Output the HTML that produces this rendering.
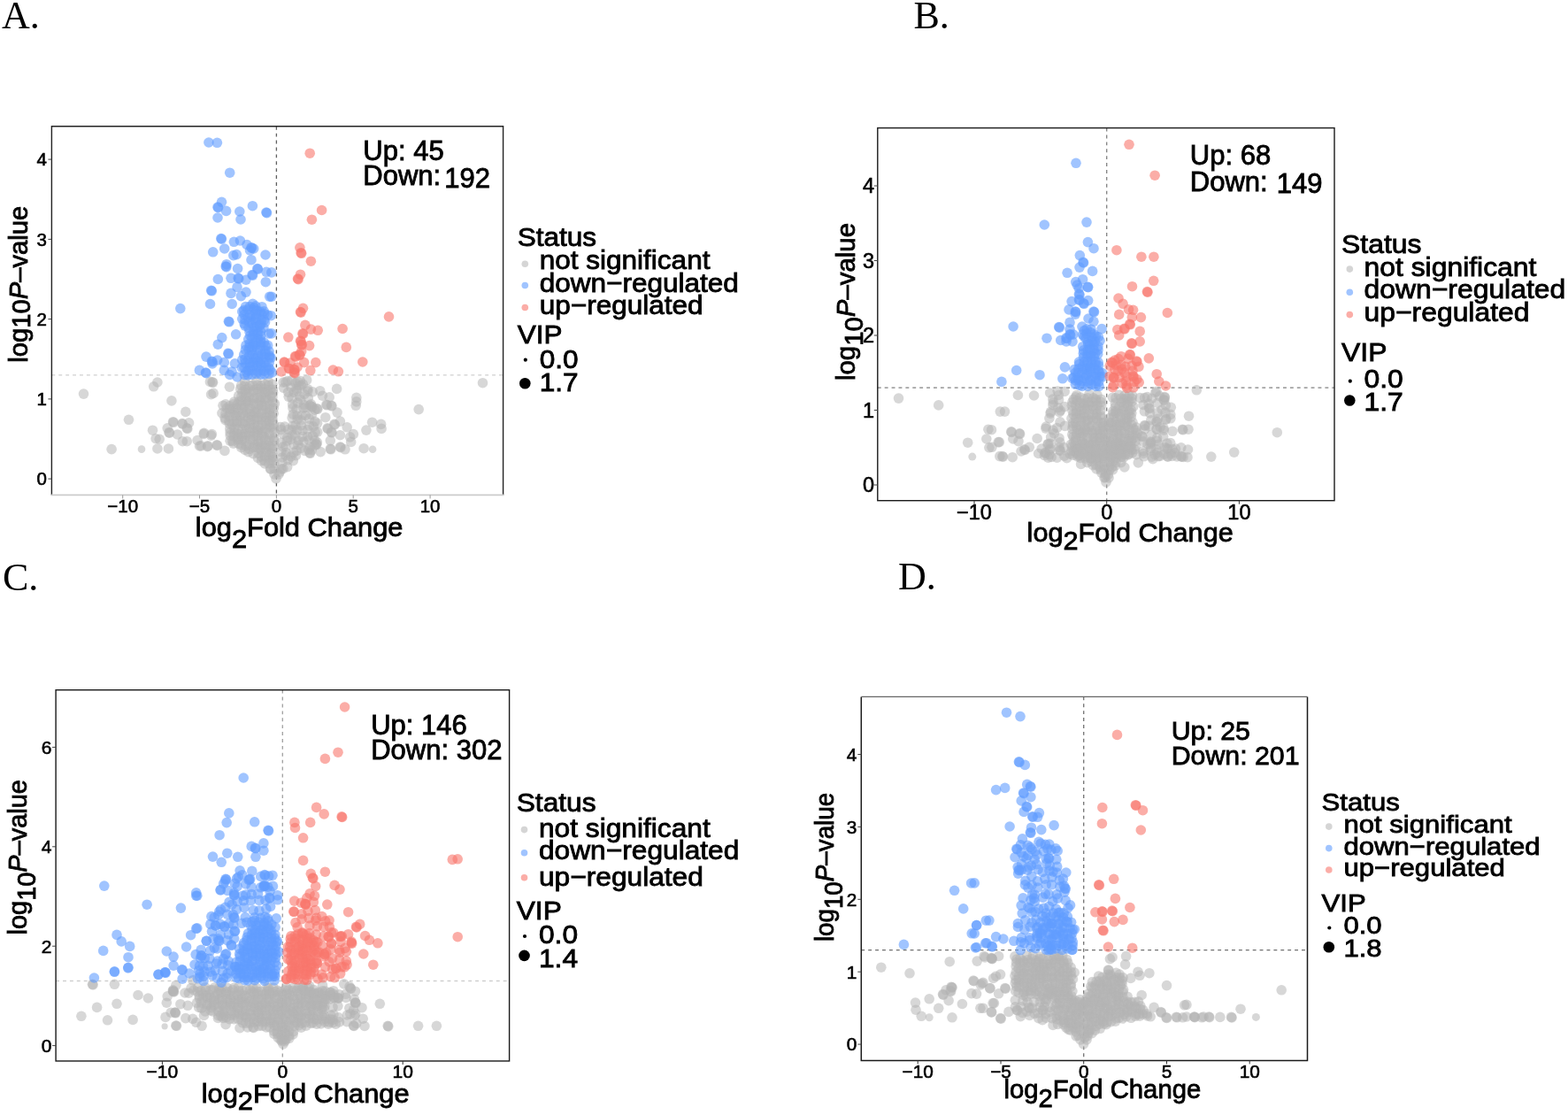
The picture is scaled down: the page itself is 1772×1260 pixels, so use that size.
<!DOCTYPE html>
<html><head><meta charset="utf-8"><title>Volcano plots</title>
<style>
html,body{margin:0;padding:0;background:#fff;}
body{width:1772px;height:1260px;overflow:hidden;}
svg{display:block;}
text{fill:#000;}
.t{stroke:#000;stroke-width:0.85px;}
.tk{stroke:#000;stroke-width:0.6px;}
.lab{stroke:none;}
</style></head>
<body>
<svg width="1772" height="1260" viewBox="0 0 1772 1260">
<rect width="1772" height="1260" fill="#fff"/>
<line x1="58.4" y1="423.8" x2="568.6" y2="423.8" stroke="#cfcfcf" stroke-width="1.3" stroke-dasharray="3.9,4"/>
<line x1="312.4" y1="142.8" x2="312.4" y2="559.4" stroke="#606060" stroke-width="1.3" stroke-dasharray="3.9,4"/>
<line x1="991.8" y1="438.1" x2="1508.0" y2="438.1" stroke="#808080" stroke-width="1.3" stroke-dasharray="3.9,4"/>
<line x1="1250.7" y1="144.6" x2="1250.7" y2="565.7" stroke="#808080" stroke-width="1.3" stroke-dasharray="3.9,4"/>
<line x1="63.1" y1="1108.5" x2="575.6" y2="1108.5" stroke="#cfcfcf" stroke-width="1.3" stroke-dasharray="3.9,4"/>
<line x1="319.3" y1="779.7" x2="319.3" y2="1199.0" stroke="#a0a0a0" stroke-width="1.3" stroke-dasharray="3.9,4"/>
<line x1="973.3" y1="1073.6" x2="1477.5" y2="1073.6" stroke="#707070" stroke-width="1.3" stroke-dasharray="3.9,4"/>
<line x1="1224.7" y1="787.4" x2="1224.7" y2="1198.4" stroke="#707070" stroke-width="1.3" stroke-dasharray="3.9,4"/>
<g fill="#b3b3b3" fill-opacity="0.53">
<circle cx="94.5" cy="445.1" r="5.8"/>
<circle cx="177.9" cy="432.0" r="5.8"/>
<circle cx="173.7" cy="436.8" r="5.8"/>
<circle cx="193.9" cy="452.9" r="5.8"/>
<circle cx="209.8" cy="465.4" r="5.8"/>
<circle cx="145.5" cy="474.3" r="5.8"/>
<circle cx="195.5" cy="476.7" r="5.8"/>
<circle cx="196.1" cy="477.3" r="5.8"/>
<circle cx="205.8" cy="478.5" r="5.8"/>
<circle cx="206.4" cy="479.1" r="5.8"/>
<circle cx="213.6" cy="477.9" r="5.8"/>
<circle cx="211.2" cy="483.8" r="5.8"/>
<circle cx="211.8" cy="484.4" r="5.8"/>
<circle cx="189.2" cy="483.8" r="5.8"/>
<circle cx="191.0" cy="488.6" r="5.8"/>
<circle cx="191.6" cy="489.2" r="5.8"/>
<circle cx="172.5" cy="486.2" r="5.8"/>
<circle cx="200.5" cy="491.0" r="5.8"/>
<circle cx="176.1" cy="495.7" r="5.8"/>
<circle cx="180.2" cy="496.3" r="5.8"/>
<circle cx="206.4" cy="498.7" r="5.8"/>
<circle cx="211.2" cy="498.7" r="5.8"/>
<circle cx="230.2" cy="490.4" r="5.8"/>
<circle cx="238.6" cy="492.1" r="5.8"/>
<circle cx="223.1" cy="497.5" r="5.8"/>
<circle cx="225.5" cy="504.0" r="5.8"/>
<circle cx="234.4" cy="504.6" r="5.8"/>
<circle cx="126.1" cy="507.6" r="5.8"/>
<circle cx="177.9" cy="507.0" r="5.8"/>
<circle cx="190.4" cy="507.0" r="5.8"/>
<circle cx="237.4" cy="431.4" r="5.8"/>
<circle cx="238.6" cy="445.7" r="5.8"/>
<circle cx="240.0" cy="431.7" r="5.8"/>
<circle cx="240.6" cy="432.3" r="5.8"/>
<circle cx="241.1" cy="444.4" r="5.8"/>
<circle cx="259.4" cy="437.2" r="5.8"/>
<circle cx="230.6" cy="489.4" r="5.8"/>
<circle cx="239.4" cy="490.6" r="5.8"/>
<circle cx="235.0" cy="503.9" r="5.8"/>
<circle cx="245.0" cy="502.8" r="5.8"/>
<circle cx="245.6" cy="503.4" r="5.8"/>
<circle cx="253.9" cy="509.4" r="5.8"/>
<circle cx="227.2" cy="503.9" r="5.8"/>
<circle cx="320.6" cy="438.3" r="5.8"/>
<circle cx="325.0" cy="430.6" r="5.8"/>
<circle cx="333.9" cy="432.8" r="5.8"/>
<circle cx="335.0" cy="439.4" r="5.8"/>
<circle cx="339.4" cy="430.6" r="5.8"/>
<circle cx="346.7" cy="429.4" r="5.8"/>
<circle cx="380.6" cy="439.4" r="5.8"/>
<circle cx="353.3" cy="442.8" r="5.8"/>
<circle cx="361.7" cy="441.7" r="5.8"/>
<circle cx="364.4" cy="447.2" r="5.8"/>
<circle cx="372.2" cy="448.9" r="5.8"/>
<circle cx="402.8" cy="449.4" r="5.8"/>
<circle cx="402.8" cy="453.9" r="5.8"/>
<circle cx="402.2" cy="458.3" r="5.8"/>
<circle cx="352.2" cy="459.4" r="5.8"/>
<circle cx="352.8" cy="460.0" r="5.8"/>
<circle cx="358.3" cy="461.7" r="5.8"/>
<circle cx="358.9" cy="462.3" r="5.8"/>
<circle cx="368.9" cy="457.2" r="5.8"/>
<circle cx="369.5" cy="457.8" r="5.8"/>
<circle cx="374.4" cy="458.3" r="5.8"/>
<circle cx="375.0" cy="458.9" r="5.8"/>
<circle cx="381.1" cy="466.1" r="5.8"/>
<circle cx="367.8" cy="471.7" r="5.8"/>
<circle cx="377.8" cy="479.4" r="5.8"/>
<circle cx="378.4" cy="480.0" r="5.8"/>
<circle cx="384.4" cy="476.1" r="5.8"/>
<circle cx="392.2" cy="482.8" r="5.8"/>
<circle cx="370.0" cy="483.9" r="5.8"/>
<circle cx="370.6" cy="484.5" r="5.8"/>
<circle cx="374.4" cy="488.3" r="5.8"/>
<circle cx="375.0" cy="488.9" r="5.8"/>
<circle cx="384.4" cy="491.7" r="5.8"/>
<circle cx="399.4" cy="490.6" r="5.8"/>
<circle cx="395.6" cy="493.9" r="5.8"/>
<circle cx="396.7" cy="499.4" r="5.8"/>
<circle cx="420.6" cy="477.2" r="5.8"/>
<circle cx="430.6" cy="479.4" r="5.8"/>
<circle cx="431.1" cy="484.4" r="5.8"/>
<circle cx="413.9" cy="486.1" r="5.8"/>
<circle cx="373.3" cy="497.8" r="5.8"/>
<circle cx="357.2" cy="501.7" r="5.8"/>
<circle cx="357.8" cy="502.3" r="5.8"/>
<circle cx="373.3" cy="507.2" r="5.8"/>
<circle cx="373.9" cy="507.8" r="5.8"/>
<circle cx="384.4" cy="505.0" r="5.8"/>
<circle cx="385.0" cy="505.6" r="5.8"/>
<circle cx="390.0" cy="507.8" r="5.8"/>
<circle cx="411.1" cy="506.7" r="5.8"/>
<circle cx="362.2" cy="510.6" r="5.8"/>
<circle cx="350.0" cy="511.7" r="5.8"/>
<circle cx="350.6" cy="512.3" r="5.8"/>
<circle cx="545.5" cy="432.7" r="5.8"/>
<circle cx="473.2" cy="462.6" r="5.8"/>
<circle cx="276.6" cy="430.6" r="5.8"/>
<circle cx="289.9" cy="430.5" r="5.8"/>
<circle cx="303.2" cy="431.0" r="5.8"/>
<circle cx="272.6" cy="435.6" r="5.8"/>
<circle cx="276.4" cy="436.4" r="5.8"/>
<circle cx="282.3" cy="435.7" r="5.8"/>
<circle cx="285.6" cy="435.4" r="5.8"/>
<circle cx="291.2" cy="435.3" r="5.8"/>
<circle cx="295.1" cy="435.7" r="5.8"/>
<circle cx="299.5" cy="434.4" r="5.8"/>
<circle cx="303.5" cy="435.6" r="5.8"/>
<circle cx="307.8" cy="434.2" r="5.8"/>
<circle cx="271.7" cy="439.4" r="5.8"/>
<circle cx="277.1" cy="440.5" r="5.8"/>
<circle cx="280.5" cy="439.0" r="5.8"/>
<circle cx="286.5" cy="440.9" r="5.8"/>
<circle cx="291.1" cy="439.4" r="5.8"/>
<circle cx="296.0" cy="438.9" r="5.8"/>
<circle cx="298.6" cy="439.5" r="5.8"/>
<circle cx="305.7" cy="440.2" r="5.8"/>
<circle cx="308.3" cy="440.1" r="5.8"/>
<circle cx="273.8" cy="443.1" r="5.8"/>
<circle cx="277.4" cy="444.2" r="5.8"/>
<circle cx="281.5" cy="443.4" r="5.8"/>
<circle cx="286.3" cy="442.9" r="5.8"/>
<circle cx="292.1" cy="442.8" r="5.8"/>
<circle cx="296.5" cy="443.2" r="5.8"/>
<circle cx="299.4" cy="443.7" r="5.8"/>
<circle cx="303.1" cy="442.9" r="5.8"/>
<circle cx="308.6" cy="443.8" r="5.8"/>
<circle cx="269.6" cy="447.4" r="5.8"/>
<circle cx="272.9" cy="448.1" r="5.8"/>
<circle cx="277.0" cy="449.4" r="5.8"/>
<circle cx="281.1" cy="449.2" r="5.8"/>
<circle cx="287.0" cy="449.8" r="5.8"/>
<circle cx="291.1" cy="449.8" r="5.8"/>
<circle cx="295.3" cy="448.7" r="5.8"/>
<circle cx="300.4" cy="449.5" r="5.8"/>
<circle cx="305.7" cy="447.3" r="5.8"/>
<circle cx="307.9" cy="448.6" r="5.8"/>
<circle cx="264.6" cy="454.1" r="5.8"/>
<circle cx="270.0" cy="453.9" r="5.8"/>
<circle cx="272.8" cy="453.4" r="5.8"/>
<circle cx="278.5" cy="453.6" r="5.8"/>
<circle cx="281.4" cy="453.8" r="5.8"/>
<circle cx="285.3" cy="452.4" r="5.8"/>
<circle cx="292.5" cy="452.9" r="5.8"/>
<circle cx="294.8" cy="453.9" r="5.8"/>
<circle cx="299.9" cy="451.5" r="5.8"/>
<circle cx="303.1" cy="452.3" r="5.8"/>
<circle cx="308.5" cy="454.3" r="5.8"/>
<circle cx="252.0" cy="458.3" r="5.8"/>
<circle cx="255.0" cy="456.8" r="5.8"/>
<circle cx="259.4" cy="458.7" r="5.8"/>
<circle cx="264.1" cy="456.6" r="5.8"/>
<circle cx="268.1" cy="457.4" r="5.8"/>
<circle cx="272.1" cy="457.7" r="5.8"/>
<circle cx="276.1" cy="458.5" r="5.8"/>
<circle cx="281.0" cy="456.3" r="5.8"/>
<circle cx="286.8" cy="456.9" r="5.8"/>
<circle cx="292.2" cy="457.5" r="5.8"/>
<circle cx="295.6" cy="458.5" r="5.8"/>
<circle cx="299.1" cy="458.2" r="5.8"/>
<circle cx="304.9" cy="457.3" r="5.8"/>
<circle cx="310.4" cy="456.1" r="5.8"/>
<circle cx="256.3" cy="461.3" r="5.8"/>
<circle cx="259.5" cy="462.3" r="5.8"/>
<circle cx="263.2" cy="462.1" r="5.8"/>
<circle cx="267.0" cy="461.8" r="5.8"/>
<circle cx="273.8" cy="461.5" r="5.8"/>
<circle cx="276.7" cy="460.7" r="5.8"/>
<circle cx="282.6" cy="461.8" r="5.8"/>
<circle cx="287.7" cy="462.7" r="5.8"/>
<circle cx="289.8" cy="463.2" r="5.8"/>
<circle cx="296.8" cy="463.0" r="5.8"/>
<circle cx="301.0" cy="462.5" r="5.8"/>
<circle cx="305.2" cy="462.5" r="5.8"/>
<circle cx="309.3" cy="461.3" r="5.8"/>
<circle cx="250.9" cy="466.8" r="5.8"/>
<circle cx="255.0" cy="467.3" r="5.8"/>
<circle cx="260.6" cy="466.1" r="5.8"/>
<circle cx="264.9" cy="466.5" r="5.8"/>
<circle cx="268.7" cy="466.2" r="5.8"/>
<circle cx="274.3" cy="466.3" r="5.8"/>
<circle cx="278.9" cy="466.0" r="5.8"/>
<circle cx="282.5" cy="467.7" r="5.8"/>
<circle cx="287.1" cy="466.1" r="5.8"/>
<circle cx="289.7" cy="466.4" r="5.8"/>
<circle cx="295.2" cy="467.4" r="5.8"/>
<circle cx="300.9" cy="468.0" r="5.8"/>
<circle cx="304.3" cy="466.2" r="5.8"/>
<circle cx="309.2" cy="467.2" r="5.8"/>
<circle cx="254.1" cy="472.3" r="5.8"/>
<circle cx="258.9" cy="470.1" r="5.8"/>
<circle cx="265.4" cy="469.8" r="5.8"/>
<circle cx="267.3" cy="469.9" r="5.8"/>
<circle cx="271.7" cy="470.7" r="5.8"/>
<circle cx="276.6" cy="470.0" r="5.8"/>
<circle cx="280.5" cy="471.6" r="5.8"/>
<circle cx="285.1" cy="470.2" r="5.8"/>
<circle cx="291.2" cy="472.2" r="5.8"/>
<circle cx="296.0" cy="471.6" r="5.8"/>
<circle cx="300.6" cy="471.9" r="5.8"/>
<circle cx="305.6" cy="470.0" r="5.8"/>
<circle cx="307.7" cy="471.4" r="5.8"/>
<circle cx="254.8" cy="474.7" r="5.8"/>
<circle cx="258.8" cy="475.7" r="5.8"/>
<circle cx="264.2" cy="476.7" r="5.8"/>
<circle cx="267.8" cy="476.1" r="5.8"/>
<circle cx="271.8" cy="476.0" r="5.8"/>
<circle cx="276.5" cy="476.6" r="5.8"/>
<circle cx="283.4" cy="474.8" r="5.8"/>
<circle cx="287.4" cy="474.7" r="5.8"/>
<circle cx="290.4" cy="474.3" r="5.8"/>
<circle cx="295.3" cy="474.3" r="5.8"/>
<circle cx="300.6" cy="475.7" r="5.8"/>
<circle cx="304.3" cy="476.1" r="5.8"/>
<circle cx="308.2" cy="475.0" r="5.8"/>
<circle cx="259.3" cy="478.9" r="5.8"/>
<circle cx="262.5" cy="480.1" r="5.8"/>
<circle cx="267.7" cy="479.0" r="5.8"/>
<circle cx="274.2" cy="478.6" r="5.8"/>
<circle cx="277.1" cy="480.8" r="5.8"/>
<circle cx="282.7" cy="478.8" r="5.8"/>
<circle cx="287.2" cy="480.2" r="5.8"/>
<circle cx="291.4" cy="481.3" r="5.8"/>
<circle cx="296.4" cy="480.3" r="5.8"/>
<circle cx="300.8" cy="480.0" r="5.8"/>
<circle cx="304.7" cy="481.0" r="5.8"/>
<circle cx="309.4" cy="479.6" r="5.8"/>
<circle cx="259.8" cy="484.7" r="5.8"/>
<circle cx="264.8" cy="484.3" r="5.8"/>
<circle cx="268.6" cy="485.3" r="5.8"/>
<circle cx="273.7" cy="485.2" r="5.8"/>
<circle cx="278.7" cy="484.7" r="5.8"/>
<circle cx="282.2" cy="483.6" r="5.8"/>
<circle cx="285.7" cy="484.3" r="5.8"/>
<circle cx="291.0" cy="485.7" r="5.8"/>
<circle cx="294.1" cy="484.0" r="5.8"/>
<circle cx="300.7" cy="484.4" r="5.8"/>
<circle cx="305.5" cy="483.5" r="5.8"/>
<circle cx="309.8" cy="484.3" r="5.8"/>
<circle cx="260.1" cy="488.8" r="5.8"/>
<circle cx="264.7" cy="489.3" r="5.8"/>
<circle cx="268.2" cy="490.1" r="5.8"/>
<circle cx="271.9" cy="490.4" r="5.8"/>
<circle cx="276.3" cy="490.4" r="5.8"/>
<circle cx="282.3" cy="488.8" r="5.8"/>
<circle cx="287.8" cy="489.0" r="5.8"/>
<circle cx="291.0" cy="487.7" r="5.8"/>
<circle cx="296.4" cy="489.4" r="5.8"/>
<circle cx="299.2" cy="487.8" r="5.8"/>
<circle cx="304.3" cy="490.3" r="5.8"/>
<circle cx="310.1" cy="488.9" r="5.8"/>
<circle cx="260.2" cy="492.1" r="5.8"/>
<circle cx="264.2" cy="492.9" r="5.8"/>
<circle cx="269.1" cy="494.9" r="5.8"/>
<circle cx="273.5" cy="493.5" r="5.8"/>
<circle cx="277.8" cy="492.7" r="5.8"/>
<circle cx="281.9" cy="492.3" r="5.8"/>
<circle cx="287.2" cy="492.2" r="5.8"/>
<circle cx="291.1" cy="492.5" r="5.8"/>
<circle cx="295.7" cy="492.2" r="5.8"/>
<circle cx="298.6" cy="493.9" r="5.8"/>
<circle cx="305.2" cy="494.7" r="5.8"/>
<circle cx="309.5" cy="495.0" r="5.8"/>
<circle cx="260.1" cy="498.2" r="5.8"/>
<circle cx="262.7" cy="498.7" r="5.8"/>
<circle cx="268.5" cy="497.0" r="5.8"/>
<circle cx="273.4" cy="497.2" r="5.8"/>
<circle cx="276.9" cy="497.9" r="5.8"/>
<circle cx="282.8" cy="496.8" r="5.8"/>
<circle cx="286.3" cy="497.2" r="5.8"/>
<circle cx="291.5" cy="498.9" r="5.8"/>
<circle cx="294.8" cy="498.7" r="5.8"/>
<circle cx="299.9" cy="497.2" r="5.8"/>
<circle cx="303.8" cy="498.1" r="5.8"/>
<circle cx="309.9" cy="498.3" r="5.8"/>
<circle cx="263.8" cy="501.2" r="5.8"/>
<circle cx="269.7" cy="501.3" r="5.8"/>
<circle cx="272.6" cy="502.9" r="5.8"/>
<circle cx="278.0" cy="503.7" r="5.8"/>
<circle cx="281.0" cy="502.7" r="5.8"/>
<circle cx="287.6" cy="502.4" r="5.8"/>
<circle cx="291.6" cy="502.4" r="5.8"/>
<circle cx="296.1" cy="503.9" r="5.8"/>
<circle cx="299.5" cy="503.2" r="5.8"/>
<circle cx="304.0" cy="503.7" r="5.8"/>
<circle cx="309.8" cy="503.6" r="5.8"/>
<circle cx="272.7" cy="505.6" r="5.8"/>
<circle cx="276.9" cy="508.4" r="5.8"/>
<circle cx="281.9" cy="507.5" r="5.8"/>
<circle cx="286.3" cy="505.7" r="5.8"/>
<circle cx="291.3" cy="506.1" r="5.8"/>
<circle cx="294.4" cy="507.4" r="5.8"/>
<circle cx="300.5" cy="505.5" r="5.8"/>
<circle cx="305.8" cy="505.6" r="5.8"/>
<circle cx="308.0" cy="506.5" r="5.8"/>
<circle cx="280.7" cy="510.7" r="5.8"/>
<circle cx="286.1" cy="512.7" r="5.8"/>
<circle cx="292.0" cy="512.5" r="5.8"/>
<circle cx="295.9" cy="510.0" r="5.8"/>
<circle cx="300.7" cy="510.6" r="5.8"/>
<circle cx="305.8" cy="512.9" r="5.8"/>
<circle cx="307.7" cy="512.2" r="5.8"/>
<circle cx="291.5" cy="517.4" r="5.8"/>
<circle cx="295.4" cy="515.8" r="5.8"/>
<circle cx="299.7" cy="515.6" r="5.8"/>
<circle cx="304.2" cy="515.0" r="5.8"/>
<circle cx="308.4" cy="516.6" r="5.8"/>
<circle cx="295.5" cy="520.6" r="5.8"/>
<circle cx="299.1" cy="520.7" r="5.8"/>
<circle cx="305.6" cy="520.3" r="5.8"/>
<circle cx="308.8" cy="520.1" r="5.8"/>
<circle cx="299.3" cy="524.0" r="5.8"/>
<circle cx="303.7" cy="523.7" r="5.8"/>
<circle cx="309.9" cy="523.5" r="5.8"/>
<circle cx="305.5" cy="529.8" r="5.8"/>
<circle cx="310.1" cy="529.6" r="5.8"/>
<circle cx="320.1" cy="432.1" r="5.8"/>
<circle cx="322.7" cy="431.8" r="5.8"/>
<circle cx="329.6" cy="429.9" r="5.8"/>
<circle cx="336.3" cy="431.3" r="5.8"/>
<circle cx="342.3" cy="434.2" r="5.8"/>
<circle cx="328.9" cy="438.0" r="5.8"/>
<circle cx="337.9" cy="436.0" r="5.8"/>
<circle cx="340.1" cy="435.7" r="5.8"/>
<circle cx="347.8" cy="439.7" r="5.8"/>
<circle cx="325.6" cy="443.1" r="5.8"/>
<circle cx="332.0" cy="443.2" r="5.8"/>
<circle cx="335.7" cy="441.9" r="5.8"/>
<circle cx="344.0" cy="445.5" r="5.8"/>
<circle cx="347.9" cy="442.1" r="5.8"/>
<circle cx="326.2" cy="448.3" r="5.8"/>
<circle cx="330.0" cy="449.9" r="5.8"/>
<circle cx="338.4" cy="447.7" r="5.8"/>
<circle cx="339.8" cy="451.7" r="5.8"/>
<circle cx="348.3" cy="449.8" r="5.8"/>
<circle cx="330.6" cy="457.0" r="5.8"/>
<circle cx="336.5" cy="455.1" r="5.8"/>
<circle cx="343.6" cy="457.5" r="5.8"/>
<circle cx="350.0" cy="458.0" r="5.8"/>
<circle cx="351.6" cy="456.8" r="5.8"/>
<circle cx="330.9" cy="461.1" r="5.8"/>
<circle cx="335.1" cy="462.5" r="5.8"/>
<circle cx="343.0" cy="461.2" r="5.8"/>
<circle cx="345.8" cy="460.4" r="5.8"/>
<circle cx="355.8" cy="463.1" r="5.8"/>
<circle cx="331.2" cy="468.2" r="5.8"/>
<circle cx="335.9" cy="470.0" r="5.8"/>
<circle cx="341.5" cy="469.4" r="5.8"/>
<circle cx="345.5" cy="469.4" r="5.8"/>
<circle cx="352.3" cy="468.8" r="5.8"/>
<circle cx="330.1" cy="472.1" r="5.8"/>
<circle cx="336.2" cy="473.8" r="5.8"/>
<circle cx="340.3" cy="475.0" r="5.8"/>
<circle cx="349.4" cy="473.2" r="5.8"/>
<circle cx="355.8" cy="476.4" r="5.8"/>
<circle cx="316.9" cy="482.5" r="5.8"/>
<circle cx="321.8" cy="482.1" r="5.8"/>
<circle cx="331.0" cy="481.4" r="5.8"/>
<circle cx="334.0" cy="480.7" r="5.8"/>
<circle cx="340.5" cy="480.9" r="5.8"/>
<circle cx="349.5" cy="481.1" r="5.8"/>
<circle cx="354.2" cy="481.9" r="5.8"/>
<circle cx="358.6" cy="478.3" r="5.8"/>
<circle cx="317.6" cy="485.6" r="5.8"/>
<circle cx="325.9" cy="485.4" r="5.8"/>
<circle cx="330.3" cy="486.0" r="5.8"/>
<circle cx="335.9" cy="485.9" r="5.8"/>
<circle cx="341.8" cy="486.5" r="5.8"/>
<circle cx="347.7" cy="485.6" r="5.8"/>
<circle cx="356.1" cy="488.4" r="5.8"/>
<circle cx="358.7" cy="488.2" r="5.8"/>
<circle cx="320.0" cy="490.3" r="5.8"/>
<circle cx="324.8" cy="494.5" r="5.8"/>
<circle cx="330.6" cy="491.8" r="5.8"/>
<circle cx="333.7" cy="491.8" r="5.8"/>
<circle cx="341.8" cy="493.4" r="5.8"/>
<circle cx="347.5" cy="493.5" r="5.8"/>
<circle cx="353.5" cy="492.7" r="5.8"/>
<circle cx="317.9" cy="500.4" r="5.8"/>
<circle cx="324.4" cy="498.1" r="5.8"/>
<circle cx="328.6" cy="496.6" r="5.8"/>
<circle cx="337.3" cy="498.0" r="5.8"/>
<circle cx="342.8" cy="499.0" r="5.8"/>
<circle cx="348.9" cy="497.1" r="5.8"/>
<circle cx="355.8" cy="497.7" r="5.8"/>
<circle cx="358.4" cy="499.8" r="5.8"/>
<circle cx="319.9" cy="504.9" r="5.8"/>
<circle cx="322.8" cy="504.4" r="5.8"/>
<circle cx="332.1" cy="502.3" r="5.8"/>
<circle cx="336.8" cy="502.7" r="5.8"/>
<circle cx="340.2" cy="506.3" r="5.8"/>
<circle cx="350.5" cy="504.8" r="5.8"/>
<circle cx="355.5" cy="503.5" r="5.8"/>
<circle cx="317.8" cy="510.6" r="5.8"/>
<circle cx="323.5" cy="511.6" r="5.8"/>
<circle cx="331.8" cy="511.4" r="5.8"/>
<circle cx="335.1" cy="509.4" r="5.8"/>
<circle cx="344.4" cy="509.4" r="5.8"/>
<circle cx="348.8" cy="508.0" r="5.8"/>
<circle cx="352.2" cy="508.6" r="5.8"/>
<circle cx="319.0" cy="517.0" r="5.8"/>
<circle cx="322.8" cy="514.7" r="5.8"/>
<circle cx="328.8" cy="516.0" r="5.8"/>
<circle cx="334.4" cy="514.7" r="5.8"/>
<circle cx="319.1" cy="522.6" r="5.8"/>
<circle cx="325.6" cy="519.7" r="5.8"/>
<circle cx="331.3" cy="520.6" r="5.8"/>
<circle cx="319.9" cy="529.7" r="5.8"/>
<circle cx="324.7" cy="527.6" r="5.8"/>
<circle cx="316.2" cy="533.2" r="5.8"/>
<circle cx="312.0" cy="541.0" r="5.8"/>
<circle cx="310.0" cy="536.0" r="5.8"/>
<circle cx="315.0" cy="536.0" r="5.8"/>
<circle cx="306.0" cy="530.0" r="5.8"/>
<circle cx="318.0" cy="530.0" r="5.8"/>
<circle cx="160.0" cy="507.6" r="4.3"/>
<circle cx="421.1" cy="507.8" r="4.3"/>
</g>
<g fill="#619cff" fill-opacity="0.6">
<circle cx="235.9" cy="161.0" r="5.8"/>
<circle cx="245.4" cy="161.3" r="5.8"/>
<circle cx="259.7" cy="195.2" r="5.8"/>
<circle cx="250.5" cy="228.3" r="5.8"/>
<circle cx="246.0" cy="234.0" r="5.8"/>
<circle cx="246.6" cy="234.6" r="5.8"/>
<circle cx="255.6" cy="238.4" r="5.8"/>
<circle cx="246.0" cy="246.0" r="5.8"/>
<circle cx="270.8" cy="239.0" r="5.8"/>
<circle cx="272.0" cy="248.0" r="5.8"/>
<circle cx="285.4" cy="232.7" r="5.8"/>
<circle cx="300.9" cy="240.0" r="5.8"/>
<circle cx="301.5" cy="240.6" r="5.8"/>
<circle cx="249.8" cy="269.5" r="5.8"/>
<circle cx="250.4" cy="270.1" r="5.8"/>
<circle cx="253.7" cy="281.0" r="5.8"/>
<circle cx="240.7" cy="284.8" r="5.8"/>
<circle cx="264.4" cy="273.3" r="5.8"/>
<circle cx="271.4" cy="272.0" r="5.8"/>
<circle cx="279.0" cy="276.5" r="5.8"/>
<circle cx="284.0" cy="279.7" r="5.8"/>
<circle cx="284.6" cy="280.3" r="5.8"/>
<circle cx="286.7" cy="281.0" r="5.8"/>
<circle cx="263.8" cy="288.6" r="5.8"/>
<circle cx="300.0" cy="288.0" r="5.8"/>
<circle cx="284.0" cy="293.7" r="5.8"/>
<circle cx="256.0" cy="298.7" r="5.8"/>
<circle cx="267.3" cy="287.6" r="5.8"/>
<circle cx="282.5" cy="283.0" r="5.8"/>
<circle cx="255.2" cy="301.0" r="5.8"/>
<circle cx="255.8" cy="301.6" r="5.8"/>
<circle cx="268.6" cy="303.5" r="5.8"/>
<circle cx="290.8" cy="303.5" r="5.8"/>
<circle cx="291.4" cy="304.1" r="5.8"/>
<circle cx="285.0" cy="310.5" r="5.8"/>
<circle cx="285.6" cy="311.1" r="5.8"/>
<circle cx="301.0" cy="307.3" r="5.8"/>
<circle cx="300.3" cy="318.7" r="5.8"/>
<circle cx="246.3" cy="315.5" r="5.8"/>
<circle cx="261.0" cy="314.3" r="5.8"/>
<circle cx="269.2" cy="314.3" r="5.8"/>
<circle cx="269.8" cy="314.9" r="5.8"/>
<circle cx="278.0" cy="316.2" r="5.8"/>
<circle cx="238.7" cy="328.2" r="5.8"/>
<circle cx="239.3" cy="328.8" r="5.8"/>
<circle cx="268.0" cy="324.4" r="5.8"/>
<circle cx="261.0" cy="331.4" r="5.8"/>
<circle cx="278.0" cy="330.1" r="5.8"/>
<circle cx="272.4" cy="334.6" r="5.8"/>
<circle cx="304.7" cy="335.2" r="5.8"/>
<circle cx="237.5" cy="343.5" r="5.8"/>
<circle cx="203.8" cy="348.6" r="5.8"/>
<circle cx="262.2" cy="343.5" r="5.8"/>
<circle cx="258.4" cy="363.2" r="5.8"/>
<circle cx="259.0" cy="363.8" r="5.8"/>
<circle cx="266.6" cy="377.8" r="5.8"/>
<circle cx="304.0" cy="377.0" r="5.8"/>
<circle cx="250.8" cy="381.6" r="5.8"/>
<circle cx="246.3" cy="389.2" r="5.8"/>
<circle cx="257.8" cy="399.3" r="5.8"/>
<circle cx="258.4" cy="399.9" r="5.8"/>
<circle cx="233.0" cy="403.1" r="5.8"/>
<circle cx="239.4" cy="408.2" r="5.8"/>
<circle cx="240.0" cy="408.8" r="5.8"/>
<circle cx="245.7" cy="407.0" r="5.8"/>
<circle cx="253.3" cy="409.5" r="5.8"/>
<circle cx="265.4" cy="410.8" r="5.8"/>
<circle cx="225.4" cy="418.4" r="5.8"/>
<circle cx="232.4" cy="421.0" r="5.8"/>
<circle cx="233.0" cy="421.6" r="5.8"/>
<circle cx="253.3" cy="418.4" r="5.8"/>
<circle cx="259.7" cy="423.5" r="5.8"/>
<circle cx="306.8" cy="307.9" r="5.8"/>
<circle cx="306.8" cy="335.2" r="5.8"/>
<circle cx="306.2" cy="356.7" r="5.8"/>
<circle cx="306.8" cy="376.9" r="5.8"/>
<circle cx="306.2" cy="404.3" r="5.8"/>
<circle cx="307.4" cy="421.0" r="5.8"/>
<circle cx="240.0" cy="411.0" r="5.8"/>
<circle cx="262.0" cy="420.0" r="5.8"/>
<circle cx="268.0" cy="426.0" r="5.8"/>
<circle cx="285.6" cy="343.3" r="5.8"/>
<circle cx="277.6" cy="346.5" r="5.8"/>
<circle cx="282.3" cy="346.5" r="5.8"/>
<circle cx="287.2" cy="347.8" r="5.8"/>
<circle cx="288.8" cy="345.9" r="5.8"/>
<circle cx="296.0" cy="346.7" r="5.8"/>
<circle cx="273.7" cy="352.1" r="5.8"/>
<circle cx="275.7" cy="350.5" r="5.8"/>
<circle cx="280.1" cy="350.0" r="5.8"/>
<circle cx="286.7" cy="350.3" r="5.8"/>
<circle cx="290.5" cy="351.1" r="5.8"/>
<circle cx="293.9" cy="352.0" r="5.8"/>
<circle cx="298.2" cy="351.7" r="5.8"/>
<circle cx="275.9" cy="355.5" r="5.8"/>
<circle cx="282.4" cy="356.2" r="5.8"/>
<circle cx="284.6" cy="357.3" r="5.8"/>
<circle cx="289.4" cy="355.1" r="5.8"/>
<circle cx="295.6" cy="355.3" r="5.8"/>
<circle cx="298.7" cy="354.5" r="5.8"/>
<circle cx="302.6" cy="356.0" r="5.8"/>
<circle cx="273.7" cy="360.3" r="5.8"/>
<circle cx="277.0" cy="361.4" r="5.8"/>
<circle cx="280.3" cy="359.3" r="5.8"/>
<circle cx="287.0" cy="361.3" r="5.8"/>
<circle cx="289.5" cy="359.4" r="5.8"/>
<circle cx="295.5" cy="361.6" r="5.8"/>
<circle cx="298.4" cy="361.7" r="5.8"/>
<circle cx="276.1" cy="365.8" r="5.8"/>
<circle cx="281.6" cy="364.2" r="5.8"/>
<circle cx="284.8" cy="365.5" r="5.8"/>
<circle cx="289.0" cy="364.0" r="5.8"/>
<circle cx="295.0" cy="365.9" r="5.8"/>
<circle cx="299.6" cy="364.1" r="5.8"/>
<circle cx="277.0" cy="368.2" r="5.8"/>
<circle cx="280.9" cy="370.5" r="5.8"/>
<circle cx="287.2" cy="369.8" r="5.8"/>
<circle cx="290.9" cy="369.6" r="5.8"/>
<circle cx="293.7" cy="367.9" r="5.8"/>
<circle cx="297.9" cy="370.5" r="5.8"/>
<circle cx="282.0" cy="375.0" r="5.8"/>
<circle cx="286.5" cy="374.4" r="5.8"/>
<circle cx="291.2" cy="375.0" r="5.8"/>
<circle cx="294.4" cy="374.4" r="5.8"/>
<circle cx="282.8" cy="379.4" r="5.8"/>
<circle cx="286.5" cy="378.0" r="5.8"/>
<circle cx="291.0" cy="378.5" r="5.8"/>
<circle cx="294.6" cy="379.3" r="5.8"/>
<circle cx="280.7" cy="383.3" r="5.8"/>
<circle cx="284.9" cy="381.8" r="5.8"/>
<circle cx="291.5" cy="383.3" r="5.8"/>
<circle cx="294.6" cy="384.0" r="5.8"/>
<circle cx="282.3" cy="388.3" r="5.8"/>
<circle cx="286.4" cy="388.7" r="5.8"/>
<circle cx="289.6" cy="386.3" r="5.8"/>
<circle cx="294.7" cy="386.6" r="5.8"/>
<circle cx="298.4" cy="387.0" r="5.8"/>
<circle cx="277.9" cy="390.4" r="5.8"/>
<circle cx="281.9" cy="392.0" r="5.8"/>
<circle cx="285.2" cy="392.7" r="5.8"/>
<circle cx="288.9" cy="390.7" r="5.8"/>
<circle cx="294.7" cy="390.4" r="5.8"/>
<circle cx="300.3" cy="391.0" r="5.8"/>
<circle cx="302.7" cy="390.4" r="5.8"/>
<circle cx="277.4" cy="395.4" r="5.8"/>
<circle cx="281.2" cy="395.3" r="5.8"/>
<circle cx="284.3" cy="396.2" r="5.8"/>
<circle cx="290.9" cy="395.3" r="5.8"/>
<circle cx="294.1" cy="395.8" r="5.8"/>
<circle cx="299.9" cy="396.4" r="5.8"/>
<circle cx="304.1" cy="397.1" r="5.8"/>
<circle cx="275.7" cy="400.7" r="5.8"/>
<circle cx="281.7" cy="402.0" r="5.8"/>
<circle cx="285.4" cy="401.0" r="5.8"/>
<circle cx="291.4" cy="401.7" r="5.8"/>
<circle cx="296.1" cy="400.7" r="5.8"/>
<circle cx="299.8" cy="399.9" r="5.8"/>
<circle cx="304.5" cy="401.8" r="5.8"/>
<circle cx="273.7" cy="406.7" r="5.8"/>
<circle cx="276.9" cy="406.2" r="5.8"/>
<circle cx="280.8" cy="406.5" r="5.8"/>
<circle cx="286.9" cy="404.8" r="5.8"/>
<circle cx="289.0" cy="405.1" r="5.8"/>
<circle cx="295.0" cy="406.1" r="5.8"/>
<circle cx="299.3" cy="403.9" r="5.8"/>
<circle cx="304.7" cy="404.0" r="5.8"/>
<circle cx="276.8" cy="410.5" r="5.8"/>
<circle cx="282.3" cy="410.4" r="5.8"/>
<circle cx="287.1" cy="409.8" r="5.8"/>
<circle cx="291.6" cy="408.6" r="5.8"/>
<circle cx="294.0" cy="409.9" r="5.8"/>
<circle cx="298.7" cy="410.5" r="5.8"/>
<circle cx="304.2" cy="409.9" r="5.8"/>
<circle cx="273.3" cy="415.5" r="5.8"/>
<circle cx="275.9" cy="415.4" r="5.8"/>
<circle cx="282.7" cy="414.4" r="5.8"/>
<circle cx="286.0" cy="413.4" r="5.8"/>
<circle cx="290.4" cy="414.3" r="5.8"/>
<circle cx="295.1" cy="412.9" r="5.8"/>
<circle cx="300.7" cy="414.3" r="5.8"/>
<circle cx="303.5" cy="415.2" r="5.8"/>
<circle cx="278.2" cy="420.1" r="5.8"/>
<circle cx="280.6" cy="418.7" r="5.8"/>
<circle cx="284.7" cy="418.6" r="5.8"/>
<circle cx="291.2" cy="420.0" r="5.8"/>
<circle cx="294.7" cy="418.3" r="5.8"/>
<circle cx="298.4" cy="419.2" r="5.8"/>
<circle cx="305.1" cy="417.7" r="5.8"/>
<circle cx="276.4" cy="423.7" r="5.8"/>
<circle cx="280.1" cy="424.0" r="5.8"/>
<circle cx="284.7" cy="423.3" r="5.8"/>
<circle cx="289.6" cy="422.4" r="5.8"/>
<circle cx="294.9" cy="423.1" r="5.8"/>
<circle cx="298.9" cy="423.0" r="5.8"/>
<circle cx="303.9" cy="422.3" r="5.8"/>
</g>
<g fill="#f8766d" fill-opacity="0.6">
<circle cx="350.2" cy="173.2" r="5.8"/>
<circle cx="363.6" cy="237.5" r="5.8"/>
<circle cx="352.4" cy="248.2" r="5.8"/>
<circle cx="338.9" cy="279.8" r="5.8"/>
<circle cx="340.1" cy="285.7" r="5.8"/>
<circle cx="340.7" cy="286.3" r="5.8"/>
<circle cx="351.4" cy="295.2" r="5.8"/>
<circle cx="339.5" cy="310.2" r="5.8"/>
<circle cx="336.5" cy="315.0" r="5.8"/>
<circle cx="337.1" cy="315.6" r="5.8"/>
<circle cx="342.5" cy="348.3" r="5.8"/>
<circle cx="339.5" cy="352.5" r="5.8"/>
<circle cx="340.1" cy="353.1" r="5.8"/>
<circle cx="439.5" cy="357.9" r="5.8"/>
<circle cx="344.9" cy="367.4" r="5.8"/>
<circle cx="351.4" cy="372.1" r="5.8"/>
<circle cx="359.2" cy="373.3" r="5.8"/>
<circle cx="387.1" cy="371.5" r="5.8"/>
<circle cx="341.9" cy="376.9" r="5.8"/>
<circle cx="342.5" cy="377.5" r="5.8"/>
<circle cx="325.8" cy="381.1" r="5.8"/>
<circle cx="339.5" cy="385.2" r="5.8"/>
<circle cx="340.1" cy="385.8" r="5.8"/>
<circle cx="340.7" cy="389.4" r="5.8"/>
<circle cx="341.3" cy="390.0" r="5.8"/>
<circle cx="349.6" cy="390.6" r="5.8"/>
<circle cx="391.3" cy="392.4" r="5.8"/>
<circle cx="340.7" cy="397.1" r="5.8"/>
<circle cx="333.6" cy="402.5" r="5.8"/>
<circle cx="334.2" cy="403.1" r="5.8"/>
<circle cx="338.3" cy="400.7" r="5.8"/>
<circle cx="338.9" cy="401.3" r="5.8"/>
<circle cx="321.1" cy="409.0" r="5.8"/>
<circle cx="321.7" cy="409.6" r="5.8"/>
<circle cx="343.7" cy="409.6" r="5.8"/>
<circle cx="356.8" cy="409.6" r="5.8"/>
<circle cx="409.8" cy="409.0" r="5.8"/>
<circle cx="332.4" cy="417.4" r="5.8"/>
<circle cx="333.0" cy="418.0" r="5.8"/>
<circle cx="332.4" cy="421.0" r="5.8"/>
<circle cx="333.0" cy="421.6" r="5.8"/>
<circle cx="326.4" cy="416.2" r="5.8"/>
<circle cx="327.0" cy="416.8" r="5.8"/>
<circle cx="350.8" cy="418.6" r="5.8"/>
<circle cx="376.4" cy="418.0" r="5.8"/>
<circle cx="382.4" cy="419.8" r="5.8"/>
<circle cx="336.0" cy="415.0" r="5.8"/>
<circle cx="328.0" cy="410.0" r="5.8"/>
<circle cx="318.0" cy="420.0" r="5.8"/>
</g>
<g fill="#b3b3b3" fill-opacity="0.53">
<circle cx="1015.5" cy="450.1" r="5.8"/>
<circle cx="1060.7" cy="457.9" r="5.8"/>
<circle cx="1116.9" cy="485.2" r="5.8"/>
<circle cx="1114.8" cy="496.0" r="5.8"/>
<circle cx="1117.9" cy="505.8" r="5.8"/>
<circle cx="1093.7" cy="500.2" r="5.8"/>
<circle cx="1128.2" cy="499.6" r="5.8"/>
<circle cx="1129.8" cy="515.6" r="5.8"/>
<circle cx="1130.3" cy="465.1" r="5.8"/>
<circle cx="1150.4" cy="446.5" r="5.8"/>
<circle cx="1168.5" cy="447.0" r="5.8"/>
<circle cx="1135.5" cy="465.1" r="5.8"/>
<circle cx="1120.5" cy="485.7" r="5.8"/>
<circle cx="1142.7" cy="487.8" r="5.8"/>
<circle cx="1143.3" cy="488.4" r="5.8"/>
<circle cx="1152.0" cy="489.8" r="5.8"/>
<circle cx="1152.6" cy="490.4" r="5.8"/>
<circle cx="1144.8" cy="496.0" r="5.8"/>
<circle cx="1151.0" cy="498.6" r="5.8"/>
<circle cx="1129.3" cy="499.6" r="5.8"/>
<circle cx="1172.1" cy="495.5" r="5.8"/>
<circle cx="1181.9" cy="484.2" r="5.8"/>
<circle cx="1187.6" cy="494.0" r="5.8"/>
<circle cx="1184.0" cy="502.2" r="5.8"/>
<circle cx="1163.3" cy="505.3" r="5.8"/>
<circle cx="1157.7" cy="507.9" r="5.8"/>
<circle cx="1158.3" cy="508.5" r="5.8"/>
<circle cx="1154.0" cy="510.0" r="5.8"/>
<circle cx="1132.9" cy="515.6" r="5.8"/>
<circle cx="1133.5" cy="516.2" r="5.8"/>
<circle cx="1144.2" cy="516.7" r="5.8"/>
<circle cx="1173.6" cy="512.5" r="5.8"/>
<circle cx="1180.9" cy="511.5" r="5.8"/>
<circle cx="1181.5" cy="512.1" r="5.8"/>
<circle cx="1186.0" cy="513.6" r="5.8"/>
<circle cx="1121.0" cy="505.3" r="5.8"/>
<circle cx="1198.4" cy="509.4" r="5.8"/>
<circle cx="1205.6" cy="517.7" r="5.8"/>
<circle cx="1221.6" cy="524.4" r="5.8"/>
<circle cx="1196.3" cy="446.5" r="5.8"/>
<circle cx="1190.2" cy="454.8" r="5.8"/>
<circle cx="1187.1" cy="467.1" r="5.8"/>
<circle cx="1198.4" cy="464.0" r="5.8"/>
<circle cx="1352.3" cy="440.8" r="5.8"/>
<circle cx="1343.5" cy="470.2" r="5.8"/>
<circle cx="1336.3" cy="485.2" r="5.8"/>
<circle cx="1336.9" cy="485.8" r="5.8"/>
<circle cx="1343.0" cy="485.2" r="5.8"/>
<circle cx="1325.0" cy="487.3" r="5.8"/>
<circle cx="1315.2" cy="486.2" r="5.8"/>
<circle cx="1368.8" cy="516.1" r="5.8"/>
<circle cx="1342.0" cy="516.7" r="5.8"/>
<circle cx="1334.8" cy="515.6" r="5.8"/>
<circle cx="1335.4" cy="516.2" r="5.8"/>
<circle cx="1327.5" cy="511.5" r="5.8"/>
<circle cx="1319.3" cy="515.6" r="5.8"/>
<circle cx="1319.9" cy="516.2" r="5.8"/>
<circle cx="1309.0" cy="515.6" r="5.8"/>
<circle cx="1302.8" cy="518.7" r="5.8"/>
<circle cx="1309.0" cy="502.2" r="5.8"/>
<circle cx="1300.2" cy="499.1" r="5.8"/>
<circle cx="1300.8" cy="499.7" r="5.8"/>
<circle cx="1306.9" cy="476.4" r="5.8"/>
<circle cx="1307.5" cy="477.0" r="5.8"/>
<circle cx="1317.7" cy="473.3" r="5.8"/>
<circle cx="1306.9" cy="484.7" r="5.8"/>
<circle cx="1307.5" cy="485.3" r="5.8"/>
<circle cx="1315.2" cy="451.7" r="5.8"/>
<circle cx="1315.8" cy="452.3" r="5.8"/>
<circle cx="1316.2" cy="448.6" r="5.8"/>
<circle cx="1306.9" cy="442.4" r="5.8"/>
<circle cx="1313.1" cy="463.0" r="5.8"/>
<circle cx="1298.6" cy="461.0" r="5.8"/>
<circle cx="1299.2" cy="461.6" r="5.8"/>
<circle cx="1288.3" cy="449.6" r="5.8"/>
<circle cx="1296.6" cy="448.6" r="5.8"/>
<circle cx="1293.5" cy="480.6" r="5.8"/>
<circle cx="1294.1" cy="481.2" r="5.8"/>
<circle cx="1290.4" cy="492.9" r="5.8"/>
<circle cx="1291.0" cy="493.5" r="5.8"/>
<circle cx="1286.3" cy="522.9" r="5.8"/>
<circle cx="1270.8" cy="528.0" r="5.8"/>
<circle cx="1443.3" cy="488.7" r="5.8"/>
<circle cx="1394.7" cy="511.1" r="5.8"/>
<circle cx="1250.0" cy="545.0" r="5.8"/>
<circle cx="1248.0" cy="540.0" r="5.8"/>
<circle cx="1253.0" cy="540.0" r="5.8"/>
<circle cx="1216.7" cy="446.5" r="5.8"/>
<circle cx="1230.8" cy="445.6" r="5.8"/>
<circle cx="1239.9" cy="446.1" r="5.8"/>
<circle cx="1264.6" cy="446.4" r="5.8"/>
<circle cx="1271.1" cy="446.9" r="5.8"/>
<circle cx="1275.9" cy="446.8" r="5.8"/>
<circle cx="1279.6" cy="447.0" r="5.8"/>
<circle cx="1213.3" cy="451.4" r="5.8"/>
<circle cx="1215.6" cy="448.8" r="5.8"/>
<circle cx="1221.1" cy="449.0" r="5.8"/>
<circle cx="1225.6" cy="450.9" r="5.8"/>
<circle cx="1229.3" cy="449.8" r="5.8"/>
<circle cx="1235.7" cy="449.8" r="5.8"/>
<circle cx="1238.5" cy="451.2" r="5.8"/>
<circle cx="1244.4" cy="451.2" r="5.8"/>
<circle cx="1257.4" cy="449.2" r="5.8"/>
<circle cx="1260.9" cy="449.7" r="5.8"/>
<circle cx="1266.8" cy="450.2" r="5.8"/>
<circle cx="1270.6" cy="451.0" r="5.8"/>
<circle cx="1273.8" cy="450.4" r="5.8"/>
<circle cx="1279.0" cy="450.2" r="5.8"/>
<circle cx="1211.9" cy="454.3" r="5.8"/>
<circle cx="1217.2" cy="453.0" r="5.8"/>
<circle cx="1220.6" cy="455.4" r="5.8"/>
<circle cx="1224.4" cy="455.6" r="5.8"/>
<circle cx="1229.1" cy="455.0" r="5.8"/>
<circle cx="1233.5" cy="454.3" r="5.8"/>
<circle cx="1238.8" cy="453.2" r="5.8"/>
<circle cx="1244.1" cy="454.4" r="5.8"/>
<circle cx="1260.3" cy="455.6" r="5.8"/>
<circle cx="1267.1" cy="454.5" r="5.8"/>
<circle cx="1271.3" cy="455.0" r="5.8"/>
<circle cx="1275.3" cy="453.9" r="5.8"/>
<circle cx="1279.0" cy="454.0" r="5.8"/>
<circle cx="1211.3" cy="458.3" r="5.8"/>
<circle cx="1215.3" cy="458.2" r="5.8"/>
<circle cx="1220.3" cy="460.1" r="5.8"/>
<circle cx="1225.5" cy="457.8" r="5.8"/>
<circle cx="1229.9" cy="457.9" r="5.8"/>
<circle cx="1234.7" cy="458.8" r="5.8"/>
<circle cx="1240.1" cy="458.3" r="5.8"/>
<circle cx="1244.6" cy="458.2" r="5.8"/>
<circle cx="1260.4" cy="460.0" r="5.8"/>
<circle cx="1264.8" cy="459.7" r="5.8"/>
<circle cx="1270.2" cy="459.5" r="5.8"/>
<circle cx="1274.4" cy="457.7" r="5.8"/>
<circle cx="1280.7" cy="459.5" r="5.8"/>
<circle cx="1211.9" cy="464.1" r="5.8"/>
<circle cx="1216.7" cy="464.3" r="5.8"/>
<circle cx="1222.0" cy="463.8" r="5.8"/>
<circle cx="1225.8" cy="463.0" r="5.8"/>
<circle cx="1228.9" cy="462.3" r="5.8"/>
<circle cx="1235.6" cy="462.6" r="5.8"/>
<circle cx="1238.8" cy="463.0" r="5.8"/>
<circle cx="1243.9" cy="463.6" r="5.8"/>
<circle cx="1257.7" cy="464.8" r="5.8"/>
<circle cx="1260.9" cy="464.7" r="5.8"/>
<circle cx="1267.4" cy="464.9" r="5.8"/>
<circle cx="1269.4" cy="463.1" r="5.8"/>
<circle cx="1275.8" cy="464.5" r="5.8"/>
<circle cx="1278.1" cy="463.2" r="5.8"/>
<circle cx="1213.0" cy="468.3" r="5.8"/>
<circle cx="1216.2" cy="467.2" r="5.8"/>
<circle cx="1220.4" cy="468.5" r="5.8"/>
<circle cx="1225.3" cy="467.0" r="5.8"/>
<circle cx="1231.0" cy="468.2" r="5.8"/>
<circle cx="1235.9" cy="468.1" r="5.8"/>
<circle cx="1239.4" cy="467.8" r="5.8"/>
<circle cx="1243.8" cy="469.3" r="5.8"/>
<circle cx="1258.0" cy="467.7" r="5.8"/>
<circle cx="1261.1" cy="466.7" r="5.8"/>
<circle cx="1264.6" cy="467.7" r="5.8"/>
<circle cx="1271.9" cy="468.7" r="5.8"/>
<circle cx="1275.6" cy="468.5" r="5.8"/>
<circle cx="1278.8" cy="467.0" r="5.8"/>
<circle cx="1210.9" cy="472.9" r="5.8"/>
<circle cx="1215.9" cy="472.9" r="5.8"/>
<circle cx="1221.8" cy="472.8" r="5.8"/>
<circle cx="1225.6" cy="471.6" r="5.8"/>
<circle cx="1229.5" cy="473.9" r="5.8"/>
<circle cx="1233.8" cy="471.9" r="5.8"/>
<circle cx="1239.0" cy="472.6" r="5.8"/>
<circle cx="1244.4" cy="471.9" r="5.8"/>
<circle cx="1253.4" cy="472.7" r="5.8"/>
<circle cx="1258.2" cy="471.5" r="5.8"/>
<circle cx="1262.1" cy="473.8" r="5.8"/>
<circle cx="1266.5" cy="471.3" r="5.8"/>
<circle cx="1271.8" cy="473.9" r="5.8"/>
<circle cx="1273.8" cy="473.5" r="5.8"/>
<circle cx="1278.2" cy="471.2" r="5.8"/>
<circle cx="1212.4" cy="478.1" r="5.8"/>
<circle cx="1215.6" cy="477.7" r="5.8"/>
<circle cx="1221.7" cy="475.7" r="5.8"/>
<circle cx="1226.5" cy="476.0" r="5.8"/>
<circle cx="1229.2" cy="475.7" r="5.8"/>
<circle cx="1235.0" cy="475.9" r="5.8"/>
<circle cx="1240.4" cy="475.5" r="5.8"/>
<circle cx="1244.4" cy="477.8" r="5.8"/>
<circle cx="1248.2" cy="477.2" r="5.8"/>
<circle cx="1253.4" cy="477.4" r="5.8"/>
<circle cx="1255.9" cy="477.9" r="5.8"/>
<circle cx="1261.1" cy="477.3" r="5.8"/>
<circle cx="1266.0" cy="478.2" r="5.8"/>
<circle cx="1270.2" cy="478.1" r="5.8"/>
<circle cx="1273.7" cy="476.5" r="5.8"/>
<circle cx="1280.0" cy="477.3" r="5.8"/>
<circle cx="1212.3" cy="481.3" r="5.8"/>
<circle cx="1216.5" cy="482.4" r="5.8"/>
<circle cx="1221.1" cy="481.6" r="5.8"/>
<circle cx="1225.8" cy="482.8" r="5.8"/>
<circle cx="1230.9" cy="482.5" r="5.8"/>
<circle cx="1233.8" cy="481.8" r="5.8"/>
<circle cx="1240.0" cy="482.2" r="5.8"/>
<circle cx="1244.9" cy="482.7" r="5.8"/>
<circle cx="1246.9" cy="481.5" r="5.8"/>
<circle cx="1252.1" cy="480.6" r="5.8"/>
<circle cx="1257.0" cy="483.0" r="5.8"/>
<circle cx="1262.3" cy="480.3" r="5.8"/>
<circle cx="1265.2" cy="481.1" r="5.8"/>
<circle cx="1271.7" cy="481.4" r="5.8"/>
<circle cx="1274.0" cy="481.7" r="5.8"/>
<circle cx="1278.7" cy="480.1" r="5.8"/>
<circle cx="1284.3" cy="483.0" r="5.8"/>
<circle cx="1211.8" cy="484.7" r="5.8"/>
<circle cx="1217.8" cy="485.3" r="5.8"/>
<circle cx="1221.7" cy="485.9" r="5.8"/>
<circle cx="1226.3" cy="485.5" r="5.8"/>
<circle cx="1228.8" cy="485.8" r="5.8"/>
<circle cx="1234.4" cy="486.9" r="5.8"/>
<circle cx="1238.7" cy="486.5" r="5.8"/>
<circle cx="1243.1" cy="486.7" r="5.8"/>
<circle cx="1247.0" cy="487.1" r="5.8"/>
<circle cx="1253.8" cy="484.6" r="5.8"/>
<circle cx="1258.1" cy="486.8" r="5.8"/>
<circle cx="1262.1" cy="484.8" r="5.8"/>
<circle cx="1266.7" cy="486.8" r="5.8"/>
<circle cx="1270.9" cy="487.4" r="5.8"/>
<circle cx="1276.3" cy="486.4" r="5.8"/>
<circle cx="1280.8" cy="484.9" r="5.8"/>
<circle cx="1283.4" cy="486.1" r="5.8"/>
<circle cx="1211.7" cy="491.2" r="5.8"/>
<circle cx="1216.8" cy="490.2" r="5.8"/>
<circle cx="1220.5" cy="489.5" r="5.8"/>
<circle cx="1224.0" cy="490.0" r="5.8"/>
<circle cx="1229.4" cy="489.2" r="5.8"/>
<circle cx="1234.5" cy="490.1" r="5.8"/>
<circle cx="1240.3" cy="491.3" r="5.8"/>
<circle cx="1244.0" cy="491.5" r="5.8"/>
<circle cx="1247.3" cy="489.3" r="5.8"/>
<circle cx="1252.8" cy="489.7" r="5.8"/>
<circle cx="1258.5" cy="490.3" r="5.8"/>
<circle cx="1262.7" cy="489.7" r="5.8"/>
<circle cx="1264.8" cy="490.9" r="5.8"/>
<circle cx="1271.1" cy="489.8" r="5.8"/>
<circle cx="1276.3" cy="491.9" r="5.8"/>
<circle cx="1280.1" cy="491.9" r="5.8"/>
<circle cx="1285.4" cy="489.4" r="5.8"/>
<circle cx="1213.0" cy="493.7" r="5.8"/>
<circle cx="1216.1" cy="494.4" r="5.8"/>
<circle cx="1221.9" cy="493.8" r="5.8"/>
<circle cx="1224.2" cy="493.8" r="5.8"/>
<circle cx="1228.8" cy="494.8" r="5.8"/>
<circle cx="1235.6" cy="494.6" r="5.8"/>
<circle cx="1237.8" cy="495.5" r="5.8"/>
<circle cx="1243.0" cy="495.2" r="5.8"/>
<circle cx="1248.7" cy="494.9" r="5.8"/>
<circle cx="1253.2" cy="495.4" r="5.8"/>
<circle cx="1258.1" cy="495.8" r="5.8"/>
<circle cx="1262.7" cy="495.7" r="5.8"/>
<circle cx="1265.3" cy="495.0" r="5.8"/>
<circle cx="1271.3" cy="495.9" r="5.8"/>
<circle cx="1275.7" cy="496.0" r="5.8"/>
<circle cx="1280.5" cy="495.1" r="5.8"/>
<circle cx="1284.4" cy="493.6" r="5.8"/>
<circle cx="1213.2" cy="500.0" r="5.8"/>
<circle cx="1215.6" cy="498.1" r="5.8"/>
<circle cx="1222.1" cy="499.7" r="5.8"/>
<circle cx="1224.3" cy="501.0" r="5.8"/>
<circle cx="1230.3" cy="500.3" r="5.8"/>
<circle cx="1235.4" cy="498.8" r="5.8"/>
<circle cx="1239.1" cy="498.5" r="5.8"/>
<circle cx="1243.8" cy="499.3" r="5.8"/>
<circle cx="1248.9" cy="498.3" r="5.8"/>
<circle cx="1251.6" cy="499.2" r="5.8"/>
<circle cx="1255.5" cy="499.2" r="5.8"/>
<circle cx="1262.9" cy="500.6" r="5.8"/>
<circle cx="1265.0" cy="500.5" r="5.8"/>
<circle cx="1269.7" cy="498.7" r="5.8"/>
<circle cx="1275.4" cy="498.9" r="5.8"/>
<circle cx="1278.6" cy="498.3" r="5.8"/>
<circle cx="1283.0" cy="498.6" r="5.8"/>
<circle cx="1211.6" cy="504.7" r="5.8"/>
<circle cx="1215.1" cy="503.7" r="5.8"/>
<circle cx="1220.5" cy="504.0" r="5.8"/>
<circle cx="1225.9" cy="502.7" r="5.8"/>
<circle cx="1231.1" cy="503.3" r="5.8"/>
<circle cx="1235.3" cy="502.9" r="5.8"/>
<circle cx="1237.8" cy="503.1" r="5.8"/>
<circle cx="1242.3" cy="503.2" r="5.8"/>
<circle cx="1246.9" cy="502.8" r="5.8"/>
<circle cx="1253.6" cy="504.1" r="5.8"/>
<circle cx="1257.0" cy="504.0" r="5.8"/>
<circle cx="1262.4" cy="502.6" r="5.8"/>
<circle cx="1264.6" cy="504.5" r="5.8"/>
<circle cx="1269.0" cy="504.0" r="5.8"/>
<circle cx="1275.4" cy="505.0" r="5.8"/>
<circle cx="1278.0" cy="503.7" r="5.8"/>
<circle cx="1283.4" cy="504.2" r="5.8"/>
<circle cx="1213.0" cy="509.5" r="5.8"/>
<circle cx="1216.5" cy="507.3" r="5.8"/>
<circle cx="1221.9" cy="509.5" r="5.8"/>
<circle cx="1226.1" cy="507.9" r="5.8"/>
<circle cx="1231.4" cy="508.9" r="5.8"/>
<circle cx="1233.9" cy="509.4" r="5.8"/>
<circle cx="1238.2" cy="507.7" r="5.8"/>
<circle cx="1244.7" cy="507.2" r="5.8"/>
<circle cx="1249.1" cy="508.2" r="5.8"/>
<circle cx="1252.7" cy="509.1" r="5.8"/>
<circle cx="1258.2" cy="507.7" r="5.8"/>
<circle cx="1260.3" cy="508.5" r="5.8"/>
<circle cx="1265.2" cy="508.3" r="5.8"/>
<circle cx="1269.3" cy="507.3" r="5.8"/>
<circle cx="1275.2" cy="507.2" r="5.8"/>
<circle cx="1278.8" cy="508.2" r="5.8"/>
<circle cx="1212.7" cy="514.3" r="5.8"/>
<circle cx="1215.8" cy="512.0" r="5.8"/>
<circle cx="1220.5" cy="514.1" r="5.8"/>
<circle cx="1226.3" cy="512.0" r="5.8"/>
<circle cx="1231.2" cy="513.7" r="5.8"/>
<circle cx="1235.9" cy="514.4" r="5.8"/>
<circle cx="1238.0" cy="513.7" r="5.8"/>
<circle cx="1242.1" cy="512.1" r="5.8"/>
<circle cx="1248.1" cy="512.2" r="5.8"/>
<circle cx="1251.7" cy="512.6" r="5.8"/>
<circle cx="1256.9" cy="514.3" r="5.8"/>
<circle cx="1261.7" cy="513.2" r="5.8"/>
<circle cx="1266.7" cy="512.1" r="5.8"/>
<circle cx="1271.4" cy="513.8" r="5.8"/>
<circle cx="1275.9" cy="512.9" r="5.8"/>
<circle cx="1279.6" cy="511.7" r="5.8"/>
<circle cx="1217.6" cy="516.0" r="5.8"/>
<circle cx="1221.2" cy="517.4" r="5.8"/>
<circle cx="1226.6" cy="517.9" r="5.8"/>
<circle cx="1229.1" cy="516.5" r="5.8"/>
<circle cx="1233.1" cy="518.3" r="5.8"/>
<circle cx="1239.8" cy="517.1" r="5.8"/>
<circle cx="1242.7" cy="517.7" r="5.8"/>
<circle cx="1247.1" cy="517.6" r="5.8"/>
<circle cx="1252.0" cy="517.0" r="5.8"/>
<circle cx="1257.6" cy="516.7" r="5.8"/>
<circle cx="1261.0" cy="517.7" r="5.8"/>
<circle cx="1267.3" cy="516.5" r="5.8"/>
<circle cx="1269.9" cy="516.8" r="5.8"/>
<circle cx="1228.8" cy="522.7" r="5.8"/>
<circle cx="1233.3" cy="521.4" r="5.8"/>
<circle cx="1239.4" cy="520.6" r="5.8"/>
<circle cx="1243.3" cy="523.5" r="5.8"/>
<circle cx="1248.7" cy="521.7" r="5.8"/>
<circle cx="1253.7" cy="522.2" r="5.8"/>
<circle cx="1257.9" cy="521.5" r="5.8"/>
<circle cx="1261.1" cy="522.6" r="5.8"/>
<circle cx="1266.8" cy="522.6" r="5.8"/>
<circle cx="1235.2" cy="525.7" r="5.8"/>
<circle cx="1238.3" cy="525.3" r="5.8"/>
<circle cx="1242.7" cy="527.6" r="5.8"/>
<circle cx="1248.0" cy="527.2" r="5.8"/>
<circle cx="1253.6" cy="527.0" r="5.8"/>
<circle cx="1256.6" cy="527.9" r="5.8"/>
<circle cx="1260.2" cy="526.2" r="5.8"/>
<circle cx="1239.0" cy="530.0" r="5.8"/>
<circle cx="1243.9" cy="531.0" r="5.8"/>
<circle cx="1248.1" cy="530.8" r="5.8"/>
<circle cx="1253.6" cy="531.5" r="5.8"/>
<circle cx="1257.5" cy="531.0" r="5.8"/>
<circle cx="1244.7" cy="534.2" r="5.8"/>
<circle cx="1249.3" cy="535.9" r="5.8"/>
<circle cx="1252.2" cy="536.5" r="5.8"/>
<circle cx="1249.1" cy="539.5" r="5.8"/>
<circle cx="1184.8" cy="501.4" r="5.8"/>
<circle cx="1210.2" cy="502.3" r="5.8"/>
<circle cx="1226.2" cy="501.4" r="5.8"/>
<circle cx="1256.2" cy="502.3" r="5.8"/>
<circle cx="1261.3" cy="501.6" r="5.8"/>
<circle cx="1267.2" cy="502.3" r="5.8"/>
<circle cx="1299.8" cy="501.6" r="5.8"/>
<circle cx="1177.2" cy="507.0" r="5.8"/>
<circle cx="1186.3" cy="508.9" r="5.8"/>
<circle cx="1197.0" cy="505.5" r="5.8"/>
<circle cx="1202.2" cy="505.5" r="5.8"/>
<circle cx="1210.9" cy="509.7" r="5.8"/>
<circle cx="1218.0" cy="507.9" r="5.8"/>
<circle cx="1222.2" cy="505.5" r="5.8"/>
<circle cx="1230.7" cy="505.4" r="5.8"/>
<circle cx="1237.7" cy="509.8" r="5.8"/>
<circle cx="1246.2" cy="509.5" r="5.8"/>
<circle cx="1255.8" cy="508.9" r="5.8"/>
<circle cx="1264.1" cy="508.5" r="5.8"/>
<circle cx="1268.7" cy="507.3" r="5.8"/>
<circle cx="1276.5" cy="505.2" r="5.8"/>
<circle cx="1282.2" cy="507.8" r="5.8"/>
<circle cx="1292.1" cy="509.9" r="5.8"/>
<circle cx="1300.1" cy="509.1" r="5.8"/>
<circle cx="1306.9" cy="507.9" r="5.8"/>
<circle cx="1316.1" cy="505.2" r="5.8"/>
<circle cx="1319.6" cy="507.1" r="5.8"/>
<circle cx="1328.5" cy="507.1" r="5.8"/>
<circle cx="1334.8" cy="505.8" r="5.8"/>
<circle cx="1342.5" cy="508.0" r="5.8"/>
<circle cx="1180.4" cy="514.6" r="5.8"/>
<circle cx="1184.6" cy="517.2" r="5.8"/>
<circle cx="1194.5" cy="517.2" r="5.8"/>
<circle cx="1202.7" cy="515.2" r="5.8"/>
<circle cx="1209.0" cy="513.0" r="5.8"/>
<circle cx="1219.3" cy="514.7" r="5.8"/>
<circle cx="1223.5" cy="513.2" r="5.8"/>
<circle cx="1232.5" cy="517.4" r="5.8"/>
<circle cx="1239.0" cy="516.5" r="5.8"/>
<circle cx="1248.0" cy="515.1" r="5.8"/>
<circle cx="1255.3" cy="516.2" r="5.8"/>
<circle cx="1264.1" cy="512.7" r="5.8"/>
<circle cx="1267.7" cy="513.7" r="5.8"/>
<circle cx="1274.8" cy="513.9" r="5.8"/>
<circle cx="1284.2" cy="513.6" r="5.8"/>
<circle cx="1292.0" cy="512.5" r="5.8"/>
<circle cx="1301.6" cy="516.1" r="5.8"/>
<circle cx="1305.0" cy="513.6" r="5.8"/>
<circle cx="1315.8" cy="513.2" r="5.8"/>
<circle cx="1323.2" cy="512.7" r="5.8"/>
<circle cx="1330.1" cy="515.9" r="5.8"/>
<circle cx="1337.2" cy="516.5" r="5.8"/>
<circle cx="1186.6" cy="444.0" r="5.8"/>
<circle cx="1195.2" cy="442.0" r="5.8"/>
<circle cx="1203.1" cy="442.5" r="5.8"/>
<circle cx="1189.8" cy="451.1" r="5.8"/>
<circle cx="1196.6" cy="451.7" r="5.8"/>
<circle cx="1189.9" cy="457.7" r="5.8"/>
<circle cx="1195.8" cy="460.7" r="5.8"/>
<circle cx="1203.0" cy="459.6" r="5.8"/>
<circle cx="1187.5" cy="465.3" r="5.8"/>
<circle cx="1197.3" cy="465.7" r="5.8"/>
<circle cx="1185.9" cy="472.6" r="5.8"/>
<circle cx="1198.0" cy="476.8" r="5.8"/>
<circle cx="1182.2" cy="482.1" r="5.8"/>
<circle cx="1190.0" cy="486.0" r="5.8"/>
<circle cx="1194.6" cy="483.5" r="5.8"/>
<circle cx="1203.4" cy="481.4" r="5.8"/>
<circle cx="1191.3" cy="489.8" r="5.8"/>
<circle cx="1197.0" cy="495.0" r="5.8"/>
<circle cx="1187.1" cy="501.4" r="5.8"/>
<circle cx="1197.9" cy="499.8" r="5.8"/>
<circle cx="1187.0" cy="507.1" r="5.8"/>
<circle cx="1197.4" cy="508.6" r="5.8"/>
<circle cx="1188.2" cy="516.4" r="5.8"/>
<circle cx="1305.8" cy="443.7" r="5.8"/>
<circle cx="1293.5" cy="449.6" r="5.8"/>
<circle cx="1301.8" cy="450.2" r="5.8"/>
<circle cx="1310.4" cy="447.6" r="5.8"/>
<circle cx="1316.2" cy="449.3" r="5.8"/>
<circle cx="1292.0" cy="457.5" r="5.8"/>
<circle cx="1298.1" cy="456.0" r="5.8"/>
<circle cx="1308.3" cy="455.4" r="5.8"/>
<circle cx="1317.4" cy="458.1" r="5.8"/>
<circle cx="1323.3" cy="460.3" r="5.8"/>
<circle cx="1293.4" cy="464.8" r="5.8"/>
<circle cx="1299.5" cy="466.9" r="5.8"/>
<circle cx="1308.1" cy="466.5" r="5.8"/>
<circle cx="1317.0" cy="466.4" r="5.8"/>
<circle cx="1322.8" cy="468.4" r="5.8"/>
<circle cx="1300.8" cy="474.7" r="5.8"/>
<circle cx="1308.4" cy="473.3" r="5.8"/>
<circle cx="1317.7" cy="474.1" r="5.8"/>
<circle cx="1322.9" cy="472.8" r="5.8"/>
<circle cx="1293.8" cy="485.0" r="5.8"/>
<circle cx="1298.3" cy="481.4" r="5.8"/>
<circle cx="1311.2" cy="482.7" r="5.8"/>
<circle cx="1315.0" cy="483.9" r="5.8"/>
<circle cx="1301.1" cy="491.7" r="5.8"/>
<circle cx="1307.6" cy="494.9" r="5.8"/>
<circle cx="1314.7" cy="493.5" r="5.8"/>
<circle cx="1292.2" cy="498.9" r="5.8"/>
<circle cx="1297.1" cy="502.0" r="5.8"/>
<circle cx="1307.1" cy="498.2" r="5.8"/>
<circle cx="1318.9" cy="501.0" r="5.8"/>
<circle cx="1322.7" cy="500.6" r="5.8"/>
<circle cx="1300.7" cy="506.5" r="5.8"/>
<circle cx="1308.0" cy="511.8" r="5.8"/>
<circle cx="1318.2" cy="506.9" r="5.8"/>
<circle cx="1324.7" cy="507.6" r="5.8"/>
<circle cx="1292.7" cy="515.8" r="5.8"/>
<circle cx="1310.9" cy="515.5" r="5.8"/>
<circle cx="1324.5" cy="515.5" r="5.8"/>
<circle cx="1098.8" cy="516.1" r="4.5"/>
</g>
<g fill="#619cff" fill-opacity="0.6">
<circle cx="1216.0" cy="184.3" r="5.8"/>
<circle cx="1180.3" cy="254.0" r="5.8"/>
<circle cx="1228.0" cy="251.1" r="5.8"/>
<circle cx="1229.4" cy="273.6" r="5.8"/>
<circle cx="1236.0" cy="280.7" r="5.8"/>
<circle cx="1220.3" cy="288.6" r="5.8"/>
<circle cx="1224.0" cy="296.4" r="5.8"/>
<circle cx="1224.6" cy="297.0" r="5.8"/>
<circle cx="1220.0" cy="302.1" r="5.8"/>
<circle cx="1206.1" cy="308.3" r="5.8"/>
<circle cx="1234.6" cy="306.4" r="5.8"/>
<circle cx="1215.7" cy="318.6" r="5.8"/>
<circle cx="1223.6" cy="315.7" r="5.8"/>
<circle cx="1229.3" cy="324.3" r="5.8"/>
<circle cx="1219.3" cy="325.7" r="5.8"/>
<circle cx="1217.3" cy="322.1" r="5.8"/>
<circle cx="1229.7" cy="324.6" r="5.8"/>
<circle cx="1219.4" cy="332.4" r="5.8"/>
<circle cx="1220.0" cy="333.0" r="5.8"/>
<circle cx="1211.1" cy="340.6" r="5.8"/>
<circle cx="1219.4" cy="338.6" r="5.8"/>
<circle cx="1220.0" cy="339.2" r="5.8"/>
<circle cx="1229.7" cy="339.6" r="5.8"/>
<circle cx="1224.5" cy="342.7" r="5.8"/>
<circle cx="1225.1" cy="343.3" r="5.8"/>
<circle cx="1208.0" cy="349.9" r="5.8"/>
<circle cx="1215.2" cy="352.0" r="5.8"/>
<circle cx="1215.8" cy="352.6" r="5.8"/>
<circle cx="1235.9" cy="352.0" r="5.8"/>
<circle cx="1236.5" cy="352.6" r="5.8"/>
<circle cx="1230.0" cy="360.0" r="5.8"/>
<circle cx="1215.2" cy="355.1" r="5.8"/>
<circle cx="1145.1" cy="369.0" r="5.8"/>
<circle cx="1196.7" cy="369.5" r="5.8"/>
<circle cx="1197.3" cy="370.1" r="5.8"/>
<circle cx="1209.0" cy="364.4" r="5.8"/>
<circle cx="1245.1" cy="371.6" r="5.8"/>
<circle cx="1235.9" cy="363.3" r="5.8"/>
<circle cx="1183.0" cy="382.2" r="5.8"/>
<circle cx="1198.7" cy="384.5" r="5.8"/>
<circle cx="1209.0" cy="377.8" r="5.8"/>
<circle cx="1209.6" cy="378.4" r="5.8"/>
<circle cx="1204.9" cy="381.9" r="5.8"/>
<circle cx="1205.5" cy="382.5" r="5.8"/>
<circle cx="1148.7" cy="418.5" r="5.8"/>
<circle cx="1175.0" cy="423.7" r="5.8"/>
<circle cx="1131.9" cy="431.4" r="5.8"/>
<circle cx="1203.4" cy="414.9" r="5.8"/>
<circle cx="1200.8" cy="427.8" r="5.8"/>
<circle cx="1209.0" cy="372.0" r="5.8"/>
<circle cx="1213.0" cy="378.0" r="5.8"/>
<circle cx="1205.0" cy="386.0" r="5.8"/>
<circle cx="1212.0" cy="386.0" r="5.8"/>
<circle cx="1222.9" cy="369.1" r="5.8"/>
<circle cx="1225.3" cy="373.5" r="5.8"/>
<circle cx="1228.2" cy="371.9" r="5.8"/>
<circle cx="1232.9" cy="372.0" r="5.8"/>
<circle cx="1223.5" cy="378.1" r="5.8"/>
<circle cx="1228.0" cy="377.1" r="5.8"/>
<circle cx="1232.4" cy="375.6" r="5.8"/>
<circle cx="1236.2" cy="377.7" r="5.8"/>
<circle cx="1225.1" cy="380.3" r="5.8"/>
<circle cx="1227.2" cy="382.2" r="5.8"/>
<circle cx="1233.8" cy="381.2" r="5.8"/>
<circle cx="1238.5" cy="380.0" r="5.8"/>
<circle cx="1241.3" cy="380.7" r="5.8"/>
<circle cx="1229.5" cy="386.7" r="5.8"/>
<circle cx="1234.1" cy="386.1" r="5.8"/>
<circle cx="1237.3" cy="386.0" r="5.8"/>
<circle cx="1243.0" cy="385.2" r="5.8"/>
<circle cx="1223.7" cy="391.7" r="5.8"/>
<circle cx="1229.7" cy="389.2" r="5.8"/>
<circle cx="1231.8" cy="389.1" r="5.8"/>
<circle cx="1236.1" cy="390.1" r="5.8"/>
<circle cx="1240.9" cy="391.4" r="5.8"/>
<circle cx="1224.6" cy="395.9" r="5.8"/>
<circle cx="1229.3" cy="395.7" r="5.8"/>
<circle cx="1231.5" cy="394.7" r="5.8"/>
<circle cx="1236.2" cy="395.6" r="5.8"/>
<circle cx="1241.0" cy="395.4" r="5.8"/>
<circle cx="1224.3" cy="399.3" r="5.8"/>
<circle cx="1229.2" cy="400.7" r="5.8"/>
<circle cx="1232.4" cy="399.9" r="5.8"/>
<circle cx="1237.6" cy="399.5" r="5.8"/>
<circle cx="1240.7" cy="400.2" r="5.8"/>
<circle cx="1224.4" cy="403.6" r="5.8"/>
<circle cx="1228.6" cy="403.5" r="5.8"/>
<circle cx="1232.7" cy="403.0" r="5.8"/>
<circle cx="1236.1" cy="403.6" r="5.8"/>
<circle cx="1219.5" cy="409.0" r="5.8"/>
<circle cx="1225.2" cy="409.1" r="5.8"/>
<circle cx="1228.9" cy="409.1" r="5.8"/>
<circle cx="1233.5" cy="409.4" r="5.8"/>
<circle cx="1238.1" cy="408.8" r="5.8"/>
<circle cx="1241.2" cy="409.6" r="5.8"/>
<circle cx="1219.7" cy="411.5" r="5.8"/>
<circle cx="1223.4" cy="414.1" r="5.8"/>
<circle cx="1229.2" cy="412.7" r="5.8"/>
<circle cx="1231.8" cy="414.2" r="5.8"/>
<circle cx="1238.1" cy="411.9" r="5.8"/>
<circle cx="1241.5" cy="413.2" r="5.8"/>
<circle cx="1214.1" cy="417.6" r="5.8"/>
<circle cx="1218.8" cy="416.9" r="5.8"/>
<circle cx="1225.3" cy="417.2" r="5.8"/>
<circle cx="1228.3" cy="417.7" r="5.8"/>
<circle cx="1232.3" cy="416.3" r="5.8"/>
<circle cx="1237.2" cy="416.6" r="5.8"/>
<circle cx="1241.1" cy="418.7" r="5.8"/>
<circle cx="1215.6" cy="421.0" r="5.8"/>
<circle cx="1218.0" cy="421.9" r="5.8"/>
<circle cx="1222.8" cy="421.2" r="5.8"/>
<circle cx="1228.4" cy="423.0" r="5.8"/>
<circle cx="1232.6" cy="420.7" r="5.8"/>
<circle cx="1238.4" cy="422.8" r="5.8"/>
<circle cx="1242.1" cy="420.4" r="5.8"/>
<circle cx="1245.6" cy="421.5" r="5.8"/>
<circle cx="1211.8" cy="427.5" r="5.8"/>
<circle cx="1213.6" cy="426.5" r="5.8"/>
<circle cx="1218.2" cy="427.5" r="5.8"/>
<circle cx="1224.7" cy="427.1" r="5.8"/>
<circle cx="1227.6" cy="425.0" r="5.8"/>
<circle cx="1233.9" cy="426.6" r="5.8"/>
<circle cx="1237.9" cy="426.2" r="5.8"/>
<circle cx="1242.9" cy="425.8" r="5.8"/>
<circle cx="1245.8" cy="425.9" r="5.8"/>
<circle cx="1215.5" cy="429.9" r="5.8"/>
<circle cx="1218.8" cy="429.5" r="5.8"/>
<circle cx="1222.6" cy="430.8" r="5.8"/>
<circle cx="1229.0" cy="431.3" r="5.8"/>
<circle cx="1232.0" cy="429.6" r="5.8"/>
<circle cx="1238.8" cy="430.9" r="5.8"/>
<circle cx="1241.7" cy="431.4" r="5.8"/>
<circle cx="1215.4" cy="434.3" r="5.8"/>
<circle cx="1220.1" cy="435.3" r="5.8"/>
<circle cx="1223.0" cy="436.4" r="5.8"/>
<circle cx="1229.4" cy="436.5" r="5.8"/>
<circle cx="1233.5" cy="434.5" r="5.8"/>
<circle cx="1238.3" cy="436.5" r="5.8"/>
<circle cx="1242.1" cy="436.5" r="5.8"/>
</g>
<g fill="#f8766d" fill-opacity="0.6">
<circle cx="1276.0" cy="163.3" r="5.8"/>
<circle cx="1305.1" cy="198.2" r="5.8"/>
<circle cx="1261.9" cy="282.7" r="5.8"/>
<circle cx="1289.9" cy="290.2" r="5.8"/>
<circle cx="1303.9" cy="290.2" r="5.8"/>
<circle cx="1303.7" cy="317.3" r="5.8"/>
<circle cx="1279.5" cy="323.7" r="5.8"/>
<circle cx="1296.4" cy="329.6" r="5.8"/>
<circle cx="1297.0" cy="330.2" r="5.8"/>
<circle cx="1264.0" cy="337.0" r="5.8"/>
<circle cx="1269.1" cy="343.3" r="5.8"/>
<circle cx="1280.6" cy="350.3" r="5.8"/>
<circle cx="1275.5" cy="349.7" r="5.8"/>
<circle cx="1264.7" cy="355.4" r="5.8"/>
<circle cx="1289.4" cy="358.6" r="5.8"/>
<circle cx="1279.3" cy="358.6" r="5.8"/>
<circle cx="1319.3" cy="353.5" r="5.8"/>
<circle cx="1276.7" cy="366.2" r="5.8"/>
<circle cx="1277.3" cy="366.8" r="5.8"/>
<circle cx="1270.4" cy="371.3" r="5.8"/>
<circle cx="1271.0" cy="371.9" r="5.8"/>
<circle cx="1262.8" cy="372.5" r="5.8"/>
<circle cx="1264.7" cy="378.9" r="5.8"/>
<circle cx="1288.2" cy="374.4" r="5.8"/>
<circle cx="1288.2" cy="385.9" r="5.8"/>
<circle cx="1278.7" cy="387.8" r="5.8"/>
<circle cx="1279.3" cy="388.4" r="5.8"/>
<circle cx="1298.3" cy="404.9" r="5.8"/>
<circle cx="1276.7" cy="400.5" r="5.8"/>
<circle cx="1277.3" cy="401.1" r="5.8"/>
<circle cx="1284.4" cy="408.1" r="5.8"/>
<circle cx="1285.0" cy="408.7" r="5.8"/>
<circle cx="1256.4" cy="409.4" r="5.8"/>
<circle cx="1257.0" cy="410.0" r="5.8"/>
<circle cx="1264.0" cy="405.6" r="5.8"/>
<circle cx="1286.9" cy="414.4" r="5.8"/>
<circle cx="1307.2" cy="422.7" r="5.8"/>
<circle cx="1309.8" cy="431.0" r="5.8"/>
<circle cx="1317.4" cy="436.0" r="5.8"/>
<circle cx="1280.6" cy="424.6" r="5.8"/>
<circle cx="1267.9" cy="417.0" r="5.8"/>
<circle cx="1259.0" cy="427.1" r="5.8"/>
<circle cx="1272.9" cy="436.0" r="5.8"/>
<circle cx="1259.9" cy="407.1" r="5.8"/>
<circle cx="1267.0" cy="402.7" r="5.8"/>
<circle cx="1274.9" cy="405.4" r="5.8"/>
<circle cx="1254.2" cy="413.4" r="5.8"/>
<circle cx="1261.3" cy="412.3" r="5.8"/>
<circle cx="1267.0" cy="412.6" r="5.8"/>
<circle cx="1271.8" cy="414.3" r="5.8"/>
<circle cx="1279.1" cy="413.4" r="5.8"/>
<circle cx="1259.8" cy="417.4" r="5.8"/>
<circle cx="1263.7" cy="419.2" r="5.8"/>
<circle cx="1270.7" cy="421.1" r="5.8"/>
<circle cx="1280.0" cy="419.1" r="5.8"/>
<circle cx="1254.1" cy="425.0" r="5.8"/>
<circle cx="1258.4" cy="426.4" r="5.8"/>
<circle cx="1265.0" cy="426.5" r="5.8"/>
<circle cx="1273.2" cy="425.7" r="5.8"/>
<circle cx="1280.9" cy="426.1" r="5.8"/>
<circle cx="1284.9" cy="428.5" r="5.8"/>
<circle cx="1258.5" cy="435.1" r="5.8"/>
<circle cx="1268.3" cy="433.1" r="5.8"/>
<circle cx="1272.5" cy="431.0" r="5.8"/>
<circle cx="1282.0" cy="431.4" r="5.8"/>
<circle cx="1287.2" cy="432.2" r="5.8"/>
<circle cx="1257.5" cy="437.7" r="5.8"/>
<circle cx="1273.7" cy="438.5" r="5.8"/>
<circle cx="1281.0" cy="437.8" r="5.8"/>
</g>
<g fill="#b3b3b3" fill-opacity="0.53">
<circle cx="104.5" cy="1112.3" r="5.8"/>
<circle cx="105.1" cy="1112.9" r="5.8"/>
<circle cx="129.4" cy="1112.3" r="5.8"/>
<circle cx="156.0" cy="1124.5" r="5.8"/>
<circle cx="167.4" cy="1128.0" r="5.8"/>
<circle cx="132.0" cy="1134.3" r="5.8"/>
<circle cx="109.6" cy="1138.4" r="5.8"/>
<circle cx="91.9" cy="1148.3" r="5.8"/>
<circle cx="121.5" cy="1152.8" r="5.8"/>
<circle cx="150.1" cy="1152.4" r="5.8"/>
<circle cx="188.3" cy="1133.2" r="5.8"/>
<circle cx="189.2" cy="1125.8" r="5.8"/>
<circle cx="195.3" cy="1119.7" r="5.8"/>
<circle cx="195.9" cy="1120.3" r="5.8"/>
<circle cx="187.0" cy="1149.4" r="5.8"/>
<circle cx="197.9" cy="1144.1" r="5.8"/>
<circle cx="198.8" cy="1159.0" r="5.8"/>
<circle cx="195.6" cy="1118.9" r="5.8"/>
<circle cx="198.9" cy="1113.3" r="5.8"/>
<circle cx="213.3" cy="1122.2" r="5.8"/>
<circle cx="217.8" cy="1107.8" r="5.8"/>
<circle cx="196.0" cy="1120.4" r="5.8"/>
<circle cx="196.6" cy="1121.0" r="5.8"/>
<circle cx="209.0" cy="1122.0" r="5.8"/>
<circle cx="203.9" cy="1134.7" r="5.8"/>
<circle cx="212.2" cy="1136.3" r="5.8"/>
<circle cx="197.9" cy="1144.2" r="5.8"/>
<circle cx="198.5" cy="1144.8" r="5.8"/>
<circle cx="193.2" cy="1144.2" r="5.8"/>
<circle cx="209.8" cy="1150.6" r="5.8"/>
<circle cx="217.8" cy="1151.3" r="5.8"/>
<circle cx="221.7" cy="1155.3" r="5.8"/>
<circle cx="228.1" cy="1159.3" r="5.8"/>
<circle cx="199.5" cy="1159.3" r="5.8"/>
<circle cx="230.5" cy="1147.4" r="5.8"/>
<circle cx="286.0" cy="1160.9" r="5.8"/>
<circle cx="286.6" cy="1161.5" r="5.8"/>
<circle cx="279.7" cy="1160.9" r="5.8"/>
<circle cx="271.0" cy="1161.7" r="5.8"/>
<circle cx="255.1" cy="1157.7" r="5.8"/>
<circle cx="396.0" cy="1116.7" r="5.8"/>
<circle cx="396.6" cy="1117.3" r="5.8"/>
<circle cx="388.8" cy="1111.9" r="5.8"/>
<circle cx="381.7" cy="1127.4" r="5.8"/>
<circle cx="382.3" cy="1128.0" r="5.8"/>
<circle cx="401.5" cy="1133.0" r="5.8"/>
<circle cx="402.1" cy="1133.6" r="5.8"/>
<circle cx="401.5" cy="1133.0" r="5.8"/>
<circle cx="409.0" cy="1138.7" r="5.8"/>
<circle cx="429.3" cy="1134.3" r="5.8"/>
<circle cx="392.4" cy="1147.0" r="5.8"/>
<circle cx="400.7" cy="1147.6" r="5.8"/>
<circle cx="410.2" cy="1151.2" r="5.8"/>
<circle cx="399.5" cy="1158.9" r="5.8"/>
<circle cx="400.1" cy="1159.5" r="5.8"/>
<circle cx="412.0" cy="1159.5" r="5.8"/>
<circle cx="438.2" cy="1159.3" r="5.8"/>
<circle cx="438.8" cy="1159.9" r="5.8"/>
<circle cx="376.9" cy="1146.4" r="5.8"/>
<circle cx="379.3" cy="1157.1" r="5.8"/>
<circle cx="371.0" cy="1157.1" r="5.8"/>
<circle cx="472.6" cy="1159.3" r="5.8"/>
<circle cx="493.4" cy="1159.3" r="5.8"/>
<circle cx="320.0" cy="1180.0" r="5.8"/>
<circle cx="317.0" cy="1175.0" r="5.8"/>
<circle cx="323.0" cy="1175.0" r="5.8"/>
<circle cx="216.0" cy="1116.6" r="5.8"/>
<circle cx="223.6" cy="1116.1" r="5.8"/>
<circle cx="232.0" cy="1115.8" r="5.8"/>
<circle cx="242.3" cy="1116.0" r="5.8"/>
<circle cx="247.8" cy="1116.2" r="5.8"/>
<circle cx="250.7" cy="1116.1" r="5.8"/>
<circle cx="256.7" cy="1116.3" r="5.8"/>
<circle cx="264.4" cy="1116.3" r="5.8"/>
<circle cx="269.3" cy="1115.9" r="5.8"/>
<circle cx="286.0" cy="1116.6" r="5.8"/>
<circle cx="290.1" cy="1116.5" r="5.8"/>
<circle cx="301.9" cy="1115.7" r="5.8"/>
<circle cx="303.4" cy="1116.5" r="5.8"/>
<circle cx="309.1" cy="1116.4" r="5.8"/>
<circle cx="323.7" cy="1116.1" r="5.8"/>
<circle cx="331.5" cy="1116.1" r="5.8"/>
<circle cx="337.1" cy="1116.3" r="5.8"/>
<circle cx="342.3" cy="1116.0" r="5.8"/>
<circle cx="348.4" cy="1116.3" r="5.8"/>
<circle cx="219.0" cy="1119.0" r="5.8"/>
<circle cx="223.3" cy="1120.7" r="5.8"/>
<circle cx="226.9" cy="1119.5" r="5.8"/>
<circle cx="232.5" cy="1119.0" r="5.8"/>
<circle cx="238.1" cy="1118.9" r="5.8"/>
<circle cx="240.5" cy="1118.7" r="5.8"/>
<circle cx="247.8" cy="1119.2" r="5.8"/>
<circle cx="249.8" cy="1121.1" r="5.8"/>
<circle cx="255.8" cy="1121.1" r="5.8"/>
<circle cx="259.4" cy="1120.6" r="5.8"/>
<circle cx="263.0" cy="1118.9" r="5.8"/>
<circle cx="269.8" cy="1119.7" r="5.8"/>
<circle cx="274.3" cy="1119.4" r="5.8"/>
<circle cx="279.0" cy="1118.4" r="5.8"/>
<circle cx="282.8" cy="1118.8" r="5.8"/>
<circle cx="286.0" cy="1120.8" r="5.8"/>
<circle cx="291.2" cy="1120.6" r="5.8"/>
<circle cx="295.3" cy="1120.4" r="5.8"/>
<circle cx="301.6" cy="1120.1" r="5.8"/>
<circle cx="304.1" cy="1120.2" r="5.8"/>
<circle cx="310.8" cy="1120.6" r="5.8"/>
<circle cx="313.7" cy="1119.4" r="5.8"/>
<circle cx="317.2" cy="1120.5" r="5.8"/>
<circle cx="321.9" cy="1118.9" r="5.8"/>
<circle cx="326.0" cy="1118.7" r="5.8"/>
<circle cx="331.6" cy="1119.6" r="5.8"/>
<circle cx="335.4" cy="1119.5" r="5.8"/>
<circle cx="341.7" cy="1118.5" r="5.8"/>
<circle cx="344.3" cy="1119.8" r="5.8"/>
<circle cx="351.1" cy="1121.0" r="5.8"/>
<circle cx="354.6" cy="1118.5" r="5.8"/>
<circle cx="360.0" cy="1121.2" r="5.8"/>
<circle cx="364.6" cy="1119.8" r="5.8"/>
<circle cx="367.5" cy="1120.0" r="5.8"/>
<circle cx="373.3" cy="1121.2" r="5.8"/>
<circle cx="376.9" cy="1119.7" r="5.8"/>
<circle cx="225.2" cy="1125.3" r="5.8"/>
<circle cx="229.3" cy="1123.3" r="5.8"/>
<circle cx="232.8" cy="1125.2" r="5.8"/>
<circle cx="236.6" cy="1124.5" r="5.8"/>
<circle cx="243.0" cy="1125.5" r="5.8"/>
<circle cx="246.0" cy="1123.1" r="5.8"/>
<circle cx="249.5" cy="1123.6" r="5.8"/>
<circle cx="255.5" cy="1123.5" r="5.8"/>
<circle cx="260.9" cy="1124.7" r="5.8"/>
<circle cx="264.8" cy="1125.2" r="5.8"/>
<circle cx="268.4" cy="1124.6" r="5.8"/>
<circle cx="273.0" cy="1123.6" r="5.8"/>
<circle cx="276.7" cy="1125.1" r="5.8"/>
<circle cx="283.6" cy="1122.8" r="5.8"/>
<circle cx="287.5" cy="1122.9" r="5.8"/>
<circle cx="291.2" cy="1123.6" r="5.8"/>
<circle cx="297.1" cy="1124.0" r="5.8"/>
<circle cx="300.4" cy="1123.8" r="5.8"/>
<circle cx="304.2" cy="1123.4" r="5.8"/>
<circle cx="308.1" cy="1122.7" r="5.8"/>
<circle cx="314.1" cy="1124.9" r="5.8"/>
<circle cx="318.9" cy="1123.5" r="5.8"/>
<circle cx="324.4" cy="1122.9" r="5.8"/>
<circle cx="327.2" cy="1123.7" r="5.8"/>
<circle cx="330.9" cy="1125.6" r="5.8"/>
<circle cx="337.0" cy="1123.1" r="5.8"/>
<circle cx="339.9" cy="1125.1" r="5.8"/>
<circle cx="345.0" cy="1123.6" r="5.8"/>
<circle cx="349.3" cy="1123.7" r="5.8"/>
<circle cx="354.7" cy="1123.6" r="5.8"/>
<circle cx="359.2" cy="1122.9" r="5.8"/>
<circle cx="363.5" cy="1124.5" r="5.8"/>
<circle cx="367.4" cy="1125.3" r="5.8"/>
<circle cx="373.7" cy="1124.7" r="5.8"/>
<circle cx="376.6" cy="1123.2" r="5.8"/>
<circle cx="225.3" cy="1128.1" r="5.8"/>
<circle cx="229.2" cy="1128.2" r="5.8"/>
<circle cx="234.2" cy="1127.7" r="5.8"/>
<circle cx="237.9" cy="1127.4" r="5.8"/>
<circle cx="242.1" cy="1129.4" r="5.8"/>
<circle cx="247.6" cy="1129.5" r="5.8"/>
<circle cx="251.0" cy="1128.4" r="5.8"/>
<circle cx="255.8" cy="1129.1" r="5.8"/>
<circle cx="260.2" cy="1129.3" r="5.8"/>
<circle cx="265.1" cy="1130.0" r="5.8"/>
<circle cx="269.3" cy="1129.8" r="5.8"/>
<circle cx="274.1" cy="1128.3" r="5.8"/>
<circle cx="278.8" cy="1128.3" r="5.8"/>
<circle cx="283.4" cy="1129.8" r="5.8"/>
<circle cx="288.1" cy="1129.9" r="5.8"/>
<circle cx="292.0" cy="1128.7" r="5.8"/>
<circle cx="295.3" cy="1129.1" r="5.8"/>
<circle cx="301.6" cy="1128.3" r="5.8"/>
<circle cx="304.0" cy="1129.5" r="5.8"/>
<circle cx="310.6" cy="1127.8" r="5.8"/>
<circle cx="312.8" cy="1127.5" r="5.8"/>
<circle cx="318.6" cy="1129.7" r="5.8"/>
<circle cx="322.1" cy="1129.6" r="5.8"/>
<circle cx="326.0" cy="1127.8" r="5.8"/>
<circle cx="332.0" cy="1129.5" r="5.8"/>
<circle cx="336.4" cy="1129.3" r="5.8"/>
<circle cx="340.5" cy="1128.3" r="5.8"/>
<circle cx="345.5" cy="1127.2" r="5.8"/>
<circle cx="349.0" cy="1128.3" r="5.8"/>
<circle cx="354.9" cy="1127.8" r="5.8"/>
<circle cx="358.1" cy="1130.2" r="5.8"/>
<circle cx="363.9" cy="1128.4" r="5.8"/>
<circle cx="368.7" cy="1129.3" r="5.8"/>
<circle cx="373.4" cy="1128.9" r="5.8"/>
<circle cx="377.2" cy="1127.5" r="5.8"/>
<circle cx="222.5" cy="1133.3" r="5.8"/>
<circle cx="227.4" cy="1133.1" r="5.8"/>
<circle cx="234.2" cy="1134.6" r="5.8"/>
<circle cx="237.1" cy="1134.0" r="5.8"/>
<circle cx="241.9" cy="1131.9" r="5.8"/>
<circle cx="246.1" cy="1134.1" r="5.8"/>
<circle cx="251.7" cy="1133.9" r="5.8"/>
<circle cx="256.9" cy="1132.8" r="5.8"/>
<circle cx="260.5" cy="1134.2" r="5.8"/>
<circle cx="265.7" cy="1134.3" r="5.8"/>
<circle cx="270.0" cy="1132.7" r="5.8"/>
<circle cx="273.0" cy="1133.6" r="5.8"/>
<circle cx="276.8" cy="1132.6" r="5.8"/>
<circle cx="282.0" cy="1132.3" r="5.8"/>
<circle cx="286.0" cy="1133.7" r="5.8"/>
<circle cx="290.8" cy="1131.9" r="5.8"/>
<circle cx="296.8" cy="1134.5" r="5.8"/>
<circle cx="299.6" cy="1133.8" r="5.8"/>
<circle cx="303.6" cy="1132.4" r="5.8"/>
<circle cx="308.4" cy="1133.6" r="5.8"/>
<circle cx="314.1" cy="1134.2" r="5.8"/>
<circle cx="318.9" cy="1134.0" r="5.8"/>
<circle cx="324.0" cy="1133.5" r="5.8"/>
<circle cx="326.6" cy="1132.2" r="5.8"/>
<circle cx="333.0" cy="1134.2" r="5.8"/>
<circle cx="336.8" cy="1134.6" r="5.8"/>
<circle cx="341.8" cy="1132.9" r="5.8"/>
<circle cx="344.5" cy="1133.0" r="5.8"/>
<circle cx="351.2" cy="1134.4" r="5.8"/>
<circle cx="352.9" cy="1131.7" r="5.8"/>
<circle cx="358.7" cy="1134.4" r="5.8"/>
<circle cx="364.5" cy="1134.2" r="5.8"/>
<circle cx="366.6" cy="1132.3" r="5.8"/>
<circle cx="224.7" cy="1138.4" r="5.8"/>
<circle cx="227.7" cy="1139.2" r="5.8"/>
<circle cx="233.7" cy="1136.6" r="5.8"/>
<circle cx="238.9" cy="1138.8" r="5.8"/>
<circle cx="241.8" cy="1136.3" r="5.8"/>
<circle cx="247.3" cy="1138.0" r="5.8"/>
<circle cx="251.6" cy="1136.4" r="5.8"/>
<circle cx="255.3" cy="1138.6" r="5.8"/>
<circle cx="260.6" cy="1136.7" r="5.8"/>
<circle cx="263.9" cy="1137.6" r="5.8"/>
<circle cx="268.8" cy="1139.2" r="5.8"/>
<circle cx="274.7" cy="1136.2" r="5.8"/>
<circle cx="278.3" cy="1136.6" r="5.8"/>
<circle cx="283.5" cy="1137.8" r="5.8"/>
<circle cx="288.1" cy="1138.9" r="5.8"/>
<circle cx="292.7" cy="1136.7" r="5.8"/>
<circle cx="294.6" cy="1138.5" r="5.8"/>
<circle cx="300.3" cy="1138.5" r="5.8"/>
<circle cx="304.7" cy="1137.4" r="5.8"/>
<circle cx="310.1" cy="1137.3" r="5.8"/>
<circle cx="313.9" cy="1137.4" r="5.8"/>
<circle cx="318.9" cy="1136.4" r="5.8"/>
<circle cx="322.8" cy="1137.9" r="5.8"/>
<circle cx="328.0" cy="1138.9" r="5.8"/>
<circle cx="331.5" cy="1139.1" r="5.8"/>
<circle cx="337.0" cy="1137.4" r="5.8"/>
<circle cx="341.1" cy="1137.3" r="5.8"/>
<circle cx="345.9" cy="1136.3" r="5.8"/>
<circle cx="351.1" cy="1137.3" r="5.8"/>
<circle cx="352.9" cy="1136.5" r="5.8"/>
<circle cx="358.4" cy="1137.0" r="5.8"/>
<circle cx="364.4" cy="1137.3" r="5.8"/>
<circle cx="231.8" cy="1142.9" r="5.8"/>
<circle cx="238.2" cy="1141.8" r="5.8"/>
<circle cx="240.5" cy="1143.0" r="5.8"/>
<circle cx="246.8" cy="1143.0" r="5.8"/>
<circle cx="251.7" cy="1142.9" r="5.8"/>
<circle cx="254.0" cy="1143.5" r="5.8"/>
<circle cx="261.3" cy="1141.8" r="5.8"/>
<circle cx="265.3" cy="1143.5" r="5.8"/>
<circle cx="268.7" cy="1141.7" r="5.8"/>
<circle cx="273.7" cy="1143.0" r="5.8"/>
<circle cx="277.6" cy="1142.8" r="5.8"/>
<circle cx="283.8" cy="1141.8" r="5.8"/>
<circle cx="288.1" cy="1141.1" r="5.8"/>
<circle cx="291.7" cy="1143.2" r="5.8"/>
<circle cx="295.6" cy="1141.6" r="5.8"/>
<circle cx="299.7" cy="1141.8" r="5.8"/>
<circle cx="304.6" cy="1141.9" r="5.8"/>
<circle cx="308.6" cy="1142.5" r="5.8"/>
<circle cx="313.1" cy="1141.5" r="5.8"/>
<circle cx="318.3" cy="1143.4" r="5.8"/>
<circle cx="322.2" cy="1141.2" r="5.8"/>
<circle cx="328.2" cy="1142.5" r="5.8"/>
<circle cx="330.8" cy="1143.6" r="5.8"/>
<circle cx="335.5" cy="1142.6" r="5.8"/>
<circle cx="340.1" cy="1143.2" r="5.8"/>
<circle cx="345.0" cy="1142.6" r="5.8"/>
<circle cx="350.8" cy="1142.8" r="5.8"/>
<circle cx="353.8" cy="1141.6" r="5.8"/>
<circle cx="359.1" cy="1142.3" r="5.8"/>
<circle cx="364.0" cy="1140.9" r="5.8"/>
<circle cx="366.6" cy="1140.7" r="5.8"/>
<circle cx="246.9" cy="1147.8" r="5.8"/>
<circle cx="249.7" cy="1148.1" r="5.8"/>
<circle cx="254.0" cy="1147.2" r="5.8"/>
<circle cx="260.9" cy="1147.5" r="5.8"/>
<circle cx="265.1" cy="1147.0" r="5.8"/>
<circle cx="270.4" cy="1145.9" r="5.8"/>
<circle cx="274.6" cy="1147.6" r="5.8"/>
<circle cx="277.0" cy="1146.6" r="5.8"/>
<circle cx="282.2" cy="1145.6" r="5.8"/>
<circle cx="288.0" cy="1147.8" r="5.8"/>
<circle cx="292.2" cy="1145.3" r="5.8"/>
<circle cx="296.6" cy="1148.0" r="5.8"/>
<circle cx="301.1" cy="1148.0" r="5.8"/>
<circle cx="306.3" cy="1147.3" r="5.8"/>
<circle cx="310.1" cy="1146.1" r="5.8"/>
<circle cx="314.7" cy="1146.1" r="5.8"/>
<circle cx="317.7" cy="1146.2" r="5.8"/>
<circle cx="322.3" cy="1145.3" r="5.8"/>
<circle cx="326.4" cy="1146.0" r="5.8"/>
<circle cx="331.1" cy="1145.3" r="5.8"/>
<circle cx="337.1" cy="1147.7" r="5.8"/>
<circle cx="340.4" cy="1147.3" r="5.8"/>
<circle cx="346.5" cy="1145.3" r="5.8"/>
<circle cx="350.1" cy="1147.0" r="5.8"/>
<circle cx="353.4" cy="1147.9" r="5.8"/>
<circle cx="359.8" cy="1146.8" r="5.8"/>
<circle cx="363.5" cy="1147.7" r="5.8"/>
<circle cx="366.6" cy="1147.8" r="5.8"/>
<circle cx="246.4" cy="1150.5" r="5.8"/>
<circle cx="252.2" cy="1150.4" r="5.8"/>
<circle cx="255.5" cy="1149.7" r="5.8"/>
<circle cx="259.3" cy="1151.7" r="5.8"/>
<circle cx="264.4" cy="1151.7" r="5.8"/>
<circle cx="269.1" cy="1151.5" r="5.8"/>
<circle cx="272.7" cy="1152.5" r="5.8"/>
<circle cx="278.4" cy="1149.8" r="5.8"/>
<circle cx="283.4" cy="1150.2" r="5.8"/>
<circle cx="286.6" cy="1151.6" r="5.8"/>
<circle cx="292.6" cy="1150.2" r="5.8"/>
<circle cx="295.3" cy="1151.2" r="5.8"/>
<circle cx="300.9" cy="1151.1" r="5.8"/>
<circle cx="305.5" cy="1152.7" r="5.8"/>
<circle cx="308.1" cy="1150.9" r="5.8"/>
<circle cx="314.8" cy="1152.1" r="5.8"/>
<circle cx="319.8" cy="1150.7" r="5.8"/>
<circle cx="322.1" cy="1151.7" r="5.8"/>
<circle cx="328.4" cy="1152.1" r="5.8"/>
<circle cx="332.0" cy="1150.1" r="5.8"/>
<circle cx="337.0" cy="1150.5" r="5.8"/>
<circle cx="339.5" cy="1149.7" r="5.8"/>
<circle cx="344.9" cy="1150.8" r="5.8"/>
<circle cx="350.0" cy="1151.0" r="5.8"/>
<circle cx="354.4" cy="1151.6" r="5.8"/>
<circle cx="357.9" cy="1152.1" r="5.8"/>
<circle cx="363.9" cy="1152.1" r="5.8"/>
<circle cx="368.1" cy="1151.3" r="5.8"/>
<circle cx="373.4" cy="1151.7" r="5.8"/>
<circle cx="376.2" cy="1152.3" r="5.8"/>
<circle cx="274.3" cy="1155.9" r="5.8"/>
<circle cx="278.0" cy="1156.1" r="5.8"/>
<circle cx="282.1" cy="1155.9" r="5.8"/>
<circle cx="286.9" cy="1155.2" r="5.8"/>
<circle cx="291.3" cy="1154.4" r="5.8"/>
<circle cx="296.2" cy="1154.9" r="5.8"/>
<circle cx="299.7" cy="1154.7" r="5.8"/>
<circle cx="305.7" cy="1155.6" r="5.8"/>
<circle cx="309.6" cy="1155.7" r="5.8"/>
<circle cx="314.2" cy="1155.3" r="5.8"/>
<circle cx="317.7" cy="1156.5" r="5.8"/>
<circle cx="323.6" cy="1154.7" r="5.8"/>
<circle cx="326.3" cy="1155.3" r="5.8"/>
<circle cx="332.8" cy="1155.1" r="5.8"/>
<circle cx="335.6" cy="1155.5" r="5.8"/>
<circle cx="340.9" cy="1156.1" r="5.8"/>
<circle cx="344.9" cy="1155.4" r="5.8"/>
<circle cx="351.4" cy="1156.5" r="5.8"/>
<circle cx="353.6" cy="1155.7" r="5.8"/>
<circle cx="357.9" cy="1157.1" r="5.8"/>
<circle cx="362.7" cy="1157.0" r="5.8"/>
<circle cx="367.0" cy="1154.9" r="5.8"/>
<circle cx="371.9" cy="1155.2" r="5.8"/>
<circle cx="376.4" cy="1155.4" r="5.8"/>
<circle cx="292.3" cy="1159.5" r="5.8"/>
<circle cx="296.4" cy="1159.3" r="5.8"/>
<circle cx="301.0" cy="1161.0" r="5.8"/>
<circle cx="304.8" cy="1160.9" r="5.8"/>
<circle cx="309.9" cy="1158.7" r="5.8"/>
<circle cx="313.0" cy="1159.3" r="5.8"/>
<circle cx="319.0" cy="1161.2" r="5.8"/>
<circle cx="322.1" cy="1161.5" r="5.8"/>
<circle cx="326.5" cy="1160.0" r="5.8"/>
<circle cx="332.9" cy="1159.5" r="5.8"/>
<circle cx="337.5" cy="1158.8" r="5.8"/>
<circle cx="340.3" cy="1161.2" r="5.8"/>
<circle cx="345.9" cy="1159.1" r="5.8"/>
<circle cx="309.6" cy="1165.2" r="5.8"/>
<circle cx="313.3" cy="1166.2" r="5.8"/>
<circle cx="318.7" cy="1164.5" r="5.8"/>
<circle cx="321.9" cy="1163.8" r="5.8"/>
<circle cx="326.7" cy="1165.3" r="5.8"/>
<circle cx="331.6" cy="1165.6" r="5.8"/>
<circle cx="309.9" cy="1168.5" r="5.8"/>
<circle cx="313.4" cy="1168.1" r="5.8"/>
<circle cx="318.3" cy="1169.9" r="5.8"/>
<circle cx="322.5" cy="1168.6" r="5.8"/>
<circle cx="326.6" cy="1170.6" r="5.8"/>
<circle cx="331.1" cy="1169.0" r="5.8"/>
<circle cx="314.2" cy="1172.7" r="5.8"/>
<circle cx="319.2" cy="1174.6" r="5.8"/>
<circle cx="321.7" cy="1174.1" r="5.8"/>
<circle cx="326.9" cy="1173.3" r="5.8"/>
<circle cx="318.5" cy="1176.7" r="5.8"/>
<circle cx="321.7" cy="1176.9" r="5.8"/>
<circle cx="341.8" cy="1114.5" r="5.8"/>
<circle cx="349.7" cy="1114.3" r="5.8"/>
<circle cx="364.5" cy="1113.4" r="5.8"/>
<circle cx="395.0" cy="1114.9" r="5.8"/>
<circle cx="349.6" cy="1121.1" r="5.8"/>
<circle cx="355.1" cy="1122.2" r="5.8"/>
<circle cx="364.9" cy="1123.3" r="5.8"/>
<circle cx="373.0" cy="1121.6" r="5.8"/>
<circle cx="383.3" cy="1123.9" r="5.8"/>
<circle cx="390.8" cy="1123.3" r="5.8"/>
<circle cx="401.5" cy="1120.2" r="5.8"/>
<circle cx="355.4" cy="1130.0" r="5.8"/>
<circle cx="366.9" cy="1128.8" r="5.8"/>
<circle cx="377.9" cy="1127.5" r="5.8"/>
<circle cx="382.4" cy="1128.2" r="5.8"/>
<circle cx="391.0" cy="1127.4" r="5.8"/>
<circle cx="400.4" cy="1129.2" r="5.8"/>
<circle cx="358.4" cy="1136.5" r="5.8"/>
<circle cx="366.9" cy="1137.3" r="5.8"/>
<circle cx="376.1" cy="1138.1" r="5.8"/>
<circle cx="381.9" cy="1136.8" r="5.8"/>
<circle cx="394.8" cy="1139.2" r="5.8"/>
<circle cx="399.5" cy="1141.4" r="5.8"/>
<circle cx="373.8" cy="1147.3" r="5.8"/>
<circle cx="382.6" cy="1149.9" r="5.8"/>
<circle cx="395.9" cy="1145.8" r="5.8"/>
<circle cx="401.7" cy="1145.6" r="5.8"/>
<circle cx="383.5" cy="1154.9" r="5.8"/>
<circle cx="392.1" cy="1154.7" r="5.8"/>
<circle cx="402.7" cy="1156.5" r="5.8"/>
<circle cx="186.1" cy="1159.8" r="3.6"/>
</g>
<g fill="#619cff" fill-opacity="0.6">
<circle cx="275.2" cy="879.0" r="5.8"/>
<circle cx="258.8" cy="918.9" r="5.8"/>
<circle cx="256.2" cy="929.6" r="5.8"/>
<circle cx="287.7" cy="928.8" r="5.8"/>
<circle cx="303.0" cy="938.3" r="5.8"/>
<circle cx="303.6" cy="938.9" r="5.8"/>
<circle cx="248.1" cy="943.7" r="5.8"/>
<circle cx="284.2" cy="956.4" r="5.8"/>
<circle cx="288.3" cy="958.2" r="5.8"/>
<circle cx="288.9" cy="958.8" r="5.8"/>
<circle cx="297.9" cy="952.9" r="5.8"/>
<circle cx="297.9" cy="961.2" r="5.8"/>
<circle cx="288.9" cy="968.3" r="5.8"/>
<circle cx="240.5" cy="968.1" r="5.8"/>
<circle cx="256.8" cy="964.2" r="5.8"/>
<circle cx="250.2" cy="974.3" r="5.8"/>
<circle cx="268.7" cy="968.3" r="5.8"/>
<circle cx="271.1" cy="983.8" r="5.8"/>
<circle cx="284.8" cy="984.4" r="5.8"/>
<circle cx="299.0" cy="988.6" r="5.8"/>
<circle cx="299.6" cy="989.2" r="5.8"/>
<circle cx="308.0" cy="989.2" r="5.8"/>
<circle cx="255.0" cy="993.3" r="5.8"/>
<circle cx="255.6" cy="993.9" r="5.8"/>
<circle cx="269.3" cy="991.0" r="5.8"/>
<circle cx="281.8" cy="993.9" r="5.8"/>
<circle cx="252.6" cy="998.7" r="5.8"/>
<circle cx="249.0" cy="1005.8" r="5.8"/>
<circle cx="268.1" cy="1001.7" r="5.8"/>
<circle cx="299.0" cy="1000.5" r="5.8"/>
<circle cx="299.6" cy="1001.1" r="5.8"/>
<circle cx="221.7" cy="1008.8" r="5.8"/>
<circle cx="117.8" cy="1001.1" r="5.8"/>
<circle cx="166.1" cy="1022.2" r="5.8"/>
<circle cx="221.7" cy="1012.2" r="5.8"/>
<circle cx="204.4" cy="1026.1" r="5.8"/>
<circle cx="238.9" cy="1035.6" r="5.8"/>
<circle cx="237.8" cy="1044.4" r="5.8"/>
<circle cx="221.7" cy="1049.4" r="5.8"/>
<circle cx="215.6" cy="1056.7" r="5.8"/>
<circle cx="132.0" cy="1056.4" r="5.8"/>
<circle cx="137.2" cy="1063.9" r="5.8"/>
<circle cx="146.7" cy="1069.4" r="5.8"/>
<circle cx="116.7" cy="1074.4" r="5.8"/>
<circle cx="145.0" cy="1081.7" r="5.8"/>
<circle cx="145.0" cy="1093.3" r="5.8"/>
<circle cx="129.4" cy="1097.8" r="5.8"/>
<circle cx="106.4" cy="1105.0" r="5.8"/>
<circle cx="210.6" cy="1070.0" r="5.8"/>
<circle cx="188.3" cy="1075.0" r="5.8"/>
<circle cx="196.1" cy="1081.1" r="5.8"/>
<circle cx="196.1" cy="1091.1" r="5.8"/>
<circle cx="186.7" cy="1098.9" r="5.8"/>
<circle cx="178.9" cy="1101.1" r="5.8"/>
<circle cx="205.6" cy="1095.6" r="5.8"/>
<circle cx="206.2" cy="1096.2" r="5.8"/>
<circle cx="206.1" cy="1106.1" r="5.8"/>
<circle cx="233.3" cy="1063.3" r="5.8"/>
<circle cx="223.3" cy="1105.6" r="5.8"/>
<circle cx="129.4" cy="1098.3" r="5.8"/>
<circle cx="144.7" cy="1093.9" r="5.8"/>
<circle cx="179.1" cy="1101.3" r="5.8"/>
<circle cx="186.6" cy="1098.7" r="5.8"/>
<circle cx="187.2" cy="1099.3" r="5.8"/>
<circle cx="254.4" cy="995.6" r="5.8"/>
<circle cx="249.4" cy="1005.6" r="5.8"/>
<circle cx="222.8" cy="1012.2" r="5.8"/>
<circle cx="264.4" cy="1011.1" r="5.8"/>
<circle cx="265.0" cy="1011.7" r="5.8"/>
<circle cx="274.4" cy="1012.2" r="5.8"/>
<circle cx="281.1" cy="994.4" r="5.8"/>
<circle cx="297.8" cy="1001.1" r="5.8"/>
<circle cx="298.4" cy="1001.7" r="5.8"/>
<circle cx="304.4" cy="1014.4" r="5.8"/>
<circle cx="305.0" cy="1015.0" r="5.8"/>
<circle cx="305.6" cy="1024.4" r="5.8"/>
<circle cx="262.2" cy="1022.2" r="5.8"/>
<circle cx="264.4" cy="1036.7" r="5.8"/>
<circle cx="265.0" cy="1037.3" r="5.8"/>
<circle cx="247.8" cy="1030.0" r="5.8"/>
<circle cx="242.2" cy="1036.7" r="5.8"/>
<circle cx="243.3" cy="1045.6" r="5.8"/>
<circle cx="243.9" cy="1046.2" r="5.8"/>
<circle cx="253.3" cy="1046.7" r="5.8"/>
<circle cx="253.9" cy="1047.3" r="5.8"/>
<circle cx="265.6" cy="1052.2" r="5.8"/>
<circle cx="222.8" cy="1048.9" r="5.8"/>
<circle cx="312.2" cy="1037.8" r="5.8"/>
<circle cx="311.1" cy="1047.8" r="5.8"/>
<circle cx="313.3" cy="1063.3" r="5.8"/>
<circle cx="315.0" cy="1075.6" r="5.8"/>
<circle cx="233.3" cy="1063.3" r="5.8"/>
<circle cx="247.2" cy="1062.8" r="5.8"/>
<circle cx="247.8" cy="1063.4" r="5.8"/>
<circle cx="261.1" cy="1067.8" r="5.8"/>
<circle cx="261.7" cy="1068.4" r="5.8"/>
<circle cx="242.2" cy="1071.1" r="5.8"/>
<circle cx="255.6" cy="1077.8" r="5.8"/>
<circle cx="265.6" cy="1092.2" r="5.8"/>
<circle cx="266.2" cy="1092.8" r="5.8"/>
<circle cx="278.9" cy="1042.2" r="5.8"/>
<circle cx="228.0" cy="1080.0" r="5.8"/>
<circle cx="220.0" cy="1090.0" r="5.8"/>
<circle cx="214.0" cy="1100.0" r="5.8"/>
<circle cx="226.0" cy="1100.0" r="5.8"/>
<circle cx="287.8" cy="1036.7" r="5.8"/>
<circle cx="294.7" cy="1037.4" r="5.8"/>
<circle cx="299.5" cy="1036.1" r="5.8"/>
<circle cx="302.4" cy="1037.9" r="5.8"/>
<circle cx="284.8" cy="1041.9" r="5.8"/>
<circle cx="287.6" cy="1040.3" r="5.8"/>
<circle cx="292.4" cy="1042.2" r="5.8"/>
<circle cx="298.6" cy="1042.9" r="5.8"/>
<circle cx="303.3" cy="1040.8" r="5.8"/>
<circle cx="283.6" cy="1045.9" r="5.8"/>
<circle cx="289.6" cy="1046.1" r="5.8"/>
<circle cx="294.6" cy="1045.7" r="5.8"/>
<circle cx="298.1" cy="1046.7" r="5.8"/>
<circle cx="302.4" cy="1046.7" r="5.8"/>
<circle cx="306.9" cy="1044.9" r="5.8"/>
<circle cx="285.1" cy="1050.6" r="5.8"/>
<circle cx="288.2" cy="1051.3" r="5.8"/>
<circle cx="294.2" cy="1051.5" r="5.8"/>
<circle cx="296.6" cy="1050.8" r="5.8"/>
<circle cx="303.7" cy="1049.8" r="5.8"/>
<circle cx="306.1" cy="1051.4" r="5.8"/>
<circle cx="280.4" cy="1054.9" r="5.8"/>
<circle cx="284.5" cy="1056.3" r="5.8"/>
<circle cx="288.3" cy="1054.0" r="5.8"/>
<circle cx="292.1" cy="1054.9" r="5.8"/>
<circle cx="297.4" cy="1054.9" r="5.8"/>
<circle cx="301.0" cy="1053.5" r="5.8"/>
<circle cx="306.6" cy="1055.8" r="5.8"/>
<circle cx="310.9" cy="1056.2" r="5.8"/>
<circle cx="279.1" cy="1059.1" r="5.8"/>
<circle cx="284.6" cy="1060.8" r="5.8"/>
<circle cx="289.5" cy="1059.6" r="5.8"/>
<circle cx="294.6" cy="1058.9" r="5.8"/>
<circle cx="297.7" cy="1060.0" r="5.8"/>
<circle cx="302.7" cy="1058.7" r="5.8"/>
<circle cx="306.7" cy="1060.5" r="5.8"/>
<circle cx="310.7" cy="1060.1" r="5.8"/>
<circle cx="275.5" cy="1065.5" r="5.8"/>
<circle cx="278.9" cy="1062.6" r="5.8"/>
<circle cx="283.9" cy="1062.6" r="5.8"/>
<circle cx="288.7" cy="1064.1" r="5.8"/>
<circle cx="293.3" cy="1062.9" r="5.8"/>
<circle cx="296.6" cy="1064.9" r="5.8"/>
<circle cx="302.3" cy="1063.9" r="5.8"/>
<circle cx="306.9" cy="1064.6" r="5.8"/>
<circle cx="312.7" cy="1065.0" r="5.8"/>
<circle cx="275.0" cy="1068.2" r="5.8"/>
<circle cx="279.8" cy="1069.8" r="5.8"/>
<circle cx="285.1" cy="1069.5" r="5.8"/>
<circle cx="287.6" cy="1069.2" r="5.8"/>
<circle cx="293.4" cy="1068.2" r="5.8"/>
<circle cx="298.9" cy="1069.2" r="5.8"/>
<circle cx="303.7" cy="1069.2" r="5.8"/>
<circle cx="308.2" cy="1068.3" r="5.8"/>
<circle cx="311.7" cy="1069.4" r="5.8"/>
<circle cx="270.6" cy="1072.2" r="5.8"/>
<circle cx="275.0" cy="1074.4" r="5.8"/>
<circle cx="279.8" cy="1072.4" r="5.8"/>
<circle cx="283.8" cy="1072.8" r="5.8"/>
<circle cx="289.5" cy="1072.5" r="5.8"/>
<circle cx="292.6" cy="1072.2" r="5.8"/>
<circle cx="297.3" cy="1074.2" r="5.8"/>
<circle cx="301.5" cy="1073.8" r="5.8"/>
<circle cx="305.8" cy="1073.9" r="5.8"/>
<circle cx="310.8" cy="1073.8" r="5.8"/>
<circle cx="270.6" cy="1078.1" r="5.8"/>
<circle cx="275.4" cy="1076.2" r="5.8"/>
<circle cx="280.3" cy="1076.9" r="5.8"/>
<circle cx="285.5" cy="1077.6" r="5.8"/>
<circle cx="289.8" cy="1076.4" r="5.8"/>
<circle cx="294.1" cy="1077.8" r="5.8"/>
<circle cx="299.1" cy="1078.7" r="5.8"/>
<circle cx="302.7" cy="1077.8" r="5.8"/>
<circle cx="307.8" cy="1076.8" r="5.8"/>
<circle cx="311.6" cy="1078.4" r="5.8"/>
<circle cx="271.3" cy="1080.9" r="5.8"/>
<circle cx="276.9" cy="1081.9" r="5.8"/>
<circle cx="280.1" cy="1083.0" r="5.8"/>
<circle cx="285.6" cy="1080.9" r="5.8"/>
<circle cx="288.9" cy="1081.0" r="5.8"/>
<circle cx="293.4" cy="1080.9" r="5.8"/>
<circle cx="299.1" cy="1081.6" r="5.8"/>
<circle cx="302.2" cy="1083.2" r="5.8"/>
<circle cx="308.0" cy="1081.5" r="5.8"/>
<circle cx="311.5" cy="1082.5" r="5.8"/>
<circle cx="267.1" cy="1087.2" r="5.8"/>
<circle cx="271.3" cy="1086.0" r="5.8"/>
<circle cx="276.6" cy="1087.4" r="5.8"/>
<circle cx="278.7" cy="1087.7" r="5.8"/>
<circle cx="284.9" cy="1085.9" r="5.8"/>
<circle cx="288.0" cy="1085.3" r="5.8"/>
<circle cx="294.4" cy="1087.5" r="5.8"/>
<circle cx="297.5" cy="1085.5" r="5.8"/>
<circle cx="301.2" cy="1086.2" r="5.8"/>
<circle cx="306.4" cy="1085.2" r="5.8"/>
<circle cx="310.9" cy="1087.5" r="5.8"/>
<circle cx="269.9" cy="1092.4" r="5.8"/>
<circle cx="276.6" cy="1091.6" r="5.8"/>
<circle cx="281.2" cy="1090.5" r="5.8"/>
<circle cx="283.7" cy="1092.1" r="5.8"/>
<circle cx="289.3" cy="1092.3" r="5.8"/>
<circle cx="293.1" cy="1090.7" r="5.8"/>
<circle cx="298.7" cy="1092.1" r="5.8"/>
<circle cx="301.5" cy="1090.3" r="5.8"/>
<circle cx="305.5" cy="1091.2" r="5.8"/>
<circle cx="312.8" cy="1091.2" r="5.8"/>
<circle cx="267.7" cy="1096.0" r="5.8"/>
<circle cx="271.0" cy="1095.0" r="5.8"/>
<circle cx="274.5" cy="1095.4" r="5.8"/>
<circle cx="279.6" cy="1094.7" r="5.8"/>
<circle cx="284.9" cy="1096.0" r="5.8"/>
<circle cx="290.4" cy="1096.9" r="5.8"/>
<circle cx="293.4" cy="1096.1" r="5.8"/>
<circle cx="297.6" cy="1095.3" r="5.8"/>
<circle cx="302.7" cy="1096.9" r="5.8"/>
<circle cx="305.6" cy="1095.4" r="5.8"/>
<circle cx="311.0" cy="1096.4" r="5.8"/>
<circle cx="266.8" cy="1100.5" r="5.8"/>
<circle cx="271.8" cy="1099.9" r="5.8"/>
<circle cx="275.6" cy="1100.8" r="5.8"/>
<circle cx="278.6" cy="1099.2" r="5.8"/>
<circle cx="285.1" cy="1101.4" r="5.8"/>
<circle cx="290.3" cy="1099.3" r="5.8"/>
<circle cx="294.9" cy="1099.3" r="5.8"/>
<circle cx="297.9" cy="1099.0" r="5.8"/>
<circle cx="302.8" cy="1099.7" r="5.8"/>
<circle cx="307.6" cy="1101.4" r="5.8"/>
<circle cx="310.4" cy="1100.5" r="5.8"/>
<circle cx="267.1" cy="1104.9" r="5.8"/>
<circle cx="269.8" cy="1105.7" r="5.8"/>
<circle cx="275.2" cy="1104.4" r="5.8"/>
<circle cx="280.2" cy="1104.3" r="5.8"/>
<circle cx="285.9" cy="1104.4" r="5.8"/>
<circle cx="289.5" cy="1105.3" r="5.8"/>
<circle cx="294.8" cy="1103.5" r="5.8"/>
<circle cx="297.5" cy="1105.8" r="5.8"/>
<circle cx="302.8" cy="1104.1" r="5.8"/>
<circle cx="308.1" cy="1103.4" r="5.8"/>
<circle cx="310.8" cy="1103.2" r="5.8"/>
<circle cx="276.6" cy="1107.6" r="5.8"/>
<circle cx="280.2" cy="1108.0" r="5.8"/>
<circle cx="287.8" cy="1107.7" r="5.8"/>
<circle cx="299.0" cy="1108.4" r="5.8"/>
<circle cx="310.1" cy="1108.0" r="5.8"/>
<circle cx="254.7" cy="1078.6" r="5.8"/>
<circle cx="226.6" cy="1082.8" r="5.8"/>
<circle cx="231.4" cy="1082.6" r="5.8"/>
<circle cx="236.8" cy="1083.3" r="5.8"/>
<circle cx="245.8" cy="1086.1" r="5.8"/>
<circle cx="252.5" cy="1083.6" r="5.8"/>
<circle cx="258.1" cy="1086.0" r="5.8"/>
<circle cx="225.6" cy="1091.4" r="5.8"/>
<circle cx="229.6" cy="1092.1" r="5.8"/>
<circle cx="235.2" cy="1091.2" r="5.8"/>
<circle cx="244.3" cy="1089.0" r="5.8"/>
<circle cx="251.2" cy="1089.4" r="5.8"/>
<circle cx="257.7" cy="1090.7" r="5.8"/>
<circle cx="224.5" cy="1096.7" r="5.8"/>
<circle cx="231.2" cy="1097.9" r="5.8"/>
<circle cx="237.9" cy="1098.2" r="5.8"/>
<circle cx="243.0" cy="1096.6" r="5.8"/>
<circle cx="251.5" cy="1097.6" r="5.8"/>
<circle cx="257.1" cy="1100.1" r="5.8"/>
<circle cx="261.0" cy="1096.9" r="5.8"/>
<circle cx="225.8" cy="1104.0" r="5.8"/>
<circle cx="230.1" cy="1103.0" r="5.8"/>
<circle cx="239.8" cy="1102.2" r="5.8"/>
<circle cx="245.6" cy="1105.5" r="5.8"/>
<circle cx="252.5" cy="1105.5" r="5.8"/>
<circle cx="256.2" cy="1104.7" r="5.8"/>
<circle cx="230.0" cy="1108.5" r="5.8"/>
<circle cx="250.2" cy="1110.2" r="5.8"/>
<circle cx="267.5" cy="992.9" r="5.8"/>
<circle cx="273.7" cy="988.7" r="5.8"/>
<circle cx="282.7" cy="993.4" r="5.8"/>
<circle cx="294.7" cy="990.4" r="5.8"/>
<circle cx="303.7" cy="990.1" r="5.8"/>
<circle cx="265.4" cy="998.4" r="5.8"/>
<circle cx="277.7" cy="998.9" r="5.8"/>
<circle cx="284.2" cy="1002.4" r="5.8"/>
<circle cx="294.6" cy="1002.8" r="5.8"/>
<circle cx="302.7" cy="1002.2" r="5.8"/>
<circle cx="308.4" cy="1001.4" r="5.8"/>
<circle cx="257.2" cy="1006.3" r="5.8"/>
<circle cx="264.6" cy="1009.0" r="5.8"/>
<circle cx="277.8" cy="1011.1" r="5.8"/>
<circle cx="284.3" cy="1010.6" r="5.8"/>
<circle cx="291.5" cy="1010.2" r="5.8"/>
<circle cx="305.0" cy="1006.9" r="5.8"/>
<circle cx="313.6" cy="1011.9" r="5.8"/>
<circle cx="259.1" cy="1019.4" r="5.8"/>
<circle cx="268.2" cy="1018.6" r="5.8"/>
<circle cx="275.3" cy="1017.8" r="5.8"/>
<circle cx="283.4" cy="1017.8" r="5.8"/>
<circle cx="293.0" cy="1017.4" r="5.8"/>
<circle cx="299.9" cy="1017.4" r="5.8"/>
<circle cx="313.7" cy="1016.8" r="5.8"/>
<circle cx="249.5" cy="1027.7" r="5.8"/>
<circle cx="254.7" cy="1025.4" r="5.8"/>
<circle cx="267.3" cy="1027.8" r="5.8"/>
<circle cx="276.0" cy="1025.7" r="5.8"/>
<circle cx="286.3" cy="1028.7" r="5.8"/>
<circle cx="292.9" cy="1029.1" r="5.8"/>
<circle cx="300.8" cy="1027.2" r="5.8"/>
<circle cx="246.8" cy="1034.0" r="5.8"/>
<circle cx="257.0" cy="1033.2" r="5.8"/>
<circle cx="263.4" cy="1033.6" r="5.8"/>
<circle cx="277.2" cy="1036.6" r="5.8"/>
<circle cx="249.1" cy="1044.4" r="5.8"/>
<circle cx="258.7" cy="1043.9" r="5.8"/>
<circle cx="263.7" cy="1044.8" r="5.8"/>
<circle cx="273.1" cy="1043.3" r="5.8"/>
<circle cx="239.5" cy="1052.6" r="5.8"/>
<circle cx="249.3" cy="1056.4" r="5.8"/>
<circle cx="258.5" cy="1055.8" r="5.8"/>
<circle cx="265.1" cy="1052.4" r="5.8"/>
<circle cx="241.1" cy="1060.8" r="5.8"/>
<circle cx="246.5" cy="1060.7" r="5.8"/>
<circle cx="256.9" cy="1062.7" r="5.8"/>
<circle cx="264.6" cy="1060.6" r="5.8"/>
<circle cx="227.2" cy="1073.4" r="5.8"/>
<circle cx="237.7" cy="1074.1" r="5.8"/>
<circle cx="245.4" cy="1071.9" r="5.8"/>
<circle cx="221.2" cy="1078.6" r="5.8"/>
<circle cx="227.4" cy="1079.8" r="5.8"/>
</g>
<g fill="#f8766d" fill-opacity="0.6">
<circle cx="389.6" cy="799.0" r="5.8"/>
<circle cx="382.0" cy="850.2" r="5.8"/>
<circle cx="367.4" cy="857.4" r="5.8"/>
<circle cx="357.6" cy="912.4" r="5.8"/>
<circle cx="366.2" cy="919.9" r="5.8"/>
<circle cx="386.1" cy="922.9" r="5.8"/>
<circle cx="386.7" cy="923.5" r="5.8"/>
<circle cx="350.7" cy="929.4" r="5.8"/>
<circle cx="332.9" cy="929.4" r="5.8"/>
<circle cx="333.5" cy="935.5" r="5.8"/>
<circle cx="342.6" cy="946.8" r="5.8"/>
<circle cx="342.6" cy="972.4" r="5.8"/>
<circle cx="351.3" cy="987.3" r="5.8"/>
<circle cx="367.4" cy="985.2" r="5.8"/>
<circle cx="353.3" cy="992.0" r="5.8"/>
<circle cx="353.9" cy="992.6" r="5.8"/>
<circle cx="356.7" cy="1001.5" r="5.8"/>
<circle cx="378.1" cy="1000.4" r="5.8"/>
<circle cx="384.0" cy="1005.1" r="5.8"/>
<circle cx="350.1" cy="1009.9" r="5.8"/>
<circle cx="355.5" cy="1012.3" r="5.8"/>
<circle cx="369.8" cy="1022.1" r="5.8"/>
<circle cx="344.8" cy="1021.2" r="5.8"/>
<circle cx="345.4" cy="1021.8" r="5.8"/>
<circle cx="331.7" cy="1030.1" r="5.8"/>
<circle cx="363.8" cy="1035.5" r="5.8"/>
<circle cx="393.6" cy="1030.7" r="5.8"/>
<circle cx="334.0" cy="1042.6" r="5.8"/>
<circle cx="356.7" cy="1040.2" r="5.8"/>
<circle cx="402.5" cy="1047.4" r="5.8"/>
<circle cx="403.1" cy="1048.0" r="5.8"/>
<circle cx="406.7" cy="1044.4" r="5.8"/>
<circle cx="374.5" cy="1053.9" r="5.8"/>
<circle cx="385.2" cy="1058.1" r="5.8"/>
<circle cx="393.6" cy="1055.7" r="5.8"/>
<circle cx="412.6" cy="1057.5" r="5.8"/>
<circle cx="417.4" cy="1062.3" r="5.8"/>
<circle cx="426.9" cy="1065.8" r="5.8"/>
<circle cx="397.1" cy="1064.0" r="5.8"/>
<circle cx="384.0" cy="1058.3" r="5.8"/>
<circle cx="397.1" cy="1065.5" r="5.8"/>
<circle cx="397.7" cy="1066.1" r="5.8"/>
<circle cx="384.0" cy="1076.2" r="5.8"/>
<circle cx="390.0" cy="1071.4" r="5.8"/>
<circle cx="410.8" cy="1078.0" r="5.8"/>
<circle cx="421.8" cy="1090.2" r="5.8"/>
<circle cx="366.2" cy="1078.0" r="5.8"/>
<circle cx="366.8" cy="1078.6" r="5.8"/>
<circle cx="357.9" cy="1088.1" r="5.8"/>
<circle cx="358.5" cy="1088.7" r="5.8"/>
<circle cx="372.1" cy="1086.9" r="5.8"/>
<circle cx="379.3" cy="1094.0" r="5.8"/>
<circle cx="379.9" cy="1094.6" r="5.8"/>
<circle cx="389.4" cy="1092.9" r="5.8"/>
<circle cx="378.1" cy="1104.8" r="5.8"/>
<circle cx="365.0" cy="1104.8" r="5.8"/>
<circle cx="359.0" cy="1106.0" r="5.8"/>
<circle cx="323.3" cy="1106.0" r="5.8"/>
<circle cx="323.9" cy="1106.6" r="5.8"/>
<circle cx="325.7" cy="1097.6" r="5.8"/>
<circle cx="371.0" cy="1058.3" r="5.8"/>
<circle cx="371.6" cy="1058.9" r="5.8"/>
<circle cx="374.5" cy="1066.7" r="5.8"/>
<circle cx="511.3" cy="971.4" r="5.8"/>
<circle cx="517.2" cy="970.8" r="5.8"/>
<circle cx="517.2" cy="1058.7" r="5.8"/>
<circle cx="341.9" cy="1053.8" r="5.8"/>
<circle cx="328.9" cy="1057.9" r="5.8"/>
<circle cx="333.3" cy="1057.6" r="5.8"/>
<circle cx="336.8" cy="1055.7" r="5.8"/>
<circle cx="343.0" cy="1055.6" r="5.8"/>
<circle cx="346.4" cy="1056.7" r="5.8"/>
<circle cx="328.2" cy="1061.1" r="5.8"/>
<circle cx="334.2" cy="1060.6" r="5.8"/>
<circle cx="339.0" cy="1061.5" r="5.8"/>
<circle cx="342.8" cy="1062.5" r="5.8"/>
<circle cx="347.4" cy="1060.4" r="5.8"/>
<circle cx="350.7" cy="1060.0" r="5.8"/>
<circle cx="354.6" cy="1062.9" r="5.8"/>
<circle cx="328.5" cy="1065.0" r="5.8"/>
<circle cx="333.1" cy="1064.7" r="5.8"/>
<circle cx="338.6" cy="1067.4" r="5.8"/>
<circle cx="341.6" cy="1066.8" r="5.8"/>
<circle cx="347.3" cy="1065.9" r="5.8"/>
<circle cx="352.7" cy="1065.6" r="5.8"/>
<circle cx="357.0" cy="1064.6" r="5.8"/>
<circle cx="325.3" cy="1070.1" r="5.8"/>
<circle cx="327.8" cy="1070.0" r="5.8"/>
<circle cx="334.9" cy="1071.9" r="5.8"/>
<circle cx="337.2" cy="1070.3" r="5.8"/>
<circle cx="342.4" cy="1071.7" r="5.8"/>
<circle cx="345.5" cy="1071.5" r="5.8"/>
<circle cx="350.8" cy="1070.6" r="5.8"/>
<circle cx="354.9" cy="1069.3" r="5.8"/>
<circle cx="324.8" cy="1076.5" r="5.8"/>
<circle cx="329.0" cy="1073.7" r="5.8"/>
<circle cx="332.6" cy="1076.5" r="5.8"/>
<circle cx="339.4" cy="1074.2" r="5.8"/>
<circle cx="342.0" cy="1075.6" r="5.8"/>
<circle cx="347.0" cy="1074.1" r="5.8"/>
<circle cx="353.0" cy="1075.4" r="5.8"/>
<circle cx="355.6" cy="1073.6" r="5.8"/>
<circle cx="360.5" cy="1075.8" r="5.8"/>
<circle cx="329.4" cy="1079.6" r="5.8"/>
<circle cx="332.4" cy="1078.8" r="5.8"/>
<circle cx="337.1" cy="1078.6" r="5.8"/>
<circle cx="341.3" cy="1079.2" r="5.8"/>
<circle cx="346.2" cy="1080.5" r="5.8"/>
<circle cx="351.0" cy="1080.9" r="5.8"/>
<circle cx="356.9" cy="1078.8" r="5.8"/>
<circle cx="325.3" cy="1083.8" r="5.8"/>
<circle cx="328.3" cy="1085.3" r="5.8"/>
<circle cx="332.9" cy="1085.5" r="5.8"/>
<circle cx="338.6" cy="1082.5" r="5.8"/>
<circle cx="342.3" cy="1082.9" r="5.8"/>
<circle cx="347.9" cy="1083.8" r="5.8"/>
<circle cx="350.3" cy="1085.4" r="5.8"/>
<circle cx="330.2" cy="1088.5" r="5.8"/>
<circle cx="333.2" cy="1089.6" r="5.8"/>
<circle cx="339.1" cy="1089.2" r="5.8"/>
<circle cx="343.7" cy="1088.0" r="5.8"/>
<circle cx="345.8" cy="1088.0" r="5.8"/>
<circle cx="351.8" cy="1089.4" r="5.8"/>
<circle cx="330.0" cy="1092.3" r="5.8"/>
<circle cx="334.0" cy="1093.4" r="5.8"/>
<circle cx="338.5" cy="1094.1" r="5.8"/>
<circle cx="343.1" cy="1091.7" r="5.8"/>
<circle cx="347.4" cy="1092.5" r="5.8"/>
<circle cx="351.3" cy="1093.5" r="5.8"/>
<circle cx="355.0" cy="1093.4" r="5.8"/>
<circle cx="330.5" cy="1097.9" r="5.8"/>
<circle cx="332.5" cy="1096.4" r="5.8"/>
<circle cx="337.8" cy="1097.6" r="5.8"/>
<circle cx="344.0" cy="1096.6" r="5.8"/>
<circle cx="347.4" cy="1097.3" r="5.8"/>
<circle cx="351.7" cy="1098.8" r="5.8"/>
<circle cx="354.9" cy="1098.5" r="5.8"/>
<circle cx="329.5" cy="1101.6" r="5.8"/>
<circle cx="333.2" cy="1100.8" r="5.8"/>
<circle cx="336.9" cy="1101.2" r="5.8"/>
<circle cx="343.3" cy="1100.9" r="5.8"/>
<circle cx="346.1" cy="1101.9" r="5.8"/>
<circle cx="350.6" cy="1101.2" r="5.8"/>
<circle cx="328.7" cy="1105.3" r="5.8"/>
<circle cx="333.3" cy="1106.5" r="5.8"/>
<circle cx="336.7" cy="1107.0" r="5.8"/>
<circle cx="343.9" cy="1107.1" r="5.8"/>
<circle cx="346.8" cy="1107.5" r="5.8"/>
<circle cx="346.7" cy="1014.8" r="5.8"/>
<circle cx="332.7" cy="1018.1" r="5.8"/>
<circle cx="340.3" cy="1020.2" r="5.8"/>
<circle cx="345.2" cy="1022.1" r="5.8"/>
<circle cx="354.3" cy="1019.4" r="5.8"/>
<circle cx="332.5" cy="1030.3" r="5.8"/>
<circle cx="340.9" cy="1032.8" r="5.8"/>
<circle cx="348.0" cy="1029.4" r="5.8"/>
<circle cx="356.3" cy="1028.6" r="5.8"/>
<circle cx="341.1" cy="1038.7" r="5.8"/>
<circle cx="349.1" cy="1037.6" r="5.8"/>
<circle cx="357.5" cy="1037.3" r="5.8"/>
<circle cx="367.7" cy="1040.9" r="5.8"/>
<circle cx="372.1" cy="1040.0" r="5.8"/>
<circle cx="336.1" cy="1047.8" r="5.8"/>
<circle cx="350.0" cy="1046.0" r="5.8"/>
<circle cx="358.5" cy="1046.8" r="5.8"/>
<circle cx="365.7" cy="1047.4" r="5.8"/>
<circle cx="372.3" cy="1047.3" r="5.8"/>
<circle cx="341.4" cy="1054.6" r="5.8"/>
<circle cx="349.7" cy="1054.5" r="5.8"/>
<circle cx="357.4" cy="1056.1" r="5.8"/>
<circle cx="365.8" cy="1058.1" r="5.8"/>
<circle cx="376.8" cy="1054.0" r="5.8"/>
<circle cx="386.3" cy="1057.9" r="5.8"/>
<circle cx="347.7" cy="1064.5" r="5.8"/>
<circle cx="358.9" cy="1064.8" r="5.8"/>
<circle cx="364.5" cy="1069.0" r="5.8"/>
<circle cx="374.5" cy="1065.8" r="5.8"/>
<circle cx="385.2" cy="1064.1" r="5.8"/>
<circle cx="358.7" cy="1076.1" r="5.8"/>
<circle cx="368.8" cy="1076.6" r="5.8"/>
<circle cx="373.5" cy="1072.9" r="5.8"/>
<circle cx="383.4" cy="1073.5" r="5.8"/>
<circle cx="391.4" cy="1075.3" r="5.8"/>
<circle cx="357.7" cy="1086.2" r="5.8"/>
<circle cx="366.5" cy="1081.0" r="5.8"/>
<circle cx="375.6" cy="1083.1" r="5.8"/>
<circle cx="383.5" cy="1084.4" r="5.8"/>
<circle cx="391.3" cy="1085.8" r="5.8"/>
<circle cx="367.6" cy="1092.8" r="5.8"/>
<circle cx="375.7" cy="1095.1" r="5.8"/>
<circle cx="386.1" cy="1092.6" r="5.8"/>
<circle cx="392.1" cy="1090.1" r="5.8"/>
<circle cx="363.5" cy="1101.1" r="5.8"/>
<circle cx="373.7" cy="1103.6" r="5.8"/>
<circle cx="384.6" cy="1100.3" r="5.8"/>
</g>
<g fill="#b3b3b3" fill-opacity="0.53">
<circle cx="995.8" cy="1093.2" r="5.8"/>
<circle cx="1028.0" cy="1099.8" r="5.8"/>
<circle cx="1073.2" cy="1086.7" r="5.8"/>
<circle cx="1104.2" cy="1086.1" r="5.8"/>
<circle cx="1113.1" cy="1081.9" r="5.8"/>
<circle cx="1100.0" cy="1108.1" r="5.8"/>
<circle cx="1100.6" cy="1108.7" r="5.8"/>
<circle cx="1108.3" cy="1112.9" r="5.8"/>
<circle cx="1075.0" cy="1115.2" r="5.8"/>
<circle cx="1075.6" cy="1115.8" r="5.8"/>
<circle cx="1069.0" cy="1118.8" r="5.8"/>
<circle cx="1120.7" cy="1083.1" r="5.8"/>
<circle cx="1121.3" cy="1083.7" r="5.8"/>
<circle cx="1109.8" cy="1111.2" r="5.8"/>
<circle cx="1118.8" cy="1116.9" r="5.8"/>
<circle cx="1122.6" cy="1105.5" r="5.8"/>
<circle cx="1097.9" cy="1122.6" r="5.8"/>
<circle cx="1103.6" cy="1123.1" r="5.8"/>
<circle cx="1076.0" cy="1116.0" r="5.8"/>
<circle cx="1074.0" cy="1119.8" r="5.8"/>
<circle cx="1074.6" cy="1120.4" r="5.8"/>
<circle cx="1065.5" cy="1123.6" r="5.8"/>
<circle cx="1066.1" cy="1124.2" r="5.8"/>
<circle cx="1072.1" cy="1130.7" r="5.8"/>
<circle cx="1050.2" cy="1128.8" r="5.8"/>
<circle cx="1034.5" cy="1133.1" r="5.8"/>
<circle cx="1035.0" cy="1141.2" r="5.8"/>
<circle cx="1041.2" cy="1148.3" r="5.8"/>
<circle cx="1060.7" cy="1139.3" r="5.8"/>
<circle cx="1076.0" cy="1149.8" r="5.8"/>
<circle cx="1087.4" cy="1134.5" r="5.8"/>
<circle cx="1107.9" cy="1139.3" r="5.8"/>
<circle cx="1122.1" cy="1133.6" r="5.8"/>
<circle cx="1120.7" cy="1143.6" r="5.8"/>
<circle cx="1120.3" cy="1082.5" r="5.8"/>
<circle cx="1120.9" cy="1083.1" r="5.8"/>
<circle cx="1128.6" cy="1080.5" r="5.8"/>
<circle cx="1112.1" cy="1080.5" r="5.8"/>
<circle cx="1125.5" cy="1103.2" r="5.8"/>
<circle cx="1130.6" cy="1101.1" r="5.8"/>
<circle cx="1111.0" cy="1110.4" r="5.8"/>
<circle cx="1118.8" cy="1116.6" r="5.8"/>
<circle cx="1128.6" cy="1122.8" r="5.8"/>
<circle cx="1135.8" cy="1116.6" r="5.8"/>
<circle cx="1136.4" cy="1117.2" r="5.8"/>
<circle cx="1123.4" cy="1133.6" r="5.8"/>
<circle cx="1111.0" cy="1139.3" r="5.8"/>
<circle cx="1120.3" cy="1143.9" r="5.8"/>
<circle cx="1130.6" cy="1150.6" r="5.8"/>
<circle cx="1131.2" cy="1151.2" r="5.8"/>
<circle cx="1139.9" cy="1143.4" r="5.8"/>
<circle cx="1149.2" cy="1141.3" r="5.8"/>
<circle cx="1149.8" cy="1141.9" r="5.8"/>
<circle cx="1153.3" cy="1148.6" r="5.8"/>
<circle cx="1163.6" cy="1147.5" r="5.8"/>
<circle cx="1163.6" cy="1139.3" r="5.8"/>
<circle cx="1178.1" cy="1141.3" r="5.8"/>
<circle cx="1178.7" cy="1141.9" r="5.8"/>
<circle cx="1178.1" cy="1152.7" r="5.8"/>
<circle cx="1190.0" cy="1158.4" r="5.8"/>
<circle cx="1214.2" cy="1099.0" r="5.8"/>
<circle cx="1254.4" cy="1083.6" r="5.8"/>
<circle cx="1252.4" cy="1096.0" r="5.8"/>
<circle cx="1253.0" cy="1096.6" r="5.8"/>
<circle cx="1257.1" cy="1081.7" r="5.8"/>
<circle cx="1272.6" cy="1080.6" r="5.8"/>
<circle cx="1271.6" cy="1089.9" r="5.8"/>
<circle cx="1286.0" cy="1098.2" r="5.8"/>
<circle cx="1288.1" cy="1102.3" r="5.8"/>
<circle cx="1298.9" cy="1099.7" r="5.8"/>
<circle cx="1318.5" cy="1113.6" r="5.8"/>
<circle cx="1338.6" cy="1135.8" r="5.8"/>
<circle cx="1290.2" cy="1124.5" r="5.8"/>
<circle cx="1304.1" cy="1138.4" r="5.8"/>
<circle cx="1311.8" cy="1143.6" r="5.8"/>
<circle cx="1312.4" cy="1144.2" r="5.8"/>
<circle cx="1318.0" cy="1149.8" r="5.8"/>
<circle cx="1318.6" cy="1150.4" r="5.8"/>
<circle cx="1329.4" cy="1149.2" r="5.8"/>
<circle cx="1330.0" cy="1149.8" r="5.8"/>
<circle cx="1336.6" cy="1149.8" r="5.8"/>
<circle cx="1350.0" cy="1149.2" r="5.8"/>
<circle cx="1358.2" cy="1149.8" r="5.8"/>
<circle cx="1277.8" cy="1105.4" r="5.8"/>
<circle cx="1448.2" cy="1118.8" r="5.8"/>
<circle cx="1402.0" cy="1140.2" r="5.8"/>
<circle cx="1391.5" cy="1149.4" r="5.8"/>
<circle cx="1392.1" cy="1150.0" r="5.8"/>
<circle cx="1378.8" cy="1149.4" r="5.8"/>
<circle cx="1366.2" cy="1149.0" r="5.8"/>
<circle cx="1366.8" cy="1149.6" r="5.8"/>
<circle cx="1360.1" cy="1149.0" r="5.8"/>
<circle cx="1349.6" cy="1149.0" r="5.8"/>
<circle cx="1350.2" cy="1149.6" r="5.8"/>
<circle cx="1340.9" cy="1149.0" r="5.8"/>
<circle cx="1340.9" cy="1135.4" r="5.8"/>
<circle cx="1224.5" cy="1180.0" r="5.8"/>
<circle cx="1221.0" cy="1175.0" r="5.8"/>
<circle cx="1228.0" cy="1175.0" r="5.8"/>
<circle cx="1146.9" cy="1080.8" r="5.8"/>
<circle cx="1160.5" cy="1080.1" r="5.8"/>
<circle cx="1167.3" cy="1080.0" r="5.8"/>
<circle cx="1175.7" cy="1081.2" r="5.8"/>
<circle cx="1185.3" cy="1080.1" r="5.8"/>
<circle cx="1191.7" cy="1080.3" r="5.8"/>
<circle cx="1196.4" cy="1080.7" r="5.8"/>
<circle cx="1200.7" cy="1079.9" r="5.8"/>
<circle cx="1149.0" cy="1084.0" r="5.8"/>
<circle cx="1153.0" cy="1083.1" r="5.8"/>
<circle cx="1156.0" cy="1085.6" r="5.8"/>
<circle cx="1161.1" cy="1084.9" r="5.8"/>
<circle cx="1166.1" cy="1083.6" r="5.8"/>
<circle cx="1170.7" cy="1085.5" r="5.8"/>
<circle cx="1174.4" cy="1083.8" r="5.8"/>
<circle cx="1178.5" cy="1083.3" r="5.8"/>
<circle cx="1184.9" cy="1084.9" r="5.8"/>
<circle cx="1189.8" cy="1084.8" r="5.8"/>
<circle cx="1194.3" cy="1083.5" r="5.8"/>
<circle cx="1196.5" cy="1083.4" r="5.8"/>
<circle cx="1201.6" cy="1085.8" r="5.8"/>
<circle cx="1205.6" cy="1084.2" r="5.8"/>
<circle cx="1148.5" cy="1087.7" r="5.8"/>
<circle cx="1152.8" cy="1087.9" r="5.8"/>
<circle cx="1156.7" cy="1087.3" r="5.8"/>
<circle cx="1161.0" cy="1088.3" r="5.8"/>
<circle cx="1165.2" cy="1087.7" r="5.8"/>
<circle cx="1170.6" cy="1089.4" r="5.8"/>
<circle cx="1174.0" cy="1087.4" r="5.8"/>
<circle cx="1178.7" cy="1089.4" r="5.8"/>
<circle cx="1183.2" cy="1089.2" r="5.8"/>
<circle cx="1187.1" cy="1089.4" r="5.8"/>
<circle cx="1191.8" cy="1088.0" r="5.8"/>
<circle cx="1198.1" cy="1088.7" r="5.8"/>
<circle cx="1202.3" cy="1088.2" r="5.8"/>
<circle cx="1206.9" cy="1088.2" r="5.8"/>
<circle cx="1148.2" cy="1091.9" r="5.8"/>
<circle cx="1151.2" cy="1094.4" r="5.8"/>
<circle cx="1157.5" cy="1094.5" r="5.8"/>
<circle cx="1162.6" cy="1092.5" r="5.8"/>
<circle cx="1167.4" cy="1093.6" r="5.8"/>
<circle cx="1171.1" cy="1093.3" r="5.8"/>
<circle cx="1174.2" cy="1093.3" r="5.8"/>
<circle cx="1179.3" cy="1092.7" r="5.8"/>
<circle cx="1183.4" cy="1093.1" r="5.8"/>
<circle cx="1187.7" cy="1092.2" r="5.8"/>
<circle cx="1193.8" cy="1092.9" r="5.8"/>
<circle cx="1197.0" cy="1094.2" r="5.8"/>
<circle cx="1202.5" cy="1093.1" r="5.8"/>
<circle cx="1205.8" cy="1094.2" r="5.8"/>
<circle cx="1210.1" cy="1093.2" r="5.8"/>
<circle cx="1148.2" cy="1098.4" r="5.8"/>
<circle cx="1153.6" cy="1097.1" r="5.8"/>
<circle cx="1156.9" cy="1099.0" r="5.8"/>
<circle cx="1160.5" cy="1097.1" r="5.8"/>
<circle cx="1167.0" cy="1098.8" r="5.8"/>
<circle cx="1170.4" cy="1096.7" r="5.8"/>
<circle cx="1175.9" cy="1097.2" r="5.8"/>
<circle cx="1180.2" cy="1097.1" r="5.8"/>
<circle cx="1182.9" cy="1098.4" r="5.8"/>
<circle cx="1188.1" cy="1097.4" r="5.8"/>
<circle cx="1192.7" cy="1097.7" r="5.8"/>
<circle cx="1197.3" cy="1098.2" r="5.8"/>
<circle cx="1200.7" cy="1098.3" r="5.8"/>
<circle cx="1206.4" cy="1098.8" r="5.8"/>
<circle cx="1210.3" cy="1098.3" r="5.8"/>
<circle cx="1147.0" cy="1102.7" r="5.8"/>
<circle cx="1151.5" cy="1103.4" r="5.8"/>
<circle cx="1156.6" cy="1101.0" r="5.8"/>
<circle cx="1161.8" cy="1101.1" r="5.8"/>
<circle cx="1167.1" cy="1103.6" r="5.8"/>
<circle cx="1170.7" cy="1101.5" r="5.8"/>
<circle cx="1175.7" cy="1100.9" r="5.8"/>
<circle cx="1178.2" cy="1101.7" r="5.8"/>
<circle cx="1182.6" cy="1103.4" r="5.8"/>
<circle cx="1188.9" cy="1103.2" r="5.8"/>
<circle cx="1193.4" cy="1101.5" r="5.8"/>
<circle cx="1196.7" cy="1102.6" r="5.8"/>
<circle cx="1202.8" cy="1102.7" r="5.8"/>
<circle cx="1205.9" cy="1103.2" r="5.8"/>
<circle cx="1210.6" cy="1102.7" r="5.8"/>
<circle cx="1148.1" cy="1107.6" r="5.8"/>
<circle cx="1151.2" cy="1106.6" r="5.8"/>
<circle cx="1156.8" cy="1105.7" r="5.8"/>
<circle cx="1161.8" cy="1106.1" r="5.8"/>
<circle cx="1166.5" cy="1106.8" r="5.8"/>
<circle cx="1170.5" cy="1106.0" r="5.8"/>
<circle cx="1175.7" cy="1105.3" r="5.8"/>
<circle cx="1178.8" cy="1105.6" r="5.8"/>
<circle cx="1182.7" cy="1105.3" r="5.8"/>
<circle cx="1188.5" cy="1105.5" r="5.8"/>
<circle cx="1191.7" cy="1106.6" r="5.8"/>
<circle cx="1197.9" cy="1105.9" r="5.8"/>
<circle cx="1202.4" cy="1107.0" r="5.8"/>
<circle cx="1207.7" cy="1107.7" r="5.8"/>
<circle cx="1212.4" cy="1106.4" r="5.8"/>
<circle cx="1147.3" cy="1110.9" r="5.8"/>
<circle cx="1151.8" cy="1110.2" r="5.8"/>
<circle cx="1157.3" cy="1110.7" r="5.8"/>
<circle cx="1160.7" cy="1110.7" r="5.8"/>
<circle cx="1165.5" cy="1112.2" r="5.8"/>
<circle cx="1169.5" cy="1110.2" r="5.8"/>
<circle cx="1174.4" cy="1111.5" r="5.8"/>
<circle cx="1178.7" cy="1110.1" r="5.8"/>
<circle cx="1183.5" cy="1112.7" r="5.8"/>
<circle cx="1189.6" cy="1111.1" r="5.8"/>
<circle cx="1192.7" cy="1110.3" r="5.8"/>
<circle cx="1197.9" cy="1112.0" r="5.8"/>
<circle cx="1201.2" cy="1111.7" r="5.8"/>
<circle cx="1205.2" cy="1110.7" r="5.8"/>
<circle cx="1210.3" cy="1112.2" r="5.8"/>
<circle cx="1148.7" cy="1114.8" r="5.8"/>
<circle cx="1151.5" cy="1115.3" r="5.8"/>
<circle cx="1157.3" cy="1115.3" r="5.8"/>
<circle cx="1161.5" cy="1115.8" r="5.8"/>
<circle cx="1167.2" cy="1116.0" r="5.8"/>
<circle cx="1169.7" cy="1116.2" r="5.8"/>
<circle cx="1175.1" cy="1115.2" r="5.8"/>
<circle cx="1180.1" cy="1114.3" r="5.8"/>
<circle cx="1185.4" cy="1116.9" r="5.8"/>
<circle cx="1187.1" cy="1116.4" r="5.8"/>
<circle cx="1191.8" cy="1117.3" r="5.8"/>
<circle cx="1197.3" cy="1116.5" r="5.8"/>
<circle cx="1201.2" cy="1116.3" r="5.8"/>
<circle cx="1205.0" cy="1116.7" r="5.8"/>
<circle cx="1210.2" cy="1114.8" r="5.8"/>
<circle cx="1147.7" cy="1119.9" r="5.8"/>
<circle cx="1151.1" cy="1121.6" r="5.8"/>
<circle cx="1157.2" cy="1121.1" r="5.8"/>
<circle cx="1160.4" cy="1120.3" r="5.8"/>
<circle cx="1165.3" cy="1119.6" r="5.8"/>
<circle cx="1170.1" cy="1120.7" r="5.8"/>
<circle cx="1174.8" cy="1120.9" r="5.8"/>
<circle cx="1180.9" cy="1120.6" r="5.8"/>
<circle cx="1184.8" cy="1121.7" r="5.8"/>
<circle cx="1189.8" cy="1119.8" r="5.8"/>
<circle cx="1193.9" cy="1120.9" r="5.8"/>
<circle cx="1196.0" cy="1121.3" r="5.8"/>
<circle cx="1203.1" cy="1121.5" r="5.8"/>
<circle cx="1205.9" cy="1121.0" r="5.8"/>
<circle cx="1211.9" cy="1120.1" r="5.8"/>
<circle cx="1156.4" cy="1124.4" r="5.8"/>
<circle cx="1160.0" cy="1126.3" r="5.8"/>
<circle cx="1165.0" cy="1123.3" r="5.8"/>
<circle cx="1170.7" cy="1123.4" r="5.8"/>
<circle cx="1175.1" cy="1126.0" r="5.8"/>
<circle cx="1178.1" cy="1124.7" r="5.8"/>
<circle cx="1184.9" cy="1124.0" r="5.8"/>
<circle cx="1187.3" cy="1123.5" r="5.8"/>
<circle cx="1193.5" cy="1125.6" r="5.8"/>
<circle cx="1197.2" cy="1124.3" r="5.8"/>
<circle cx="1203.4" cy="1124.0" r="5.8"/>
<circle cx="1207.3" cy="1125.7" r="5.8"/>
<circle cx="1210.8" cy="1125.7" r="5.8"/>
<circle cx="1180.1" cy="1129.3" r="5.8"/>
<circle cx="1182.7" cy="1128.9" r="5.8"/>
<circle cx="1189.1" cy="1127.9" r="5.8"/>
<circle cx="1192.1" cy="1127.8" r="5.8"/>
<circle cx="1196.9" cy="1128.8" r="5.8"/>
<circle cx="1201.8" cy="1128.3" r="5.8"/>
<circle cx="1206.5" cy="1128.2" r="5.8"/>
<circle cx="1211.8" cy="1130.3" r="5.8"/>
<circle cx="1215.1" cy="1130.5" r="5.8"/>
<circle cx="1220.4" cy="1129.5" r="5.8"/>
<circle cx="1194.2" cy="1134.4" r="5.8"/>
<circle cx="1197.4" cy="1133.4" r="5.8"/>
<circle cx="1201.0" cy="1133.7" r="5.8"/>
<circle cx="1207.8" cy="1132.8" r="5.8"/>
<circle cx="1211.3" cy="1133.9" r="5.8"/>
<circle cx="1214.2" cy="1133.0" r="5.8"/>
<circle cx="1219.2" cy="1132.6" r="5.8"/>
<circle cx="1223.2" cy="1134.8" r="5.8"/>
<circle cx="1192.4" cy="1137.6" r="5.8"/>
<circle cx="1197.4" cy="1136.9" r="5.8"/>
<circle cx="1202.8" cy="1139.8" r="5.8"/>
<circle cx="1205.5" cy="1138.0" r="5.8"/>
<circle cx="1210.5" cy="1138.9" r="5.8"/>
<circle cx="1215.1" cy="1139.4" r="5.8"/>
<circle cx="1221.2" cy="1137.6" r="5.8"/>
<circle cx="1223.3" cy="1138.6" r="5.8"/>
<circle cx="1192.1" cy="1141.7" r="5.8"/>
<circle cx="1196.1" cy="1142.2" r="5.8"/>
<circle cx="1202.7" cy="1142.0" r="5.8"/>
<circle cx="1207.4" cy="1143.3" r="5.8"/>
<circle cx="1212.3" cy="1142.1" r="5.8"/>
<circle cx="1216.8" cy="1143.6" r="5.8"/>
<circle cx="1218.5" cy="1142.1" r="5.8"/>
<circle cx="1223.2" cy="1142.3" r="5.8"/>
<circle cx="1193.6" cy="1148.1" r="5.8"/>
<circle cx="1197.0" cy="1147.7" r="5.8"/>
<circle cx="1201.3" cy="1147.3" r="5.8"/>
<circle cx="1207.4" cy="1148.0" r="5.8"/>
<circle cx="1209.5" cy="1148.0" r="5.8"/>
<circle cx="1215.6" cy="1148.5" r="5.8"/>
<circle cx="1218.6" cy="1145.8" r="5.8"/>
<circle cx="1223.8" cy="1148.7" r="5.8"/>
<circle cx="1198.8" cy="1153.1" r="5.8"/>
<circle cx="1202.3" cy="1152.4" r="5.8"/>
<circle cx="1207.4" cy="1152.9" r="5.8"/>
<circle cx="1211.0" cy="1152.0" r="5.8"/>
<circle cx="1216.8" cy="1151.2" r="5.8"/>
<circle cx="1219.4" cy="1153.3" r="5.8"/>
<circle cx="1202.9" cy="1155.6" r="5.8"/>
<circle cx="1207.8" cy="1155.5" r="5.8"/>
<circle cx="1210.2" cy="1156.7" r="5.8"/>
<circle cx="1216.0" cy="1157.6" r="5.8"/>
<circle cx="1219.3" cy="1155.1" r="5.8"/>
<circle cx="1205.1" cy="1161.4" r="5.8"/>
<circle cx="1212.0" cy="1160.6" r="5.8"/>
<circle cx="1215.4" cy="1161.9" r="5.8"/>
<circle cx="1219.0" cy="1160.1" r="5.8"/>
<circle cx="1209.6" cy="1164.1" r="5.8"/>
<circle cx="1215.9" cy="1165.9" r="5.8"/>
<circle cx="1220.8" cy="1164.6" r="5.8"/>
<circle cx="1216.1" cy="1170.8" r="5.8"/>
<circle cx="1218.6" cy="1170.3" r="5.8"/>
<circle cx="1252.0" cy="1101.2" r="5.8"/>
<circle cx="1254.8" cy="1101.2" r="5.8"/>
<circle cx="1261.3" cy="1099.3" r="5.8"/>
<circle cx="1265.1" cy="1101.0" r="5.8"/>
<circle cx="1241.6" cy="1103.0" r="5.8"/>
<circle cx="1245.9" cy="1104.2" r="5.8"/>
<circle cx="1251.5" cy="1104.9" r="5.8"/>
<circle cx="1255.4" cy="1103.4" r="5.8"/>
<circle cx="1261.8" cy="1104.9" r="5.8"/>
<circle cx="1265.5" cy="1105.1" r="5.8"/>
<circle cx="1269.0" cy="1104.8" r="5.8"/>
<circle cx="1234.4" cy="1109.6" r="5.8"/>
<circle cx="1239.1" cy="1109.0" r="5.8"/>
<circle cx="1242.1" cy="1108.9" r="5.8"/>
<circle cx="1247.9" cy="1108.3" r="5.8"/>
<circle cx="1250.6" cy="1110.0" r="5.8"/>
<circle cx="1255.9" cy="1109.4" r="5.8"/>
<circle cx="1259.5" cy="1107.6" r="5.8"/>
<circle cx="1264.2" cy="1108.8" r="5.8"/>
<circle cx="1268.1" cy="1108.3" r="5.8"/>
<circle cx="1232.8" cy="1114.7" r="5.8"/>
<circle cx="1238.1" cy="1113.1" r="5.8"/>
<circle cx="1243.9" cy="1112.2" r="5.8"/>
<circle cx="1245.6" cy="1114.3" r="5.8"/>
<circle cx="1251.7" cy="1114.5" r="5.8"/>
<circle cx="1256.0" cy="1114.8" r="5.8"/>
<circle cx="1260.0" cy="1112.7" r="5.8"/>
<circle cx="1266.2" cy="1113.6" r="5.8"/>
<circle cx="1268.1" cy="1112.0" r="5.8"/>
<circle cx="1234.1" cy="1116.6" r="5.8"/>
<circle cx="1237.1" cy="1116.5" r="5.8"/>
<circle cx="1243.1" cy="1117.7" r="5.8"/>
<circle cx="1245.5" cy="1117.2" r="5.8"/>
<circle cx="1250.6" cy="1118.2" r="5.8"/>
<circle cx="1255.8" cy="1117.8" r="5.8"/>
<circle cx="1260.0" cy="1116.6" r="5.8"/>
<circle cx="1264.5" cy="1118.4" r="5.8"/>
<circle cx="1269.6" cy="1118.3" r="5.8"/>
<circle cx="1230.0" cy="1123.1" r="5.8"/>
<circle cx="1234.6" cy="1122.5" r="5.8"/>
<circle cx="1239.3" cy="1122.7" r="5.8"/>
<circle cx="1241.4" cy="1123.7" r="5.8"/>
<circle cx="1246.4" cy="1123.8" r="5.8"/>
<circle cx="1251.6" cy="1122.2" r="5.8"/>
<circle cx="1256.1" cy="1122.1" r="5.8"/>
<circle cx="1259.2" cy="1121.1" r="5.8"/>
<circle cx="1263.8" cy="1123.7" r="5.8"/>
<circle cx="1269.0" cy="1121.1" r="5.8"/>
<circle cx="1228.8" cy="1126.8" r="5.8"/>
<circle cx="1232.3" cy="1126.4" r="5.8"/>
<circle cx="1237.7" cy="1127.8" r="5.8"/>
<circle cx="1241.3" cy="1127.4" r="5.8"/>
<circle cx="1246.6" cy="1127.8" r="5.8"/>
<circle cx="1252.0" cy="1126.1" r="5.8"/>
<circle cx="1256.6" cy="1126.6" r="5.8"/>
<circle cx="1261.5" cy="1125.6" r="5.8"/>
<circle cx="1264.4" cy="1127.1" r="5.8"/>
<circle cx="1268.9" cy="1126.7" r="5.8"/>
<circle cx="1274.2" cy="1126.2" r="5.8"/>
<circle cx="1225.8" cy="1131.5" r="5.8"/>
<circle cx="1227.6" cy="1132.2" r="5.8"/>
<circle cx="1232.7" cy="1132.6" r="5.8"/>
<circle cx="1236.6" cy="1130.4" r="5.8"/>
<circle cx="1242.1" cy="1132.5" r="5.8"/>
<circle cx="1248.3" cy="1132.9" r="5.8"/>
<circle cx="1250.6" cy="1131.1" r="5.8"/>
<circle cx="1257.1" cy="1132.4" r="5.8"/>
<circle cx="1261.8" cy="1130.2" r="5.8"/>
<circle cx="1263.6" cy="1131.2" r="5.8"/>
<circle cx="1270.5" cy="1132.1" r="5.8"/>
<circle cx="1273.7" cy="1132.0" r="5.8"/>
<circle cx="1278.3" cy="1132.5" r="5.8"/>
<circle cx="1282.4" cy="1132.3" r="5.8"/>
<circle cx="1286.5" cy="1131.8" r="5.8"/>
<circle cx="1225.0" cy="1135.2" r="5.8"/>
<circle cx="1229.9" cy="1136.2" r="5.8"/>
<circle cx="1234.2" cy="1136.7" r="5.8"/>
<circle cx="1237.1" cy="1134.7" r="5.8"/>
<circle cx="1243.3" cy="1136.5" r="5.8"/>
<circle cx="1245.6" cy="1134.6" r="5.8"/>
<circle cx="1251.3" cy="1136.5" r="5.8"/>
<circle cx="1254.9" cy="1136.6" r="5.8"/>
<circle cx="1260.0" cy="1136.4" r="5.8"/>
<circle cx="1264.3" cy="1135.2" r="5.8"/>
<circle cx="1268.4" cy="1136.6" r="5.8"/>
<circle cx="1274.4" cy="1134.7" r="5.8"/>
<circle cx="1277.3" cy="1137.0" r="5.8"/>
<circle cx="1282.3" cy="1137.3" r="5.8"/>
<circle cx="1288.9" cy="1136.9" r="5.8"/>
<circle cx="1229.9" cy="1141.2" r="5.8"/>
<circle cx="1234.2" cy="1140.2" r="5.8"/>
<circle cx="1238.7" cy="1141.7" r="5.8"/>
<circle cx="1242.8" cy="1139.4" r="5.8"/>
<circle cx="1248.0" cy="1139.1" r="5.8"/>
<circle cx="1250.0" cy="1139.9" r="5.8"/>
<circle cx="1255.6" cy="1141.9" r="5.8"/>
<circle cx="1261.2" cy="1140.3" r="5.8"/>
<circle cx="1265.2" cy="1140.2" r="5.8"/>
<circle cx="1270.7" cy="1140.9" r="5.8"/>
<circle cx="1273.6" cy="1141.8" r="5.8"/>
<circle cx="1279.4" cy="1140.2" r="5.8"/>
<circle cx="1284.4" cy="1139.2" r="5.8"/>
<circle cx="1288.6" cy="1140.4" r="5.8"/>
<circle cx="1292.0" cy="1141.6" r="5.8"/>
<circle cx="1225.3" cy="1145.6" r="5.8"/>
<circle cx="1230.4" cy="1146.5" r="5.8"/>
<circle cx="1233.9" cy="1146.1" r="5.8"/>
<circle cx="1239.2" cy="1145.0" r="5.8"/>
<circle cx="1243.5" cy="1145.2" r="5.8"/>
<circle cx="1247.8" cy="1145.9" r="5.8"/>
<circle cx="1252.7" cy="1145.0" r="5.8"/>
<circle cx="1254.7" cy="1143.7" r="5.8"/>
<circle cx="1261.1" cy="1145.3" r="5.8"/>
<circle cx="1266.0" cy="1144.0" r="5.8"/>
<circle cx="1270.5" cy="1146.5" r="5.8"/>
<circle cx="1273.9" cy="1143.8" r="5.8"/>
<circle cx="1279.1" cy="1143.7" r="5.8"/>
<circle cx="1283.9" cy="1145.9" r="5.8"/>
<circle cx="1287.1" cy="1146.2" r="5.8"/>
<circle cx="1291.6" cy="1146.0" r="5.8"/>
<circle cx="1295.9" cy="1145.7" r="5.8"/>
<circle cx="1228.4" cy="1148.2" r="5.8"/>
<circle cx="1232.1" cy="1149.2" r="5.8"/>
<circle cx="1236.6" cy="1149.9" r="5.8"/>
<circle cx="1243.2" cy="1150.2" r="5.8"/>
<circle cx="1247.0" cy="1149.9" r="5.8"/>
<circle cx="1252.6" cy="1148.9" r="5.8"/>
<circle cx="1256.3" cy="1148.5" r="5.8"/>
<circle cx="1261.0" cy="1151.0" r="5.8"/>
<circle cx="1264.5" cy="1150.1" r="5.8"/>
<circle cx="1268.5" cy="1151.0" r="5.8"/>
<circle cx="1272.7" cy="1148.8" r="5.8"/>
<circle cx="1278.2" cy="1150.3" r="5.8"/>
<circle cx="1283.1" cy="1148.3" r="5.8"/>
<circle cx="1287.9" cy="1148.2" r="5.8"/>
<circle cx="1296.6" cy="1148.0" r="5.8"/>
<circle cx="1300.2" cy="1148.8" r="5.8"/>
<circle cx="1228.0" cy="1155.5" r="5.8"/>
<circle cx="1233.7" cy="1154.9" r="5.8"/>
<circle cx="1238.4" cy="1154.3" r="5.8"/>
<circle cx="1243.6" cy="1152.6" r="5.8"/>
<circle cx="1246.5" cy="1154.5" r="5.8"/>
<circle cx="1251.0" cy="1155.2" r="5.8"/>
<circle cx="1255.4" cy="1154.7" r="5.8"/>
<circle cx="1260.6" cy="1154.1" r="5.8"/>
<circle cx="1224.8" cy="1158.0" r="5.8"/>
<circle cx="1229.6" cy="1157.5" r="5.8"/>
<circle cx="1234.0" cy="1158.2" r="5.8"/>
<circle cx="1238.8" cy="1159.5" r="5.8"/>
<circle cx="1242.5" cy="1157.3" r="5.8"/>
<circle cx="1247.4" cy="1157.0" r="5.8"/>
<circle cx="1250.2" cy="1157.6" r="5.8"/>
<circle cx="1225.8" cy="1162.3" r="5.8"/>
<circle cx="1230.3" cy="1164.5" r="5.8"/>
<circle cx="1232.2" cy="1164.2" r="5.8"/>
<circle cx="1237.5" cy="1164.1" r="5.8"/>
<circle cx="1243.3" cy="1162.3" r="5.8"/>
<circle cx="1225.2" cy="1168.5" r="5.8"/>
<circle cx="1230.1" cy="1167.2" r="5.8"/>
<circle cx="1234.0" cy="1167.7" r="5.8"/>
<circle cx="1225.8" cy="1172.6" r="5.8"/>
<circle cx="1229.0" cy="1170.6" r="5.8"/>
<circle cx="1147.3" cy="1130.3" r="5.8"/>
<circle cx="1155.8" cy="1131.0" r="5.8"/>
<circle cx="1161.2" cy="1132.6" r="5.8"/>
<circle cx="1168.7" cy="1132.0" r="5.8"/>
<circle cx="1175.6" cy="1132.2" r="5.8"/>
<circle cx="1181.9" cy="1131.9" r="5.8"/>
<circle cx="1147.4" cy="1137.9" r="5.8"/>
<circle cx="1153.8" cy="1137.7" r="5.8"/>
<circle cx="1162.6" cy="1138.3" r="5.8"/>
<circle cx="1166.6" cy="1139.1" r="5.8"/>
<circle cx="1175.0" cy="1138.1" r="5.8"/>
<circle cx="1180.4" cy="1137.4" r="5.8"/>
<circle cx="1186.5" cy="1138.4" r="5.8"/>
<circle cx="1155.5" cy="1144.5" r="5.8"/>
<circle cx="1160.4" cy="1143.1" r="5.8"/>
<circle cx="1169.4" cy="1145.5" r="5.8"/>
<circle cx="1173.3" cy="1144.8" r="5.8"/>
<circle cx="1181.9" cy="1145.7" r="5.8"/>
<circle cx="1186.2" cy="1143.4" r="5.8"/>
<circle cx="1173.7" cy="1150.6" r="5.8"/>
<circle cx="1182.2" cy="1150.1" r="5.8"/>
<circle cx="1188.9" cy="1150.7" r="5.8"/>
<circle cx="1194.1" cy="1151.6" r="5.8"/>
<circle cx="1195.5" cy="1157.4" r="5.8"/>
<circle cx="1201.7" cy="1157.7" r="5.8"/>
<circle cx="1207.5" cy="1163.3" r="5.8"/>
<circle cx="1050.2" cy="1149.8" r="4.5"/>
<circle cx="1419.4" cy="1149.4" r="4.5"/>
</g>
<g fill="#619cff" fill-opacity="0.6">
<circle cx="1137.5" cy="805.2" r="5.8"/>
<circle cx="1153.0" cy="809.6" r="5.8"/>
<circle cx="1151.4" cy="860.8" r="5.8"/>
<circle cx="1152.0" cy="861.4" r="5.8"/>
<circle cx="1158.3" cy="864.4" r="5.8"/>
<circle cx="1125.6" cy="892.6" r="5.8"/>
<circle cx="1135.7" cy="890.4" r="5.8"/>
<circle cx="1160.7" cy="886.4" r="5.8"/>
<circle cx="1164.3" cy="888.6" r="5.8"/>
<circle cx="1164.9" cy="889.2" r="5.8"/>
<circle cx="1156.5" cy="896.0" r="5.8"/>
<circle cx="1157.1" cy="896.6" r="5.8"/>
<circle cx="1164.9" cy="900.7" r="5.8"/>
<circle cx="1154.2" cy="904.9" r="5.8"/>
<circle cx="1160.1" cy="911.4" r="5.8"/>
<circle cx="1160.7" cy="912.0" r="5.8"/>
<circle cx="1157.1" cy="917.4" r="5.8"/>
<circle cx="1166.7" cy="922.7" r="5.8"/>
<circle cx="1167.3" cy="923.3" r="5.8"/>
<circle cx="1174.4" cy="918.6" r="5.8"/>
<circle cx="1172.6" cy="923.3" r="5.8"/>
<circle cx="1141.1" cy="934.0" r="5.8"/>
<circle cx="1191.1" cy="932.6" r="5.8"/>
<circle cx="1165.5" cy="935.2" r="5.8"/>
<circle cx="1176.8" cy="937.6" r="5.8"/>
<circle cx="1164.3" cy="940.7" r="5.8"/>
<circle cx="1164.9" cy="941.3" r="5.8"/>
<circle cx="1155.4" cy="947.9" r="5.8"/>
<circle cx="1148.8" cy="959.2" r="5.8"/>
<circle cx="1149.4" cy="959.8" r="5.8"/>
<circle cx="1147.0" cy="968.7" r="5.8"/>
<circle cx="1164.3" cy="957.4" r="5.8"/>
<circle cx="1176.2" cy="953.2" r="5.8"/>
<circle cx="1183.9" cy="959.2" r="5.8"/>
<circle cx="1195.2" cy="961.5" r="5.8"/>
<circle cx="1151.2" cy="983.0" r="5.8"/>
<circle cx="1151.8" cy="983.6" r="5.8"/>
<circle cx="1150.6" cy="987.1" r="5.8"/>
<circle cx="1204.8" cy="986.0" r="5.8"/>
<circle cx="1166.1" cy="1000.2" r="5.8"/>
<circle cx="1203.6" cy="1003.8" r="5.8"/>
<circle cx="1204.2" cy="1004.4" r="5.8"/>
<circle cx="1168.5" cy="1015.1" r="5.8"/>
<circle cx="1209.5" cy="1022.9" r="5.8"/>
<circle cx="1161.9" cy="1025.2" r="5.8"/>
<circle cx="1117.9" cy="1040.1" r="5.8"/>
<circle cx="1103.6" cy="1045.5" r="5.8"/>
<circle cx="1101.2" cy="997.9" r="5.8"/>
<circle cx="1101.2" cy="1055.0" r="5.8"/>
<circle cx="1125.6" cy="1058.6" r="5.8"/>
<circle cx="1133.9" cy="1061.0" r="5.8"/>
<circle cx="1114.9" cy="1065.7" r="5.8"/>
<circle cx="1120.8" cy="1069.3" r="5.8"/>
<circle cx="1121.4" cy="1069.9" r="5.8"/>
<circle cx="1103.6" cy="1070.5" r="5.8"/>
<circle cx="1145.8" cy="1063.3" r="5.8"/>
<circle cx="1153.6" cy="1064.5" r="5.8"/>
<circle cx="1170.2" cy="1071.7" r="5.8"/>
<circle cx="1214.3" cy="1050.2" r="5.8"/>
<circle cx="1097.6" cy="998.0" r="5.8"/>
<circle cx="1078.6" cy="1006.3" r="5.8"/>
<circle cx="1088.7" cy="1026.9" r="5.8"/>
<circle cx="1103.6" cy="1045.6" r="5.8"/>
<circle cx="1098.2" cy="1054.8" r="5.8"/>
<circle cx="1114.3" cy="1040.2" r="5.8"/>
<circle cx="1113.7" cy="1065.8" r="5.8"/>
<circle cx="1102.4" cy="1071.0" r="5.8"/>
<circle cx="1021.4" cy="1067.4" r="5.8"/>
<circle cx="1160.0" cy="970.0" r="5.8"/>
<circle cx="1172.0" cy="966.0" r="5.8"/>
<circle cx="1185.0" cy="970.0" r="5.8"/>
<circle cx="1162.0" cy="980.0" r="5.8"/>
<circle cx="1190.0" cy="985.0" r="5.8"/>
<circle cx="1153.4" cy="954.7" r="5.8"/>
<circle cx="1161.2" cy="955.2" r="5.8"/>
<circle cx="1174.0" cy="951.3" r="5.8"/>
<circle cx="1181.4" cy="954.4" r="5.8"/>
<circle cx="1185.8" cy="954.0" r="5.8"/>
<circle cx="1154.1" cy="963.3" r="5.8"/>
<circle cx="1166.1" cy="959.8" r="5.8"/>
<circle cx="1169.9" cy="962.0" r="5.8"/>
<circle cx="1179.4" cy="962.0" r="5.8"/>
<circle cx="1188.0" cy="960.4" r="5.8"/>
<circle cx="1193.1" cy="958.8" r="5.8"/>
<circle cx="1156.9" cy="967.9" r="5.8"/>
<circle cx="1161.8" cy="966.4" r="5.8"/>
<circle cx="1169.2" cy="971.2" r="5.8"/>
<circle cx="1182.2" cy="970.5" r="5.8"/>
<circle cx="1185.7" cy="970.0" r="5.8"/>
<circle cx="1193.8" cy="971.3" r="5.8"/>
<circle cx="1150.1" cy="979.8" r="5.8"/>
<circle cx="1154.5" cy="976.6" r="5.8"/>
<circle cx="1165.4" cy="978.1" r="5.8"/>
<circle cx="1171.5" cy="976.7" r="5.8"/>
<circle cx="1182.8" cy="975.7" r="5.8"/>
<circle cx="1186.3" cy="978.1" r="5.8"/>
<circle cx="1194.7" cy="979.4" r="5.8"/>
<circle cx="1154.3" cy="983.0" r="5.8"/>
<circle cx="1161.2" cy="983.1" r="5.8"/>
<circle cx="1173.0" cy="982.4" r="5.8"/>
<circle cx="1178.4" cy="985.4" r="5.8"/>
<circle cx="1185.9" cy="984.0" r="5.8"/>
<circle cx="1194.4" cy="986.1" r="5.8"/>
<circle cx="1158.8" cy="995.4" r="5.8"/>
<circle cx="1165.9" cy="990.2" r="5.8"/>
<circle cx="1172.5" cy="995.7" r="5.8"/>
<circle cx="1180.8" cy="993.1" r="5.8"/>
<circle cx="1188.9" cy="991.1" r="5.8"/>
<circle cx="1197.4" cy="994.7" r="5.8"/>
<circle cx="1201.4" cy="993.1" r="5.8"/>
<circle cx="1158.4" cy="999.8" r="5.8"/>
<circle cx="1161.9" cy="1003.1" r="5.8"/>
<circle cx="1172.7" cy="1003.0" r="5.8"/>
<circle cx="1182.2" cy="999.7" r="5.8"/>
<circle cx="1188.5" cy="999.8" r="5.8"/>
<circle cx="1197.8" cy="1002.1" r="5.8"/>
<circle cx="1202.4" cy="1001.0" r="5.8"/>
<circle cx="1166.6" cy="1011.0" r="5.8"/>
<circle cx="1169.3" cy="1011.0" r="5.8"/>
<circle cx="1181.3" cy="1010.2" r="5.8"/>
<circle cx="1185.2" cy="1010.6" r="5.8"/>
<circle cx="1194.2" cy="1010.8" r="5.8"/>
<circle cx="1202.9" cy="1008.2" r="5.8"/>
<circle cx="1156.1" cy="1014.9" r="5.8"/>
<circle cx="1164.9" cy="1017.2" r="5.8"/>
<circle cx="1169.2" cy="1018.9" r="5.8"/>
<circle cx="1178.6" cy="1014.1" r="5.8"/>
<circle cx="1189.6" cy="1018.4" r="5.8"/>
<circle cx="1195.3" cy="1015.1" r="5.8"/>
<circle cx="1204.2" cy="1017.5" r="5.8"/>
<circle cx="1154.1" cy="1023.1" r="5.8"/>
<circle cx="1163.9" cy="1026.5" r="5.8"/>
<circle cx="1173.8" cy="1027.1" r="5.8"/>
<circle cx="1179.6" cy="1026.3" r="5.8"/>
<circle cx="1185.6" cy="1024.3" r="5.8"/>
<circle cx="1193.4" cy="1027.0" r="5.8"/>
<circle cx="1207.0" cy="1026.0" r="5.8"/>
<circle cx="1155.2" cy="1032.1" r="5.8"/>
<circle cx="1166.2" cy="1031.0" r="5.8"/>
<circle cx="1170.0" cy="1030.5" r="5.8"/>
<circle cx="1182.1" cy="1031.9" r="5.8"/>
<circle cx="1190.4" cy="1031.9" r="5.8"/>
<circle cx="1198.0" cy="1031.2" r="5.8"/>
<circle cx="1206.4" cy="1035.8" r="5.8"/>
<circle cx="1150.4" cy="1043.5" r="5.8"/>
<circle cx="1158.8" cy="1039.7" r="5.8"/>
<circle cx="1166.1" cy="1042.7" r="5.8"/>
<circle cx="1171.1" cy="1039.0" r="5.8"/>
<circle cx="1182.4" cy="1040.8" r="5.8"/>
<circle cx="1188.2" cy="1043.3" r="5.8"/>
<circle cx="1195.9" cy="1039.5" r="5.8"/>
<circle cx="1205.1" cy="1041.2" r="5.8"/>
<circle cx="1210.6" cy="1042.2" r="5.8"/>
<circle cx="1150.4" cy="1047.5" r="5.8"/>
<circle cx="1157.9" cy="1050.5" r="5.8"/>
<circle cx="1164.1" cy="1047.2" r="5.8"/>
<circle cx="1173.0" cy="1047.7" r="5.8"/>
<circle cx="1178.5" cy="1051.1" r="5.8"/>
<circle cx="1186.6" cy="1046.6" r="5.8"/>
<circle cx="1198.1" cy="1052.0" r="5.8"/>
<circle cx="1202.8" cy="1048.4" r="5.8"/>
<circle cx="1212.3" cy="1050.5" r="5.8"/>
<circle cx="1154.4" cy="1059.6" r="5.8"/>
<circle cx="1163.5" cy="1059.7" r="5.8"/>
<circle cx="1171.7" cy="1057.9" r="5.8"/>
<circle cx="1177.2" cy="1055.2" r="5.8"/>
<circle cx="1186.8" cy="1056.2" r="5.8"/>
<circle cx="1194.0" cy="1056.5" r="5.8"/>
<circle cx="1201.5" cy="1057.4" r="5.8"/>
<circle cx="1157.4" cy="1065.8" r="5.8"/>
<circle cx="1163.7" cy="1062.5" r="5.8"/>
<circle cx="1174.4" cy="1067.4" r="5.8"/>
<circle cx="1181.8" cy="1066.1" r="5.8"/>
<circle cx="1189.9" cy="1067.8" r="5.8"/>
<circle cx="1198.8" cy="1066.6" r="5.8"/>
<circle cx="1201.1" cy="1067.7" r="5.8"/>
<circle cx="1212.4" cy="1064.7" r="5.8"/>
<circle cx="1153.2" cy="1073.7" r="5.8"/>
<circle cx="1164.7" cy="1070.5" r="5.8"/>
<circle cx="1182.2" cy="1073.2" r="5.8"/>
<circle cx="1187.3" cy="1072.8" r="5.8"/>
<circle cx="1212.1" cy="1073.1" r="5.8"/>
<circle cx="1196.4" cy="1031.4" r="5.8"/>
<circle cx="1202.2" cy="1031.9" r="5.8"/>
<circle cx="1177.8" cy="1035.2" r="5.8"/>
<circle cx="1181.9" cy="1036.2" r="5.8"/>
<circle cx="1187.3" cy="1035.9" r="5.8"/>
<circle cx="1193.4" cy="1036.1" r="5.8"/>
<circle cx="1201.5" cy="1036.5" r="5.8"/>
<circle cx="1175.7" cy="1042.5" r="5.8"/>
<circle cx="1185.0" cy="1043.6" r="5.8"/>
<circle cx="1189.2" cy="1043.7" r="5.8"/>
<circle cx="1196.4" cy="1044.1" r="5.8"/>
<circle cx="1199.9" cy="1041.1" r="5.8"/>
<circle cx="1206.3" cy="1042.1" r="5.8"/>
<circle cx="1171.6" cy="1048.6" r="5.8"/>
<circle cx="1178.7" cy="1048.8" r="5.8"/>
<circle cx="1182.1" cy="1048.0" r="5.8"/>
<circle cx="1189.2" cy="1048.1" r="5.8"/>
<circle cx="1195.3" cy="1050.6" r="5.8"/>
<circle cx="1200.6" cy="1047.9" r="5.8"/>
<circle cx="1209.0" cy="1049.0" r="5.8"/>
<circle cx="1172.2" cy="1054.7" r="5.8"/>
<circle cx="1175.3" cy="1054.5" r="5.8"/>
<circle cx="1185.0" cy="1055.1" r="5.8"/>
<circle cx="1190.9" cy="1056.4" r="5.8"/>
<circle cx="1193.0" cy="1055.9" r="5.8"/>
<circle cx="1201.7" cy="1055.1" r="5.8"/>
<circle cx="1206.1" cy="1055.6" r="5.8"/>
<circle cx="1211.4" cy="1054.7" r="5.8"/>
<circle cx="1172.5" cy="1060.1" r="5.8"/>
<circle cx="1177.0" cy="1059.7" r="5.8"/>
<circle cx="1184.7" cy="1062.5" r="5.8"/>
<circle cx="1188.2" cy="1061.6" r="5.8"/>
<circle cx="1195.4" cy="1059.6" r="5.8"/>
<circle cx="1202.1" cy="1061.2" r="5.8"/>
<circle cx="1208.1" cy="1061.1" r="5.8"/>
<circle cx="1211.0" cy="1060.3" r="5.8"/>
<circle cx="1176.2" cy="1065.2" r="5.8"/>
<circle cx="1184.5" cy="1068.8" r="5.8"/>
<circle cx="1187.3" cy="1066.9" r="5.8"/>
<circle cx="1193.3" cy="1068.0" r="5.8"/>
<circle cx="1202.1" cy="1065.5" r="5.8"/>
<circle cx="1206.9" cy="1067.2" r="5.8"/>
<circle cx="1212.1" cy="1068.5" r="5.8"/>
<circle cx="1185.0" cy="1073.6" r="5.8"/>
<circle cx="1188.8" cy="1073.1" r="5.8"/>
<circle cx="1193.5" cy="1071.9" r="5.8"/>
<circle cx="1200.4" cy="1073.4" r="5.8"/>
<circle cx="1205.9" cy="1071.9" r="5.8"/>
<circle cx="1211.3" cy="1073.5" r="5.8"/>
</g>
<g fill="#f8766d" fill-opacity="0.6">
<circle cx="1262.5" cy="830.4" r="5.8"/>
<circle cx="1245.8" cy="912.5" r="5.8"/>
<circle cx="1245.4" cy="930.7" r="5.8"/>
<circle cx="1283.3" cy="909.7" r="5.8"/>
<circle cx="1283.9" cy="910.3" r="5.8"/>
<circle cx="1291.5" cy="915.7" r="5.8"/>
<circle cx="1289.3" cy="938.0" r="5.8"/>
<circle cx="1241.7" cy="999.8" r="5.8"/>
<circle cx="1242.3" cy="1000.4" r="5.8"/>
<circle cx="1258.7" cy="993.3" r="5.8"/>
<circle cx="1260.4" cy="1015.4" r="5.8"/>
<circle cx="1276.9" cy="1025.5" r="5.8"/>
<circle cx="1237.9" cy="1030.8" r="5.8"/>
<circle cx="1245.4" cy="1029.8" r="5.8"/>
<circle cx="1246.0" cy="1030.4" r="5.8"/>
<circle cx="1256.7" cy="1029.1" r="5.8"/>
<circle cx="1257.3" cy="1029.7" r="5.8"/>
<circle cx="1245.4" cy="1039.0" r="5.8"/>
<circle cx="1259.3" cy="1041.6" r="5.8"/>
<circle cx="1269.0" cy="1039.4" r="5.8"/>
<circle cx="1246.4" cy="1051.2" r="5.8"/>
<circle cx="1247.0" cy="1051.8" r="5.8"/>
<circle cx="1252.4" cy="1070.1" r="5.8"/>
<circle cx="1279.7" cy="1071.2" r="5.8"/>
</g>
<path d="M58.4,559.4 L58.4,142.8 L568.6,142.8 L568.6,559.4" fill="none" stroke="#222" stroke-width="1.4"/>
<line x1="57.7" y1="559.4" x2="569.3" y2="559.4" stroke="#cccccc" stroke-width="1.6"/>
<line x1="138.7" y1="559.4" x2="138.7" y2="563.4" stroke="#999" stroke-width="1"/>
<text class="tk" x="138.7" y="579.0" font-size="20.5" text-anchor="middle" font-family='"Liberation Sans", Arial, sans-serif' >−10</text>
<line x1="225.5" y1="559.4" x2="225.5" y2="563.4" stroke="#999" stroke-width="1"/>
<text class="tk" x="225.5" y="579.0" font-size="20.5" text-anchor="middle" font-family='"Liberation Sans", Arial, sans-serif' >−5</text>
<line x1="312.4" y1="559.4" x2="312.4" y2="563.4" stroke="#999" stroke-width="1"/>
<text class="tk" x="312.4" y="579.0" font-size="20.5" text-anchor="middle" font-family='"Liberation Sans", Arial, sans-serif' >0</text>
<line x1="399.2" y1="559.4" x2="399.2" y2="563.4" stroke="#999" stroke-width="1"/>
<text class="tk" x="399.2" y="579.0" font-size="20.5" text-anchor="middle" font-family='"Liberation Sans", Arial, sans-serif' >5</text>
<line x1="486.1" y1="559.4" x2="486.1" y2="563.4" stroke="#999" stroke-width="1"/>
<text class="tk" x="486.1" y="579.0" font-size="20.5" text-anchor="middle" font-family='"Liberation Sans", Arial, sans-serif' >10</text>
<line x1="54.4" y1="541.1" x2="58.4" y2="541.1" stroke="#444" stroke-width="1"/>
<text class="tk" x="52.9" y="548.3" font-size="20.5" text-anchor="end" font-family='"Liberation Sans", Arial, sans-serif' >0</text>
<line x1="54.4" y1="450.9" x2="58.4" y2="450.9" stroke="#444" stroke-width="1"/>
<text class="tk" x="52.9" y="458.0" font-size="20.5" text-anchor="end" font-family='"Liberation Sans", Arial, sans-serif' >1</text>
<line x1="54.4" y1="360.6" x2="58.4" y2="360.6" stroke="#444" stroke-width="1"/>
<text class="tk" x="52.9" y="367.8" font-size="20.5" text-anchor="end" font-family='"Liberation Sans", Arial, sans-serif' >2</text>
<line x1="54.4" y1="270.4" x2="58.4" y2="270.4" stroke="#444" stroke-width="1"/>
<text class="tk" x="52.9" y="277.5" font-size="20.5" text-anchor="end" font-family='"Liberation Sans", Arial, sans-serif' >3</text>
<line x1="54.4" y1="180.1" x2="58.4" y2="180.1" stroke="#444" stroke-width="1"/>
<text class="tk" x="52.9" y="187.3" font-size="20.5" text-anchor="end" font-family='"Liberation Sans", Arial, sans-serif' >4</text>
<rect x="991.8" y="144.6" width="516.2" height="421.1" fill="none" stroke="#1a1a1a" stroke-width="1.4"/>
<line x1="1101.0" y1="565.7" x2="1101.0" y2="569.7" stroke="#333" stroke-width="1"/>
<text class="tk" x="1101.0" y="587.1" font-size="23.5" text-anchor="middle" font-family='"Liberation Sans", Arial, sans-serif' >−10</text>
<line x1="1250.7" y1="565.7" x2="1250.7" y2="569.7" stroke="#333" stroke-width="1"/>
<text class="tk" x="1250.7" y="587.1" font-size="23.5" text-anchor="middle" font-family='"Liberation Sans", Arial, sans-serif' >0</text>
<line x1="1400.4" y1="565.7" x2="1400.4" y2="569.7" stroke="#333" stroke-width="1"/>
<text class="tk" x="1400.4" y="587.1" font-size="23.5" text-anchor="middle" font-family='"Liberation Sans", Arial, sans-serif' >10</text>
<line x1="987.8" y1="548.0" x2="991.8" y2="548.0" stroke="#444" stroke-width="1"/>
<text class="tk" x="988.2" y="556.2" font-size="23.5" text-anchor="end" font-family='"Liberation Sans", Arial, sans-serif' >0</text>
<line x1="987.8" y1="463.5" x2="991.8" y2="463.5" stroke="#444" stroke-width="1"/>
<text class="tk" x="988.2" y="471.7" font-size="23.5" text-anchor="end" font-family='"Liberation Sans", Arial, sans-serif' >1</text>
<line x1="987.8" y1="379.0" x2="991.8" y2="379.0" stroke="#444" stroke-width="1"/>
<text class="tk" x="988.2" y="387.2" font-size="23.5" text-anchor="end" font-family='"Liberation Sans", Arial, sans-serif' >2</text>
<line x1="987.8" y1="294.5" x2="991.8" y2="294.5" stroke="#444" stroke-width="1"/>
<text class="tk" x="988.2" y="302.7" font-size="23.5" text-anchor="end" font-family='"Liberation Sans", Arial, sans-serif' >3</text>
<line x1="987.8" y1="210.0" x2="991.8" y2="210.0" stroke="#444" stroke-width="1"/>
<text class="tk" x="988.2" y="218.2" font-size="23.5" text-anchor="end" font-family='"Liberation Sans", Arial, sans-serif' >4</text>
<rect x="63.1" y="779.7" width="512.5" height="419.3" fill="none" stroke="#1a1a1a" stroke-width="1.4"/>
<line x1="183.4" y1="1199.0" x2="183.4" y2="1203.0" stroke="#333" stroke-width="1"/>
<text class="tk" x="183.4" y="1218.0" font-size="21.0" text-anchor="middle" font-family='"Liberation Sans", Arial, sans-serif' >−10</text>
<line x1="319.3" y1="1199.0" x2="319.3" y2="1203.0" stroke="#333" stroke-width="1"/>
<text class="tk" x="319.3" y="1218.0" font-size="21.0" text-anchor="middle" font-family='"Liberation Sans", Arial, sans-serif' >0</text>
<line x1="455.2" y1="1199.0" x2="455.2" y2="1203.0" stroke="#333" stroke-width="1"/>
<text class="tk" x="455.2" y="1218.0" font-size="21.0" text-anchor="middle" font-family='"Liberation Sans", Arial, sans-serif' >10</text>
<line x1="59.1" y1="1181.6" x2="63.1" y2="1181.6" stroke="#444" stroke-width="1"/>
<text class="tk" x="58.5" y="1188.9" font-size="21.0" text-anchor="end" font-family='"Liberation Sans", Arial, sans-serif' >0</text>
<line x1="59.1" y1="1069.2" x2="63.1" y2="1069.2" stroke="#444" stroke-width="1"/>
<text class="tk" x="58.5" y="1076.5" font-size="21.0" text-anchor="end" font-family='"Liberation Sans", Arial, sans-serif' >2</text>
<line x1="59.1" y1="956.8" x2="63.1" y2="956.8" stroke="#444" stroke-width="1"/>
<text class="tk" x="58.5" y="964.1" font-size="21.0" text-anchor="end" font-family='"Liberation Sans", Arial, sans-serif' >4</text>
<line x1="59.1" y1="844.4" x2="63.1" y2="844.4" stroke="#444" stroke-width="1"/>
<text class="tk" x="58.5" y="851.7" font-size="21.0" text-anchor="end" font-family='"Liberation Sans", Arial, sans-serif' >6</text>
<path d="M973.3,787.4 L973.3,1198.4 L1477.5,1198.4 L1477.5,787.4" fill="none" stroke="#1a1a1a" stroke-width="1.5"/>
<line x1="973.3" y1="787.4" x2="1477.5" y2="787.4" stroke="#666" stroke-width="1.1"/>
<line x1="1037.2" y1="1198.4" x2="1037.2" y2="1202.4" stroke="#333" stroke-width="1"/>
<text class="tk" x="1037.2" y="1218.4" font-size="20.8" text-anchor="middle" font-family='"Liberation Sans", Arial, sans-serif' >−10</text>
<line x1="1131.0" y1="1198.4" x2="1131.0" y2="1202.4" stroke="#333" stroke-width="1"/>
<text class="tk" x="1131.0" y="1218.4" font-size="20.8" text-anchor="middle" font-family='"Liberation Sans", Arial, sans-serif' >−5</text>
<line x1="1224.7" y1="1198.4" x2="1224.7" y2="1202.4" stroke="#333" stroke-width="1"/>
<text class="tk" x="1224.7" y="1218.4" font-size="20.8" text-anchor="middle" font-family='"Liberation Sans", Arial, sans-serif' >0</text>
<line x1="1318.5" y1="1198.4" x2="1318.5" y2="1202.4" stroke="#333" stroke-width="1"/>
<text class="tk" x="1318.5" y="1218.4" font-size="20.8" text-anchor="middle" font-family='"Liberation Sans", Arial, sans-serif' >5</text>
<line x1="1412.2" y1="1198.4" x2="1412.2" y2="1202.4" stroke="#333" stroke-width="1"/>
<text class="tk" x="1412.2" y="1218.4" font-size="20.8" text-anchor="middle" font-family='"Liberation Sans", Arial, sans-serif' >10</text>
<line x1="969.3" y1="1180.1" x2="973.3" y2="1180.1" stroke="#444" stroke-width="1"/>
<text class="tk" x="968.3" y="1187.4" font-size="20.8" text-anchor="end" font-family='"Liberation Sans", Arial, sans-serif' >0</text>
<line x1="969.3" y1="1098.2" x2="973.3" y2="1098.2" stroke="#444" stroke-width="1"/>
<text class="tk" x="968.3" y="1105.5" font-size="20.8" text-anchor="end" font-family='"Liberation Sans", Arial, sans-serif' >1</text>
<line x1="969.3" y1="1016.3" x2="973.3" y2="1016.3" stroke="#444" stroke-width="1"/>
<text class="tk" x="968.3" y="1023.6" font-size="20.8" text-anchor="end" font-family='"Liberation Sans", Arial, sans-serif' >2</text>
<line x1="969.3" y1="934.4" x2="973.3" y2="934.4" stroke="#444" stroke-width="1"/>
<text class="tk" x="968.3" y="941.7" font-size="20.8" text-anchor="end" font-family='"Liberation Sans", Arial, sans-serif' >3</text>
<line x1="969.3" y1="852.5" x2="973.3" y2="852.5" stroke="#444" stroke-width="1"/>
<text class="tk" x="968.3" y="859.8" font-size="20.8" text-anchor="end" font-family='"Liberation Sans", Arial, sans-serif' >4</text>
<text class="lab" x="2.0" y="31.8" font-size="44" text-anchor="start" font-family='"Liberation Serif", "Times New Roman", serif' >A.</text>
<text class="lab" x="1032.5" y="31.5" font-size="44" text-anchor="start" font-family='"Liberation Serif", "Times New Roman", serif' >B.</text>
<text class="lab" x="3.0" y="666.6" font-size="44" text-anchor="start" font-family='"Liberation Serif", "Times New Roman", serif' >C.</text>
<text class="lab" x="1015.0" y="665.9" font-size="44" text-anchor="start" font-family='"Liberation Serif", "Times New Roman", serif' >D.</text>
<text class="t" x="410.3" y="181.0" font-size="31" text-anchor="start" font-family='"Liberation Sans", Arial, sans-serif' >Up: 45</text>
<text class="t" x="410.3" y="208.9" font-size="31" text-anchor="start" font-family='"Liberation Sans", Arial, sans-serif' >Down:</text>
<text class="t" x="554.0" y="211.6" font-size="31" text-anchor="end" font-family='"Liberation Sans", Arial, sans-serif' >192</text>
<text class="t" transform="translate(584.7,277.5) scale(1.069,1)" font-size="29.5" text-anchor="start" font-family='"Liberation Sans", Arial, sans-serif' >Status</text>
<text class="t" transform="translate(609.7,304.2) scale(1.069,1)" font-size="29.5" text-anchor="start" font-family='"Liberation Sans", Arial, sans-serif' >not significant</text>
<text class="t" transform="translate(609.7,330.0) scale(1.069,1)" font-size="29.5" text-anchor="start" font-family='"Liberation Sans", Arial, sans-serif' >down−regulated</text>
<text class="t" transform="translate(609.7,355.0) scale(1.069,1)" font-size="29.5" text-anchor="start" font-family='"Liberation Sans", Arial, sans-serif' >up−regulated</text>
<text class="t" transform="translate(584.7,388.3) scale(1.069,1)" font-size="29.5" text-anchor="start" font-family='"Liberation Sans", Arial, sans-serif' >VIP</text>
<text class="t" transform="translate(609.7,415.8) scale(1.069,1)" font-size="29.5" text-anchor="start" font-family='"Liberation Sans", Arial, sans-serif' >0.0</text>
<text class="t" transform="translate(609.7,441.7) scale(1.069,1)" font-size="29.5" text-anchor="start" font-family='"Liberation Sans", Arial, sans-serif' >1.7</text>
<circle cx="593.3" cy="298.3" r="3.8" fill="#b3b3b3" fill-opacity="0.55"/>
<circle cx="593.3" cy="322.5" r="3.8" fill="#619cff" fill-opacity="0.6"/>
<circle cx="593.3" cy="347.5" r="3.8" fill="#f8766d" fill-opacity="0.6"/>
<circle cx="593.8" cy="406.7" r="2.1" fill="#000"/>
<circle cx="593.3" cy="433.3" r="6.3" fill="#000"/>
<text class="t" x="220.8" y="606.4" font-size="30" font-family='"Liberation Sans", Arial, sans-serif' textLength="234.7" lengthAdjust="spacingAndGlyphs">log<tspan dy="12.4">2</tspan><tspan dy="-12.4">Fold Change</tspan></text>
<text class="t" transform="translate(30.5,409.7) rotate(-90)" x="0" y="0" font-size="30" font-family='"Liberation Sans", Arial, sans-serif' textLength="177.0" lengthAdjust="spacingAndGlyphs">log<tspan dy="3.0">10</tspan><tspan dy="-3.0" font-style="italic">P</tspan>–value</text>
<text class="t" x="1344.8" y="185.7" font-size="31" text-anchor="start" font-family='"Liberation Sans", Arial, sans-serif' >Up: 68</text>
<text class="t" x="1344.8" y="216.2" font-size="31" text-anchor="start" font-family='"Liberation Sans", Arial, sans-serif' >Down:</text>
<text class="t" x="1494.4" y="217.9" font-size="31" text-anchor="end" font-family='"Liberation Sans", Arial, sans-serif' >149</text>
<text class="t" transform="translate(1516.1,285.8) scale(1.081,1)" font-size="29.5" text-anchor="start" font-family='"Liberation Sans", Arial, sans-serif' >Status</text>
<text class="t" transform="translate(1541.5,311.5) scale(1.081,1)" font-size="29.5" text-anchor="start" font-family='"Liberation Sans", Arial, sans-serif' >not significant</text>
<text class="t" transform="translate(1541.5,337.0) scale(1.081,1)" font-size="29.5" text-anchor="start" font-family='"Liberation Sans", Arial, sans-serif' >down−regulated</text>
<text class="t" transform="translate(1541.5,363.1) scale(1.081,1)" font-size="29.5" text-anchor="start" font-family='"Liberation Sans", Arial, sans-serif' >up−regulated</text>
<text class="t" transform="translate(1516.1,408.0) scale(1.081,1)" font-size="29.5" text-anchor="start" font-family='"Liberation Sans", Arial, sans-serif' >VIP</text>
<text class="t" transform="translate(1541.5,437.7) scale(1.081,1)" font-size="29.5" text-anchor="start" font-family='"Liberation Sans", Arial, sans-serif' >0.0</text>
<text class="t" transform="translate(1541.5,463.9) scale(1.081,1)" font-size="29.5" text-anchor="start" font-family='"Liberation Sans", Arial, sans-serif' >1.7</text>
<circle cx="1525.3" cy="304.1" r="3.8" fill="#b3b3b3" fill-opacity="0.55"/>
<circle cx="1525.3" cy="330.3" r="3.8" fill="#619cff" fill-opacity="0.6"/>
<circle cx="1525.3" cy="355.6" r="3.8" fill="#f8766d" fill-opacity="0.6"/>
<circle cx="1525.8" cy="430.7" r="2.1" fill="#000"/>
<circle cx="1525.3" cy="452.5" r="6.3" fill="#000"/>
<text class="t" x="1160.6" y="611.6" font-size="30" font-family='"Liberation Sans", Arial, sans-serif' textLength="233.1" lengthAdjust="spacingAndGlyphs">log<tspan dy="9.4">2</tspan><tspan dy="-9.4">Fold Change</tspan></text>
<text class="t" transform="translate(965.8,430.0) rotate(-90)" x="0" y="0" font-size="30" font-family='"Liberation Sans", Arial, sans-serif' textLength="178.0" lengthAdjust="spacingAndGlyphs">log<tspan dy="9.0">10</tspan><tspan dy="-9.0" font-style="italic">P</tspan>–value</text>
<text class="t" x="419.2" y="830.1" font-size="31" text-anchor="start" font-family='"Liberation Sans", Arial, sans-serif' >Up: 146</text>
<text class="t" x="419.2" y="858.3" font-size="31" text-anchor="start" font-family='"Liberation Sans", Arial, sans-serif' >Down: 302</text>
<text class="t" transform="translate(583.7,916.7) scale(1.074,1)" font-size="29.5" text-anchor="start" font-family='"Liberation Sans", Arial, sans-serif' >Status</text>
<text class="t" transform="translate(609.0,945.5) scale(1.074,1)" font-size="29.5" text-anchor="start" font-family='"Liberation Sans", Arial, sans-serif' >not significant</text>
<text class="t" transform="translate(609.0,970.8) scale(1.074,1)" font-size="29.5" text-anchor="start" font-family='"Liberation Sans", Arial, sans-serif' >down−regulated</text>
<text class="t" transform="translate(609.0,1000.5) scale(1.074,1)" font-size="29.5" text-anchor="start" font-family='"Liberation Sans", Arial, sans-serif' >up−regulated</text>
<text class="t" transform="translate(583.7,1038.9) scale(1.074,1)" font-size="29.5" text-anchor="start" font-family='"Liberation Sans", Arial, sans-serif' >VIP</text>
<text class="t" transform="translate(609.0,1065.9) scale(1.074,1)" font-size="29.5" text-anchor="start" font-family='"Liberation Sans", Arial, sans-serif' >0.0</text>
<text class="t" transform="translate(609.0,1093.0) scale(1.074,1)" font-size="29.5" text-anchor="start" font-family='"Liberation Sans", Arial, sans-serif' >1.4</text>
<circle cx="592.5" cy="937.6" r="3.8" fill="#b3b3b3" fill-opacity="0.55"/>
<circle cx="592.5" cy="963.8" r="3.8" fill="#619cff" fill-opacity="0.6"/>
<circle cx="592.5" cy="991.7" r="3.8" fill="#f8766d" fill-opacity="0.6"/>
<circle cx="593.0" cy="1058.0" r="2.1" fill="#000"/>
<circle cx="592.5" cy="1079.9" r="6.3" fill="#000"/>
<text class="t" x="227.7" y="1245.8" font-size="30" font-family='"Liberation Sans", Arial, sans-serif' textLength="235.0" lengthAdjust="spacingAndGlyphs">log<tspan dy="7.7">2</tspan><tspan dy="-7.7">Fold Change</tspan></text>
<text class="t" transform="translate(30.2,1056.5) rotate(-90)" x="0" y="0" font-size="30" font-family='"Liberation Sans", Arial, sans-serif' textLength="175.4" lengthAdjust="spacingAndGlyphs">log<tspan dy="10.0">10</tspan><tspan dy="-10.0" font-style="italic">P</tspan>–value</text>
<text class="t" x="1323.7" y="835.6" font-size="30.3" text-anchor="start" font-family='"Liberation Sans", Arial, sans-serif' >Up: 25</text>
<text class="t" x="1323.7" y="863.8" font-size="30.3" text-anchor="start" font-family='"Liberation Sans", Arial, sans-serif' >Down: 201</text>
<text class="t" transform="translate(1493.6,915.8) scale(1.092,1)" font-size="28.5" text-anchor="start" font-family='"Liberation Sans", Arial, sans-serif' >Status</text>
<text class="t" transform="translate(1518.4,941.1) scale(1.092,1)" font-size="28.5" text-anchor="start" font-family='"Liberation Sans", Arial, sans-serif' >not significant</text>
<text class="t" transform="translate(1518.4,965.5) scale(1.092,1)" font-size="28.5" text-anchor="start" font-family='"Liberation Sans", Arial, sans-serif' >down−regulated</text>
<text class="t" transform="translate(1518.4,990.0) scale(1.092,1)" font-size="28.5" text-anchor="start" font-family='"Liberation Sans", Arial, sans-serif' >up−regulated</text>
<text class="t" transform="translate(1493.6,1030.1) scale(1.092,1)" font-size="28.5" text-anchor="start" font-family='"Liberation Sans", Arial, sans-serif' >VIP</text>
<text class="t" transform="translate(1518.4,1054.6) scale(1.092,1)" font-size="28.5" text-anchor="start" font-family='"Liberation Sans", Arial, sans-serif' >0.0</text>
<text class="t" transform="translate(1518.4,1080.8) scale(1.092,1)" font-size="28.5" text-anchor="start" font-family='"Liberation Sans", Arial, sans-serif' >1.8</text>
<circle cx="1501.8" cy="934.1" r="3.8" fill="#b3b3b3" fill-opacity="0.55"/>
<circle cx="1501.8" cy="958.6" r="3.8" fill="#619cff" fill-opacity="0.6"/>
<circle cx="1501.8" cy="983.0" r="3.8" fill="#f8766d" fill-opacity="0.6"/>
<circle cx="1502.3" cy="1048.5" r="2.1" fill="#000"/>
<circle cx="1501.8" cy="1070.3" r="6.3" fill="#000"/>
<text class="t" x="1134.4" y="1241.2" font-size="30" font-family='"Liberation Sans", Arial, sans-serif' textLength="222.8" lengthAdjust="spacingAndGlyphs">log<tspan dy="9.5">2</tspan><tspan dy="-9.5">Fold Change</tspan></text>
<text class="t" transform="translate(941.7,1064.1) rotate(-90)" x="0" y="0" font-size="30" font-family='"Liberation Sans", Arial, sans-serif' textLength="168.2" lengthAdjust="spacingAndGlyphs">log<tspan dy="10.0">10</tspan><tspan dy="-10.0" font-style="italic">P</tspan>–value</text>
</svg>
</body></html>
